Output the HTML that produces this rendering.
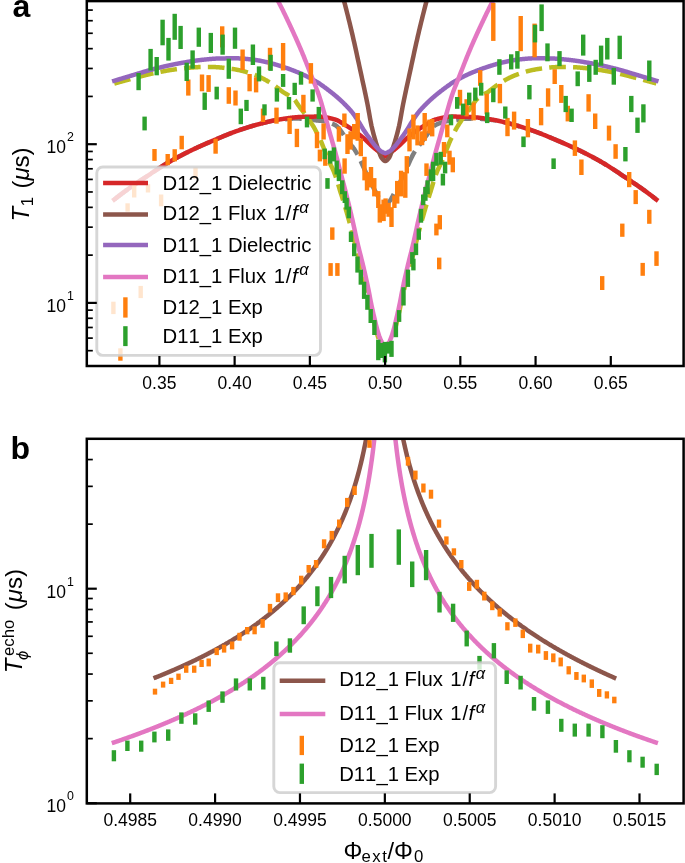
<!DOCTYPE html>
<html><head><meta charset="utf-8"><style>html,body{margin:0;padding:0;background:#fff;}svg{display:block;font-kerning:none;will-change:transform;}</style></head><body>
<svg width="685" height="863" viewBox="0 0 685 863">
<defs><clipPath id="ca"><rect x="86.8" y="1.1" width="596.8" height="364.9"/></clipPath>
<clipPath id="cb"><rect x="86.8" y="438.8" width="596.8" height="364.6"/></clipPath></defs>
<rect width="685" height="863" fill="#fff"/>
<g clip-path="url(#ca)">
<path d="M114.26,199.53 L114.65,199.22 L115.03,198.92 L115.42,198.61 L115.81,198.30 L116.20,198.00 L116.58,197.69 L116.97,197.39 L117.36,197.09 L117.75,196.79 L118.13,196.49 L118.52,196.19 L118.91,195.89 L119.30,195.59 L119.68,195.29 L120.07,195.00 L120.46,194.70 L120.85,194.41 L121.23,194.11 L121.62,193.82 L122.01,193.53 L122.40,193.24 L122.78,192.95 L123.17,192.66 L123.56,192.37 L123.95,192.09 L124.33,191.80 L124.72,191.51 L125.11,191.23 L125.50,190.95 L125.88,190.67 L126.27,190.38 L126.66,190.10 L127.05,189.83 L127.43,189.55 L127.82,189.27 L128.21,188.99 L128.60,188.72 L128.98,188.44 L129.37,188.17 L129.76,187.90 L130.15,187.62 L130.53,187.35 L130.92,187.08 L131.31,186.81 L131.70,186.54 L132.08,186.27 L132.47,186.00 L132.86,185.73 L133.25,185.46 L133.63,185.19 L134.02,184.92 L134.41,184.66 L134.80,184.39 L135.18,184.12 L135.57,183.86 L135.96,183.59 L136.35,183.33 L136.73,183.06 L137.12,182.80 L137.51,182.54 L137.90,182.28 L138.28,182.01 L138.67,181.75 L139.06,181.49 L139.45,181.23 L139.83,180.97 L140.22,180.71 L140.61,180.45 L141.00,180.19 L141.38,179.94 L141.77,179.68 L142.16,179.42 L142.55,179.16 L142.93,178.90 L143.32,178.64 L143.71,178.38 L144.10,178.12 L144.48,177.86 L144.87,177.61 L145.26,177.35 L145.65,177.09 L146.03,176.83 L146.42,176.57 L146.81,176.31 L147.20,176.05 L147.58,175.79 L147.97,175.54 L148.36,175.28 L148.75,175.02 L149.13,174.76 L149.52,174.51 L149.91,174.25 L150.30,173.99 L150.68,173.74 L151.07,173.48 L151.46,173.22 L151.85,172.97 L152.23,172.71 L152.62,172.46 L153.01,172.20 L153.40,171.95 L153.78,171.70 L154.17,171.44 L154.56,171.19 L154.94,170.93 L155.33,170.68 L155.72,170.43 L156.11,170.17 L156.49,169.92 L156.88,169.66 L157.27,169.41 L157.66,169.16 L158.04,168.90 L158.43,168.65 L158.82,168.40 L159.21,168.14 L159.59,167.89 L159.98,167.64 L160.37,167.39 L160.76,167.14 L161.14,166.89 L161.53,166.64 L161.92,166.40 L162.31,166.15 L162.69,165.91 L163.08,165.67 L163.47,165.43 L163.86,165.19 L164.24,164.95 L164.63,164.71 L165.02,164.48 L165.41,164.24 L165.79,164.01 L166.18,163.77 L166.57,163.54 L166.96,163.31 L167.34,163.08 L167.73,162.85 L168.12,162.62 L168.51,162.40 L168.89,162.17 L169.28,161.94 L169.67,161.72 L170.06,161.49 L170.44,161.27 L170.83,161.05 L171.22,160.83 L171.61,160.61 L171.99,160.39 L172.38,160.17 L172.77,159.95 L173.16,159.73 L173.54,159.51 L173.93,159.30 L174.32,159.08 L174.71,158.87 L175.09,158.66 L175.48,158.44 L175.87,158.23 L176.26,158.02 L176.64,157.81 L177.03,157.60 L177.42,157.40 L177.81,157.19 L178.19,156.98 L178.58,156.78 L178.97,156.57 L179.36,156.37 L179.74,156.16 L180.13,155.96 L180.52,155.76 L180.91,155.56 L181.29,155.35 L181.68,155.15 L182.07,154.95 L182.46,154.75 L182.84,154.56 L183.23,154.36 L183.62,154.16 L184.01,153.96 L184.39,153.76 L184.78,153.57 L185.17,153.37 L185.56,153.18 L185.94,152.98 L186.33,152.79 L186.72,152.59 L187.11,152.40 L187.49,152.21 L187.88,152.02 L188.27,151.83 L188.66,151.63 L189.04,151.44 L189.43,151.25 L189.82,151.07 L190.21,150.88 L190.59,150.69 L190.98,150.50 L191.37,150.31 L191.76,150.13 L192.14,149.94 L192.53,149.76 L192.92,149.57 L193.31,149.39 L193.69,149.20 L194.08,149.02 L194.47,148.84 L194.86,148.66 L195.24,148.48 L195.63,148.29 L196.02,148.12 L196.41,147.94 L196.79,147.76 L197.18,147.58 L197.57,147.40 L197.95,147.22 L198.34,147.05 L198.73,146.87 L199.12,146.70 L199.50,146.52 L199.89,146.35 L200.28,146.17 L200.67,146.00 L201.05,145.82 L201.44,145.65 L201.83,145.48 L202.22,145.31 L202.60,145.13 L202.99,144.96 L203.38,144.79 L203.77,144.62 L204.15,144.45 L204.54,144.28 L204.93,144.10 L205.32,143.93 L205.70,143.77 L206.09,143.60 L206.48,143.43 L206.87,143.26 L207.25,143.09 L207.64,142.92 L208.03,142.76 L208.42,142.59 L208.80,142.42 L209.19,142.26 L209.58,142.09 L209.97,141.92 L210.35,141.76 L210.74,141.59 L211.13,141.43 L211.52,141.26 L211.90,141.10 L212.29,140.93 L212.68,140.77 L213.07,140.60 L213.45,140.43 L213.84,140.27 L214.23,140.10 L214.62,139.94 L215.00,139.77 L215.39,139.61 L215.78,139.44 L216.17,139.27 L216.55,139.11 L216.94,138.94 L217.33,138.77 L217.72,138.61 L218.10,138.44 L218.49,138.28 L218.88,138.11 L219.27,137.95 L219.65,137.78 L220.04,137.62 L220.43,137.45 L220.82,137.29 L221.20,137.12 L221.59,136.96 L221.98,136.80 L222.37,136.64 L222.75,136.48 L223.14,136.31 L223.53,136.16 L223.92,136.00 L224.30,135.84 L224.69,135.68 L225.08,135.52 L225.47,135.37 L225.85,135.21 L226.24,135.05 L226.63,134.90 L227.02,134.74 L227.40,134.59 L227.79,134.43 L228.18,134.28 L228.57,134.12 L228.95,133.97 L229.34,133.82 L229.73,133.66 L230.12,133.51 L230.50,133.36 L230.89,133.21 L231.28,133.06 L231.67,132.91 L232.05,132.76 L232.44,132.62 L232.83,132.47 L233.22,132.33 L233.60,132.18 L233.99,132.04 L234.38,131.90 L234.77,131.75 L235.15,131.61 L235.54,131.47 L235.93,131.33 L236.32,131.19 L236.70,131.06 L237.09,130.92 L237.48,130.78 L237.87,130.64 L238.25,130.51 L238.64,130.37 L239.03,130.24 L239.41,130.11 L239.80,129.97 L240.19,129.84 L240.58,129.71 L240.96,129.58 L241.35,129.45 L241.74,129.32 L242.13,129.19 L242.51,129.06 L242.90,128.93 L243.29,128.80 L243.68,128.68 L244.06,128.55 L244.45,128.42 L244.84,128.30 L245.23,128.17 L245.61,128.05 L246.00,127.92 L246.39,127.80 L246.78,127.67 L247.16,127.55 L247.55,127.43 L247.94,127.31 L248.33,127.18 L248.71,127.06 L249.10,126.94 L249.49,126.82 L249.88,126.70 L250.26,126.59 L250.65,126.47 L251.04,126.35 L251.43,126.23 L251.81,126.12 L252.20,126.00 L252.59,125.89 L252.98,125.77 L253.36,125.66 L253.75,125.55 L254.14,125.44 L254.53,125.33 L254.91,125.22 L255.30,125.11 L255.69,125.00 L256.08,124.89 L256.46,124.78 L256.85,124.67 L257.24,124.56 L257.63,124.46 L258.01,124.35 L258.40,124.24 L258.79,124.14 L259.18,124.03 L259.56,123.93 L259.95,123.83 L260.34,123.72 L260.73,123.62 L261.11,123.52 L261.50,123.42 L261.89,123.32 L262.28,123.22 L262.66,123.12 L263.05,123.03 L263.44,122.93 L263.83,122.84 L264.21,122.74 L264.60,122.65 L264.99,122.55 L265.38,122.46 L265.76,122.36 L266.15,122.26 L266.54,122.17 L266.93,122.07 L267.31,121.98 L267.70,121.88 L268.09,121.79 L268.48,121.69 L268.86,121.60 L269.25,121.51 L269.64,121.42 L270.03,121.33 L270.41,121.24 L270.80,121.16 L271.19,121.07 L271.58,120.99 L271.96,120.91 L272.35,120.84 L272.74,120.77 L273.13,120.70 L273.51,120.63 L273.90,120.57 L274.29,120.51 L274.68,120.45 L275.06,120.39 L275.45,120.34 L275.84,120.29 L276.23,120.24 L276.61,120.18 L277.00,120.14 L277.39,120.09 L277.78,120.04 L278.16,120.00 L278.55,119.95 L278.94,119.91 L279.33,119.86 L279.71,119.82 L280.10,119.78 L280.49,119.74 L280.87,119.70 L281.26,119.66 L281.65,119.62 L282.04,119.59 L282.42,119.55 L282.81,119.51 L283.20,119.47 L283.59,119.44 L283.97,119.40 L284.36,119.37 L284.75,119.33 L285.14,119.29 L285.52,119.25 L285.91,119.21 L286.30,119.17 L286.69,119.13 L287.07,119.09 L287.46,119.05 L287.85,119.01 L288.24,118.97 L288.62,118.93 L289.01,118.90 L289.40,118.86 L289.79,118.82 L290.17,118.79 L290.56,118.76 L290.95,118.73 L291.34,118.70 L291.72,118.68 L292.11,118.66 L292.50,118.64 L292.89,118.62 L293.27,118.61 L293.66,118.60 L294.05,118.60 L294.44,118.60 L294.82,118.60 L295.21,118.60 L295.60,118.60 L295.99,118.60 L296.37,118.60 L296.76,118.60 L297.15,118.61 L297.54,118.61 L297.92,118.61 L298.31,118.61 L298.70,118.62 L299.09,118.62 L299.47,118.62 L299.86,118.63 L300.25,118.63 L300.64,118.63 L301.02,118.64 L301.41,118.64 L301.80,118.64 L302.19,118.65 L302.57,118.65 L302.96,118.66 L303.35,118.66 L303.74,118.67 L304.12,118.68 L304.51,118.68 L304.90,118.69 L305.29,118.69 L305.67,118.70 L306.06,118.71 L306.45,118.73 L306.84,118.76 L307.22,118.79 L307.61,118.83 L308.00,118.88 L308.39,118.93 L308.77,118.99 L309.16,119.05 L309.55,119.12 L309.94,119.19 L310.32,119.27 L310.71,119.35 L311.10,119.42 L311.49,119.51 L311.87,119.59 L312.26,119.67 L312.65,119.75 L313.04,119.83 L313.42,119.91 L313.81,119.99 L314.20,120.07 L314.59,120.14 L314.97,120.21 L315.36,120.28 L315.75,120.34 L316.14,120.39 L316.52,120.45 L316.91,120.49 L317.30,120.53 L317.69,120.56 L318.07,120.60 L318.46,120.62 L318.85,120.65 L319.24,120.68 L319.62,120.70 L320.01,120.73 L320.40,120.76 L320.79,120.79 L321.17,120.82 L321.56,120.86 L321.95,120.91 L322.34,120.95 L322.72,121.01 L323.11,121.07 L323.50,121.13 L323.88,121.20 L324.27,121.27 L324.66,121.35 L325.05,121.43 L325.43,121.51 L325.82,121.60 L326.21,121.70 L326.60,121.80 L326.98,121.90 L327.37,122.01 L327.76,122.12 L328.15,122.24 L328.53,122.36 L328.92,122.48 L329.31,122.61 L329.70,122.75 L330.08,122.89 L330.47,123.03 L330.86,123.18 L331.25,123.33 L331.63,123.48 L332.02,123.64 L332.41,123.80 L332.80,123.97 L333.18,124.14 L333.57,124.32 L333.96,124.50 L334.35,124.68 L334.73,124.87 L335.12,125.06 L335.51,125.29 L335.90,125.55 L336.28,125.85 L336.67,126.17 L337.06,126.51 L337.45,126.87 L337.83,127.24 L338.22,127.62 L338.61,128.02 L339.00,128.46 L339.38,128.92 L339.77,129.40 L340.16,129.90 L340.55,130.42 L340.93,130.96 L341.32,131.51 L341.71,132.06 L342.10,132.63 L342.48,133.19 L342.87,133.76 L343.26,134.33 L343.65,134.89 L344.03,135.44 L344.42,135.98 L344.81,136.51 L345.20,137.03 L345.58,137.56 L345.97,138.09 L346.36,138.62 L346.75,139.15 L347.13,139.68 L347.52,140.21 L347.91,140.74 L348.30,141.27 L348.68,141.79 L349.07,142.32 L349.46,142.84 L349.85,143.35 L350.23,143.87 L350.62,144.38 L351.01,144.88 L351.40,145.37 L351.78,145.85 L352.17,146.31 L352.56,146.78 L352.95,147.26 L353.33,147.77 L353.72,148.31 L354.11,148.88 L354.50,149.46 L354.88,150.06 L355.27,150.68 L355.66,151.31 L356.05,151.96 L356.43,152.62 L356.82,153.30 L357.21,153.98 L357.60,154.67 L357.98,155.39 L358.37,156.14 L358.76,156.90 L359.15,157.69 L359.53,158.49 L359.92,159.31 L360.31,160.15 L360.70,161.01 L361.08,161.87 L361.47,162.75 L361.86,163.62 L362.25,164.50 L362.63,165.37 L363.02,166.23 L363.41,167.08 L363.80,167.92 L364.18,168.76 L364.57,169.59 L364.96,170.43 L365.34,171.26 L365.73,172.09 L366.12,172.92 L366.51,173.75 L366.89,174.57 L367.28,175.39 L367.67,176.21 L368.06,177.02 L368.44,177.82 L368.83,178.62 L369.22,179.42 L369.61,180.21 L369.99,180.99 L370.38,181.77 L370.77,182.54 L371.16,183.31 L371.54,184.08 L371.93,184.84 L372.32,185.60 L372.71,186.35 L373.09,187.10 L373.48,187.84 L373.87,188.58 L374.26,189.31 L374.64,190.03 L375.03,190.75 L375.42,191.46 L375.81,192.15 L376.19,192.85 L376.58,193.56 L376.97,194.28 L377.36,195.01 L377.74,195.74 L378.13,196.47 L378.52,197.18 L378.91,197.87 L379.29,198.54 L379.68,199.19 L380.07,199.79 L380.46,200.35 L380.84,200.86 L381.23,201.32 L381.62,201.72 L382.01,202.11 L382.39,202.48 L382.78,202.83 L383.17,203.16 L383.56,203.47 L383.94,203.75 L384.33,204.01 L384.72,204.23 L385.11,204.42 L385.30,204.50 L385.45,204.44 L385.49,204.42 L385.88,204.23 L386.27,204.01 L386.66,203.75 L387.04,203.47 L387.43,203.16 L387.82,202.83 L388.21,202.48 L388.59,202.11 L388.98,201.72 L389.37,201.32 L389.76,200.86 L390.14,200.35 L390.53,199.79 L390.92,199.19 L391.31,198.54 L391.69,197.87 L392.08,197.18 L392.47,196.47 L392.86,195.74 L393.24,195.01 L393.63,194.28 L394.02,193.56 L394.41,192.85 L394.79,192.15 L395.18,191.46 L395.57,190.75 L395.96,190.03 L396.34,189.31 L396.73,188.58 L397.12,187.84 L397.51,187.10 L397.89,186.35 L398.28,185.60 L398.67,184.84 L399.06,184.08 L399.44,183.31 L399.83,182.54 L400.22,181.77 L400.61,180.99 L400.99,180.21 L401.38,179.42 L401.77,178.62 L402.16,177.82 L402.54,177.02 L402.93,176.21 L403.32,175.39 L403.71,174.57 L404.09,173.75 L404.48,172.92 L404.87,172.09 L405.26,171.26 L405.64,170.43 L406.03,169.59 L406.42,168.76 L406.80,167.92 L407.19,167.08 L407.58,166.23 L407.97,165.37 L408.35,164.50 L408.74,163.62 L409.13,162.75 L409.52,161.87 L409.90,161.01 L410.29,160.15 L410.68,159.31 L411.07,158.49 L411.45,157.69 L411.84,156.90 L412.23,156.14 L412.62,155.39 L413.00,154.67 L413.39,153.98 L413.78,153.30 L414.17,152.62 L414.55,151.96 L414.94,151.31 L415.33,150.68 L415.72,150.06 L416.10,149.46 L416.49,148.88 L416.88,148.31 L417.27,147.77 L417.65,147.26 L418.04,146.78 L418.43,146.31 L418.82,145.85 L419.20,145.37 L419.59,144.88 L419.98,144.38 L420.37,143.87 L420.75,143.35 L421.14,142.84 L421.53,142.32 L421.92,141.79 L422.30,141.27 L422.69,140.74 L423.08,140.21 L423.47,139.68 L423.85,139.15 L424.24,138.62 L424.63,138.09 L425.02,137.56 L425.40,137.03 L425.79,136.51 L426.18,135.98 L426.57,135.44 L426.95,134.89 L427.34,134.33 L427.73,133.76 L428.12,133.19 L428.50,132.63 L428.89,132.06 L429.28,131.51 L429.67,130.96 L430.05,130.42 L430.44,129.90 L430.83,129.40 L431.22,128.92 L431.60,128.46 L431.99,128.02 L432.38,127.62 L432.77,127.24 L433.15,126.87 L433.54,126.51 L433.93,126.17 L434.32,125.85 L434.70,125.55 L435.09,125.29 L435.48,125.06 L435.87,124.87 L436.25,124.68 L436.64,124.50 L437.03,124.32 L437.42,124.14 L437.80,123.97 L438.19,123.80 L438.58,123.64 L438.97,123.48 L439.35,123.33 L439.74,123.18 L440.13,123.03 L440.52,122.89 L440.90,122.75 L441.29,122.61 L441.68,122.48 L442.07,122.36 L442.45,122.24 L442.84,122.12 L443.23,122.01 L443.62,121.90 L444.00,121.80 L444.39,121.70 L444.78,121.60 L445.17,121.51 L445.55,121.43 L445.94,121.35 L446.33,121.27 L446.72,121.20 L447.10,121.13 L447.49,121.07 L447.88,121.01 L448.26,120.95 L448.65,120.91 L449.04,120.86 L449.43,120.82 L449.81,120.79 L450.20,120.76 L450.59,120.73 L450.98,120.70 L451.36,120.68 L451.75,120.65 L452.14,120.62 L452.53,120.60 L452.91,120.56 L453.30,120.53 L453.69,120.49 L454.08,120.45 L454.46,120.39 L454.85,120.34 L455.24,120.28 L455.63,120.21 L456.01,120.14 L456.40,120.07 L456.79,119.99 L457.18,119.91 L457.56,119.83 L457.95,119.75 L458.34,119.67 L458.73,119.59 L459.11,119.51 L459.50,119.42 L459.89,119.35 L460.28,119.27 L460.66,119.19 L461.05,119.12 L461.44,119.05 L461.83,118.99 L462.21,118.93 L462.60,118.88 L462.99,118.83 L463.38,118.79 L463.76,118.76 L464.15,118.73 L464.54,118.71 L464.93,118.70 L465.31,118.69 L465.70,118.69 L466.09,118.68 L466.48,118.68 L466.86,118.67 L467.25,118.66 L467.64,118.66 L468.03,118.65 L468.41,118.65 L468.80,118.64 L469.19,118.64 L469.58,118.64 L469.96,118.63 L470.35,118.63 L470.74,118.63 L471.13,118.62 L471.51,118.62 L471.90,118.62 L472.29,118.61 L472.68,118.61 L473.06,118.61 L473.45,118.61 L473.84,118.60 L474.23,118.60 L474.61,118.60 L475.00,118.60 L475.39,118.60 L475.78,118.60 L476.16,118.60 L476.55,118.60 L476.94,118.60 L477.33,118.61 L477.71,118.62 L478.10,118.64 L478.49,118.66 L478.88,118.68 L479.26,118.70 L479.65,118.73 L480.04,118.76 L480.43,118.79 L480.81,118.82 L481.20,118.86 L481.59,118.90 L481.98,118.93 L482.36,118.97 L482.75,119.01 L483.14,119.05 L483.53,119.09 L483.91,119.13 L484.30,119.17 L484.69,119.21 L485.08,119.25 L485.46,119.29 L485.85,119.33 L486.24,119.37 L486.63,119.40 L487.01,119.44 L487.40,119.47 L487.79,119.51 L488.18,119.55 L488.56,119.59 L488.95,119.62 L489.34,119.66 L489.73,119.70 L490.11,119.74 L490.50,119.78 L490.89,119.82 L491.27,119.86 L491.66,119.91 L492.05,119.95 L492.44,120.00 L492.82,120.04 L493.21,120.09 L493.60,120.14 L493.99,120.18 L494.37,120.24 L494.76,120.29 L495.15,120.34 L495.54,120.39 L495.92,120.45 L496.31,120.51 L496.70,120.57 L497.09,120.63 L497.47,120.70 L497.86,120.77 L498.25,120.84 L498.64,120.91 L499.02,120.99 L499.41,121.07 L499.80,121.16 L500.19,121.24 L500.57,121.33 L500.96,121.42 L501.35,121.51 L501.74,121.60 L502.12,121.69 L502.51,121.79 L502.90,121.88 L503.29,121.98 L503.67,122.07 L504.06,122.17 L504.45,122.26 L504.84,122.36 L505.22,122.46 L505.61,122.55 L506.00,122.65 L506.39,122.74 L506.77,122.84 L507.16,122.93 L507.55,123.03 L507.94,123.12 L508.32,123.22 L508.71,123.32 L509.10,123.42 L509.49,123.52 L509.87,123.62 L510.26,123.72 L510.65,123.83 L511.04,123.93 L511.42,124.03 L511.81,124.14 L512.20,124.24 L512.59,124.35 L512.97,124.46 L513.36,124.56 L513.75,124.67 L514.14,124.78 L514.52,124.89 L514.91,125.00 L515.30,125.11 L515.69,125.22 L516.07,125.33 L516.46,125.44 L516.85,125.55 L517.24,125.66 L517.62,125.77 L518.01,125.89 L518.40,126.00 L518.79,126.12 L519.17,126.23 L519.56,126.35 L519.95,126.47 L520.34,126.59 L520.72,126.70 L521.11,126.82 L521.50,126.94 L521.89,127.06 L522.27,127.18 L522.66,127.31 L523.05,127.43 L523.44,127.55 L523.82,127.67 L524.21,127.80 L524.60,127.92 L524.99,128.05 L525.37,128.17 L525.76,128.30 L526.15,128.42 L526.54,128.55 L526.92,128.68 L527.31,128.80 L527.70,128.93 L528.09,129.06 L528.47,129.19 L528.86,129.32 L529.25,129.45 L529.64,129.58 L530.02,129.71 L530.41,129.84 L530.80,129.97 L531.19,130.11 L531.57,130.24 L531.96,130.37 L532.35,130.51 L532.73,130.64 L533.12,130.78 L533.51,130.92 L533.90,131.06 L534.28,131.19 L534.67,131.33 L535.06,131.47 L535.45,131.61 L535.83,131.75 L536.22,131.90 L536.61,132.04 L537.00,132.18 L537.38,132.33 L537.77,132.47 L538.16,132.62 L538.55,132.76 L538.93,132.91 L539.32,133.06 L539.71,133.21 L540.10,133.36 L540.48,133.51 L540.87,133.66 L541.26,133.82 L541.65,133.97 L542.03,134.12 L542.42,134.28 L542.81,134.43 L543.20,134.59 L543.58,134.74 L543.97,134.90 L544.36,135.05 L544.75,135.21 L545.13,135.37 L545.52,135.52 L545.91,135.68 L546.30,135.84 L546.68,136.00 L547.07,136.16 L547.46,136.31 L547.85,136.48 L548.23,136.64 L548.62,136.80 L549.01,136.96 L549.40,137.12 L549.78,137.29 L550.17,137.45 L550.56,137.62 L550.95,137.78 L551.33,137.95 L551.72,138.11 L552.11,138.28 L552.50,138.44 L552.88,138.61 L553.27,138.77 L553.66,138.94 L554.05,139.11 L554.43,139.27 L554.82,139.44 L555.21,139.61 L555.60,139.77 L555.98,139.94 L556.37,140.10 L556.76,140.27 L557.15,140.43 L557.53,140.60 L557.92,140.77 L558.31,140.93 L558.70,141.10 L559.08,141.26 L559.47,141.43 L559.86,141.59 L560.25,141.76 L560.63,141.92 L561.02,142.09 L561.41,142.26 L561.80,142.42 L562.18,142.59 L562.57,142.76 L562.96,142.92 L563.35,143.09 L563.73,143.26 L564.12,143.43 L564.51,143.60 L564.90,143.77 L565.28,143.93 L565.67,144.10 L566.06,144.28 L566.45,144.45 L566.83,144.62 L567.22,144.79 L567.61,144.96 L568.00,145.13 L568.38,145.31 L568.77,145.48 L569.16,145.65 L569.55,145.82 L569.93,146.00 L570.32,146.17 L570.71,146.35 L571.10,146.52 L571.48,146.70 L571.87,146.87 L572.26,147.05 L572.65,147.22 L573.03,147.40 L573.42,147.58 L573.81,147.76 L574.19,147.94 L574.58,148.12 L574.97,148.29 L575.36,148.48 L575.74,148.66 L576.13,148.84 L576.52,149.02 L576.91,149.20 L577.29,149.39 L577.68,149.57 L578.07,149.76 L578.46,149.94 L578.84,150.13 L579.23,150.31 L579.62,150.50 L580.01,150.69 L580.39,150.88 L580.78,151.07 L581.17,151.25 L581.56,151.44 L581.94,151.63 L582.33,151.83 L582.72,152.02 L583.11,152.21 L583.49,152.40 L583.88,152.59 L584.27,152.79 L584.66,152.98 L585.04,153.18 L585.43,153.37 L585.82,153.57 L586.21,153.76 L586.59,153.96 L586.98,154.16 L587.37,154.36 L587.76,154.56 L588.14,154.75 L588.53,154.95 L588.92,155.15 L589.31,155.35 L589.69,155.56 L590.08,155.76 L590.47,155.96 L590.86,156.16 L591.24,156.37 L591.63,156.57 L592.02,156.78 L592.41,156.98 L592.79,157.19 L593.18,157.40 L593.57,157.60 L593.96,157.81 L594.34,158.02 L594.73,158.23 L595.12,158.44 L595.51,158.66 L595.89,158.87 L596.28,159.08 L596.67,159.30 L597.06,159.51 L597.44,159.73 L597.83,159.95 L598.22,160.17 L598.61,160.39 L598.99,160.61 L599.38,160.83 L599.77,161.05 L600.16,161.27 L600.54,161.49 L600.93,161.72 L601.32,161.94 L601.71,162.17 L602.09,162.40 L602.48,162.62 L602.87,162.85 L603.26,163.08 L603.64,163.31 L604.03,163.54 L604.42,163.77 L604.81,164.01 L605.19,164.24 L605.58,164.48 L605.97,164.71 L606.36,164.95 L606.74,165.19 L607.13,165.43 L607.52,165.67 L607.91,165.91 L608.29,166.15 L608.68,166.40 L609.07,166.64 L609.46,166.89 L609.84,167.14 L610.23,167.39 L610.62,167.64 L611.01,167.89 L611.39,168.14 L611.78,168.40 L612.17,168.65 L612.56,168.90 L612.94,169.16 L613.33,169.41 L613.72,169.66 L614.11,169.92 L614.49,170.17 L614.88,170.43 L615.27,170.68 L615.66,170.93 L616.04,171.19 L616.43,171.44 L616.82,171.70 L617.20,171.95 L617.59,172.20 L617.98,172.46 L618.37,172.71 L618.75,172.97 L619.14,173.22 L619.53,173.48 L619.92,173.74 L620.30,173.99 L620.69,174.25 L621.08,174.51 L621.47,174.76 L621.85,175.02 L622.24,175.28 L622.63,175.54 L623.02,175.79 L623.40,176.05 L623.79,176.31 L624.18,176.57 L624.57,176.83 L624.95,177.09 L625.34,177.35 L625.73,177.61 L626.12,177.86 L626.50,178.12 L626.89,178.38 L627.28,178.64 L627.67,178.90 L628.05,179.16 L628.44,179.42 L628.83,179.68 L629.22,179.94 L629.60,180.19 L629.99,180.45 L630.38,180.71 L630.77,180.97 L631.15,181.23 L631.54,181.49 L631.93,181.75 L632.32,182.01 L632.70,182.28 L633.09,182.54 L633.48,182.80 L633.87,183.06 L634.25,183.33 L634.64,183.59 L635.03,183.86 L635.42,184.12 L635.80,184.39 L636.19,184.66 L636.58,184.92 L636.97,185.19 L637.35,185.46 L637.74,185.73 L638.13,186.00 L638.52,186.27 L638.90,186.54 L639.29,186.81 L639.68,187.08 L640.07,187.35 L640.45,187.62 L640.84,187.90 L641.23,188.17 L641.62,188.44 L642.00,188.72 L642.39,188.99 L642.78,189.27 L643.17,189.55 L643.55,189.83 L643.94,190.10 L644.33,190.38 L644.72,190.67 L645.10,190.95 L645.49,191.23 L645.88,191.51 L646.27,191.80 L646.65,192.09 L647.04,192.37 L647.43,192.66 L647.82,192.95 L648.20,193.24 L648.59,193.53 L648.98,193.82 L649.37,194.11 L649.75,194.41 L650.14,194.70 L650.53,195.00 L650.92,195.29 L651.30,195.59 L651.69,195.89 L652.08,196.19 L652.47,196.49 L652.85,196.79 L653.24,197.09 L653.63,197.39 L654.02,197.69 L654.40,198.00 L654.79,198.30 L655.18,198.61 L655.57,198.92 L655.95,199.22 L656.34,199.53" stroke="#7f7f7f" stroke-width="4.5" fill="none" stroke-linejoin="round" stroke-dasharray="16.65 7.20"/>
<path d="M114.26,83.57 L114.65,83.46 L115.03,83.35 L115.42,83.24 L115.81,83.13 L116.20,83.02 L116.58,82.91 L116.97,82.80 L117.36,82.70 L117.75,82.59 L118.13,82.48 L118.52,82.37 L118.91,82.26 L119.30,82.15 L119.68,82.05 L120.07,81.94 L120.46,81.83 L120.85,81.72 L121.23,81.62 L121.62,81.51 L122.01,81.40 L122.40,81.30 L122.78,81.19 L123.17,81.08 L123.56,80.98 L123.95,80.87 L124.33,80.77 L124.72,80.66 L125.11,80.56 L125.50,80.45 L125.88,80.34 L126.27,80.24 L126.66,80.13 L127.05,80.03 L127.43,79.92 L127.82,79.82 L128.21,79.72 L128.60,79.61 L128.98,79.51 L129.37,79.40 L129.76,79.30 L130.15,79.20 L130.53,79.09 L130.92,78.99 L131.31,78.88 L131.70,78.78 L132.08,78.68 L132.47,78.58 L132.86,78.47 L133.25,78.37 L133.63,78.27 L134.02,78.17 L134.41,78.06 L134.80,77.96 L135.18,77.86 L135.57,77.76 L135.96,77.66 L136.35,77.56 L136.73,77.45 L137.12,77.35 L137.51,77.25 L137.90,77.15 L138.28,77.05 L138.67,76.95 L139.06,76.84 L139.45,76.74 L139.83,76.64 L140.22,76.54 L140.61,76.43 L141.00,76.33 L141.38,76.23 L141.77,76.12 L142.16,76.02 L142.55,75.92 L142.93,75.82 L143.32,75.72 L143.71,75.62 L144.10,75.52 L144.48,75.42 L144.87,75.32 L145.26,75.22 L145.65,75.12 L146.03,75.03 L146.42,74.93 L146.81,74.84 L147.20,74.74 L147.58,74.65 L147.97,74.55 L148.36,74.46 L148.75,74.37 L149.13,74.28 L149.52,74.19 L149.91,74.10 L150.30,74.00 L150.68,73.92 L151.07,73.83 L151.46,73.74 L151.85,73.65 L152.23,73.56 L152.62,73.48 L153.01,73.39 L153.40,73.30 L153.78,73.22 L154.17,73.13 L154.56,73.05 L154.94,72.97 L155.33,72.88 L155.72,72.80 L156.11,72.72 L156.49,72.64 L156.88,72.56 L157.27,72.48 L157.66,72.40 L158.04,72.32 L158.43,72.24 L158.82,72.16 L159.21,72.09 L159.59,72.01 L159.98,71.93 L160.37,71.86 L160.76,71.78 L161.14,71.71 L161.53,71.63 L161.92,71.56 L162.31,71.49 L162.69,71.42 L163.08,71.34 L163.47,71.27 L163.86,71.20 L164.24,71.13 L164.63,71.06 L165.02,70.99 L165.41,70.92 L165.79,70.86 L166.18,70.79 L166.57,70.72 L166.96,70.65 L167.34,70.59 L167.73,70.52 L168.12,70.46 L168.51,70.39 L168.89,70.33 L169.28,70.26 L169.67,70.20 L170.06,70.14 L170.44,70.08 L170.83,70.02 L171.22,69.96 L171.61,69.90 L171.99,69.84 L172.38,69.78 L172.77,69.72 L173.16,69.66 L173.54,69.60 L173.93,69.54 L174.32,69.49 L174.71,69.43 L175.09,69.37 L175.48,69.32 L175.87,69.26 L176.26,69.21 L176.64,69.16 L177.03,69.11 L177.42,69.05 L177.81,69.00 L178.19,68.95 L178.58,68.90 L178.97,68.86 L179.36,68.81 L179.74,68.76 L180.13,68.71 L180.52,68.67 L180.91,68.62 L181.29,68.58 L181.68,68.53 L182.07,68.49 L182.46,68.44 L182.84,68.40 L183.23,68.36 L183.62,68.32 L184.01,68.27 L184.39,68.23 L184.78,68.19 L185.17,68.15 L185.56,68.11 L185.94,68.07 L186.33,68.04 L186.72,68.00 L187.11,67.96 L187.49,67.92 L187.88,67.88 L188.27,67.85 L188.66,67.81 L189.04,67.77 L189.43,67.73 L189.82,67.70 L190.21,67.66 L190.59,67.63 L190.98,67.59 L191.37,67.56 L191.76,67.53 L192.14,67.50 L192.53,67.47 L192.92,67.44 L193.31,67.41 L193.69,67.38 L194.08,67.36 L194.47,67.33 L194.86,67.31 L195.24,67.29 L195.63,67.26 L196.02,67.24 L196.41,67.21 L196.79,67.19 L197.18,67.17 L197.57,67.15 L197.95,67.13 L198.34,67.11 L198.73,67.09 L199.12,67.07 L199.50,67.05 L199.89,67.03 L200.28,67.02 L200.67,67.01 L201.05,67.00 L201.44,66.99 L201.83,66.98 L202.22,66.97 L202.60,66.97 L202.99,66.96 L203.38,66.96 L203.77,66.95 L204.15,66.95 L204.54,66.95 L204.93,66.94 L205.32,66.94 L205.70,66.94 L206.09,66.93 L206.48,66.93 L206.87,66.93 L207.25,66.93 L207.64,66.92 L208.03,66.92 L208.42,66.92 L208.80,66.92 L209.19,66.92 L209.58,66.92 L209.97,66.92 L210.35,66.92 L210.74,66.92 L211.13,66.92 L211.52,66.93 L211.90,66.94 L212.29,66.95 L212.68,66.96 L213.07,66.98 L213.45,67.00 L213.84,67.01 L214.23,67.03 L214.62,67.05 L215.00,67.08 L215.39,67.10 L215.78,67.12 L216.17,67.15 L216.55,67.17 L216.94,67.20 L217.33,67.22 L217.72,67.25 L218.10,67.27 L218.49,67.30 L218.88,67.33 L219.27,67.36 L219.65,67.39 L220.04,67.42 L220.43,67.46 L220.82,67.50 L221.20,67.54 L221.59,67.58 L221.98,67.62 L222.37,67.67 L222.75,67.71 L223.14,67.76 L223.53,67.80 L223.92,67.85 L224.30,67.90 L224.69,67.95 L225.08,67.99 L225.47,68.04 L225.85,68.09 L226.24,68.14 L226.63,68.18 L227.02,68.23 L227.40,68.28 L227.79,68.33 L228.18,68.38 L228.57,68.43 L228.95,68.48 L229.34,68.53 L229.73,68.58 L230.12,68.63 L230.50,68.69 L230.89,68.74 L231.28,68.80 L231.67,68.85 L232.05,68.91 L232.44,68.97 L232.83,69.03 L233.22,69.09 L233.60,69.15 L233.99,69.21 L234.38,69.28 L234.77,69.34 L235.15,69.41 L235.54,69.48 L235.93,69.55 L236.32,69.62 L236.70,69.70 L237.09,69.77 L237.48,69.85 L237.87,69.93 L238.25,70.00 L238.64,70.09 L239.03,70.17 L239.41,70.25 L239.80,70.34 L240.19,70.42 L240.58,70.51 L240.96,70.60 L241.35,70.69 L241.74,70.78 L242.13,70.88 L242.51,70.97 L242.90,71.07 L243.29,71.17 L243.68,71.27 L244.06,71.37 L244.45,71.48 L244.84,71.59 L245.23,71.70 L245.61,71.81 L246.00,71.93 L246.39,72.04 L246.78,72.16 L247.16,72.28 L247.55,72.40 L247.94,72.52 L248.33,72.65 L248.71,72.77 L249.10,72.90 L249.49,73.02 L249.88,73.15 L250.26,73.28 L250.65,73.41 L251.04,73.54 L251.43,73.67 L251.81,73.81 L252.20,73.95 L252.59,74.08 L252.98,74.22 L253.36,74.36 L253.75,74.51 L254.14,74.65 L254.53,74.80 L254.91,74.95 L255.30,75.10 L255.69,75.25 L256.08,75.41 L256.46,75.56 L256.85,75.72 L257.24,75.88 L257.63,76.05 L258.01,76.21 L258.40,76.38 L258.79,76.55 L259.18,76.73 L259.56,76.90 L259.95,77.08 L260.34,77.27 L260.73,77.46 L261.11,77.65 L261.50,77.84 L261.89,78.03 L262.28,78.23 L262.66,78.43 L263.05,78.63 L263.44,78.84 L263.83,79.04 L264.21,79.25 L264.60,79.46 L264.99,79.67 L265.38,79.89 L265.76,80.10 L266.15,80.32 L266.54,80.54 L266.93,80.76 L267.31,80.99 L267.70,81.21 L268.09,81.44 L268.48,81.68 L268.86,81.91 L269.25,82.15 L269.64,82.39 L270.03,82.63 L270.41,82.88 L270.80,83.13 L271.19,83.38 L271.58,83.63 L271.96,83.88 L272.35,84.14 L272.74,84.40 L273.13,84.66 L273.51,84.92 L273.90,85.19 L274.29,85.45 L274.68,85.72 L275.06,86.00 L275.45,86.28 L275.84,86.56 L276.23,86.85 L276.61,87.15 L277.00,87.45 L277.39,87.74 L277.78,88.05 L278.16,88.35 L278.55,88.65 L278.94,88.95 L279.33,89.26 L279.71,89.56 L280.10,89.86 L280.49,90.16 L280.87,90.45 L281.26,90.74 L281.65,91.03 L282.04,91.32 L282.42,91.59 L282.81,91.86 L283.20,92.12 L283.59,92.38 L283.97,92.62 L284.36,92.86 L284.75,93.10 L285.14,93.33 L285.52,93.56 L285.91,93.78 L286.30,94.00 L286.69,94.22 L287.07,94.44 L287.46,94.66 L287.85,94.89 L288.24,95.11 L288.62,95.34 L289.01,95.57 L289.40,95.80 L289.79,96.04 L290.17,96.29 L290.56,96.54 L290.95,96.80 L291.34,97.07 L291.72,97.35 L292.11,97.64 L292.50,97.94 L292.89,98.25 L293.27,98.58 L293.66,98.92 L294.05,99.27 L294.44,99.64 L294.82,100.02 L295.21,100.47 L295.60,101.00 L295.99,101.58 L296.37,102.20 L296.76,102.84 L297.15,103.46 L297.54,104.06 L297.92,104.62 L298.31,105.17 L298.70,105.71 L299.09,106.25 L299.47,106.79 L299.86,107.32 L300.25,107.85 L300.64,108.38 L301.02,108.90 L301.41,109.42 L301.80,109.94 L302.19,110.46 L302.57,110.97 L302.96,111.48 L303.35,111.98 L303.74,112.47 L304.12,112.95 L304.51,113.43 L304.90,113.91 L305.29,114.39 L305.67,114.88 L306.06,115.38 L306.45,115.89 L306.84,116.41 L307.22,116.96 L307.61,117.52 L308.00,118.09 L308.39,118.68 L308.77,119.28 L309.16,119.88 L309.55,120.49 L309.94,121.10 L310.32,121.71 L310.71,122.32 L311.10,122.92 L311.49,123.51 L311.87,124.11 L312.26,124.71 L312.65,125.31 L313.04,125.93 L313.42,126.55 L313.81,127.19 L314.20,127.85 L314.59,128.53 L314.97,129.24 L315.36,129.97 L315.75,130.72 L316.14,131.49 L316.52,132.26 L316.91,133.03 L317.30,133.80 L317.69,134.56 L318.07,135.31 L318.46,136.06 L318.85,136.81 L319.24,137.57 L319.62,138.35 L320.01,139.15 L320.40,139.98 L320.79,140.84 L321.17,141.74 L321.56,142.68 L321.95,143.64 L322.34,144.60 L322.72,145.56 L323.11,146.52 L323.50,147.49 L323.88,148.48 L324.27,149.48 L324.66,150.49 L325.05,151.50 L325.43,152.51 L325.82,153.52 L326.21,154.53 L326.60,155.53 L326.98,156.52 L327.37,157.49 L327.76,158.46 L328.15,159.40 L328.53,160.32 L328.92,161.22 L329.31,162.09 L329.70,162.92 L330.08,163.72 L330.47,164.50 L330.86,165.26 L331.25,166.02 L331.63,166.78 L332.02,167.56 L332.41,168.35 L332.80,169.17 L333.18,170.03 L333.57,170.93 L333.96,171.88 L334.35,172.88 L334.73,173.91 L335.12,174.98 L335.51,176.07 L335.90,177.20 L336.28,178.34 L336.67,179.50 L337.06,180.68 L337.45,181.90 L337.83,183.17 L338.22,184.48 L338.61,185.80 L339.00,187.13 L339.38,188.45 L339.77,189.75 L340.16,191.01 L340.55,192.24 L340.93,193.46 L341.32,194.66 L341.71,195.85 L342.10,197.05 L342.48,198.25 L342.87,199.47 L343.26,200.71 L343.65,201.98 L344.03,203.27 L344.42,204.56 L344.81,205.86 L345.20,207.17 L345.58,208.49 L345.97,209.82 L346.36,211.15 L346.75,212.50 L347.13,213.85 L347.52,215.21 L347.91,216.58 L348.30,217.96 L348.68,219.34 L349.07,220.74 L349.46,222.14 L349.85,223.54 L350.23,224.96 L350.62,226.38 L351.01,227.81 L351.40,229.25 L351.78,230.72 L352.17,232.19 L352.56,233.69 L352.95,235.20 L353.33,236.71 L353.72,238.24 L354.11,239.78 L354.50,241.35 L354.88,242.94 L355.27,244.55 L355.66,246.16 L356.05,247.77 L356.43,249.36 L356.82,250.92 L357.21,252.44 L357.60,253.94 L357.98,255.42 L358.37,256.88 L358.76,258.33 L359.15,259.77 L359.53,261.22 L359.92,262.66 L360.31,264.11 L360.70,265.54 L361.08,266.96 L361.47,268.38 L361.86,269.80 L362.25,271.24 L362.63,272.70 L363.02,274.18 L363.41,275.68 L363.80,277.19 L364.18,278.72 L364.57,280.27 L364.96,281.83 L365.34,283.41 L365.73,285.01 L366.12,286.62 L366.51,288.26 L366.89,289.91 L367.28,291.58 L367.67,293.27 L368.06,294.98 L368.44,296.71 L368.83,298.46 L369.22,300.23 L369.61,302.07 L369.99,303.94 L370.38,305.84 L370.77,307.74 L371.16,309.62 L371.54,311.45 L371.93,313.22 L372.32,314.91 L372.71,316.58 L373.09,318.20 L373.48,319.80 L373.87,321.37 L374.26,322.92 L374.64,324.45 L375.03,325.96 L375.42,327.48 L375.81,329.00 L376.19,330.51 L376.58,331.99 L376.97,333.43 L377.36,334.81 L377.74,336.12 L378.13,337.33 L378.52,338.51 L378.91,339.65 L379.29,340.76 L379.68,341.81 L380.07,342.80 L380.46,343.72 L380.84,344.57 L381.23,345.34 L381.62,346.07 L382.01,346.77 L382.39,347.42 L382.78,348.03 L383.17,348.60 L383.56,349.12 L383.94,349.60 L384.33,350.03 L384.72,350.42 L385.11,350.77 L385.30,350.93 L385.45,351.04 L385.49,351.01 L385.88,350.70 L386.27,350.34 L386.66,349.94 L387.04,349.49 L387.43,349.01 L387.82,348.47 L388.21,347.89 L388.59,347.27 L388.98,346.61 L389.37,345.91 L389.76,345.17 L390.14,344.39 L390.53,343.52 L390.92,342.58 L391.31,341.57 L391.69,340.51 L392.08,339.40 L392.47,338.25 L392.86,337.06 L393.24,335.83 L393.63,334.51 L394.02,333.11 L394.41,331.66 L394.79,330.17 L395.18,328.66 L395.57,327.14 L395.96,325.62 L396.34,324.11 L396.73,322.57 L397.12,321.02 L397.51,319.44 L397.89,317.84 L398.28,316.20 L398.67,314.53 L399.06,312.82 L399.44,311.04 L399.83,309.20 L400.22,307.31 L400.61,305.41 L400.99,303.52 L401.38,301.65 L401.77,299.83 L402.16,298.06 L402.54,296.32 L402.93,294.59 L403.32,292.89 L403.71,291.20 L404.09,289.54 L404.48,287.89 L404.87,286.26 L405.26,284.65 L405.64,283.05 L406.03,281.48 L406.42,279.92 L406.80,278.38 L407.19,276.85 L407.58,275.34 L407.97,273.84 L408.35,272.37 L408.74,270.92 L409.13,269.48 L409.52,268.06 L409.90,266.64 L410.29,265.22 L410.68,263.78 L411.07,262.34 L411.45,260.89 L411.84,259.45 L412.23,258.00 L412.62,256.55 L413.00,255.08 L413.39,253.60 L413.78,252.10 L414.17,250.57 L414.55,249.00 L414.94,247.41 L415.33,245.80 L415.72,244.19 L416.10,242.58 L416.49,240.99 L416.88,239.43 L417.27,237.90 L417.65,236.37 L418.04,234.85 L418.43,233.35 L418.82,231.86 L419.20,230.38 L419.59,228.93 L419.98,227.49 L420.37,226.06 L420.75,224.64 L421.14,223.23 L421.53,221.82 L421.92,220.42 L422.30,219.03 L422.69,217.65 L423.08,216.27 L423.47,214.90 L423.85,213.54 L424.24,212.19 L424.63,210.85 L425.02,209.52 L425.40,208.19 L425.79,206.87 L426.18,205.57 L426.57,204.27 L426.95,202.98 L427.34,201.69 L427.73,200.43 L428.12,199.19 L428.50,197.98 L428.89,196.77 L429.28,195.58 L429.67,194.39 L430.05,193.18 L430.44,191.97 L430.83,190.73 L431.22,189.46 L431.60,188.16 L431.99,186.83 L432.38,185.50 L432.77,184.18 L433.15,182.88 L433.54,181.62 L433.93,180.41 L434.32,179.24 L434.70,178.08 L435.09,176.94 L435.48,175.82 L435.87,174.73 L436.25,173.67 L436.64,172.65 L437.03,171.67 L437.42,170.72 L437.80,169.83 L438.19,168.98 L438.58,168.17 L438.97,167.38 L439.35,166.61 L439.74,165.85 L440.13,165.09 L440.52,164.32 L440.90,163.54 L441.29,162.74 L441.68,161.90 L442.07,161.02 L442.45,160.12 L442.84,159.19 L443.23,158.24 L443.62,157.28 L444.00,156.29 L444.39,155.30 L444.78,154.30 L445.17,153.29 L445.55,152.28 L445.94,151.27 L446.33,150.26 L446.72,149.26 L447.10,148.26 L447.49,147.27 L447.88,146.30 L448.26,145.34 L448.65,144.38 L449.04,143.42 L449.43,142.47 L449.81,141.54 L450.20,140.64 L450.59,139.79 L450.98,138.97 L451.36,138.17 L451.75,137.40 L452.14,136.64 L452.53,135.89 L452.91,135.14 L453.30,134.39 L453.69,133.63 L454.08,132.86 L454.46,132.08 L454.85,131.31 L455.24,130.55 L455.63,129.80 L456.01,129.08 L456.40,128.37 L456.79,127.70 L457.18,127.05 L457.56,126.41 L457.95,125.79 L458.34,125.18 L458.73,124.57 L459.11,123.98 L459.50,123.38 L459.89,122.78 L460.28,122.18 L460.66,121.57 L461.05,120.96 L461.44,120.35 L461.83,119.75 L462.21,119.14 L462.60,118.55 L462.99,117.96 L463.38,117.39 L463.76,116.83 L464.15,116.29 L464.54,115.77 L464.93,115.26 L465.31,114.77 L465.70,114.28 L466.09,113.80 L466.48,113.33 L466.86,112.85 L467.25,112.36 L467.64,111.87 L468.03,111.37 L468.41,110.85 L468.80,110.34 L469.19,109.82 L469.58,109.31 L469.96,108.78 L470.35,108.26 L470.74,107.73 L471.13,107.20 L471.51,106.67 L471.90,106.13 L472.29,105.59 L472.68,105.04 L473.06,104.49 L473.45,103.93 L473.84,103.32 L474.23,102.69 L474.61,102.06 L475.00,101.44 L475.39,100.87 L475.78,100.36 L476.16,99.94 L476.55,99.56 L476.94,99.19 L477.33,98.84 L477.71,98.51 L478.10,98.18 L478.49,97.87 L478.88,97.58 L479.26,97.29 L479.65,97.01 L480.04,96.74 L480.43,96.48 L480.81,96.23 L481.20,95.99 L481.59,95.75 L481.98,95.51 L482.36,95.28 L482.75,95.06 L483.14,94.84 L483.53,94.61 L483.91,94.39 L484.30,94.17 L484.69,93.95 L485.08,93.73 L485.46,93.51 L485.85,93.28 L486.24,93.05 L486.63,92.81 L487.01,92.57 L487.40,92.32 L487.79,92.07 L488.18,91.80 L488.56,91.53 L488.95,91.25 L489.34,90.97 L489.73,90.68 L490.11,90.39 L490.50,90.09 L490.89,89.79 L491.27,89.49 L491.66,89.19 L492.05,88.89 L492.44,88.58 L492.82,88.28 L493.21,87.98 L493.60,87.68 L493.99,87.38 L494.37,87.08 L494.76,86.79 L495.15,86.50 L495.54,86.21 L495.92,85.93 L496.31,85.66 L496.70,85.39 L497.09,85.13 L497.47,84.86 L497.86,84.60 L498.25,84.34 L498.64,84.08 L499.02,83.83 L499.41,83.57 L499.80,83.32 L500.19,83.07 L500.57,82.82 L500.96,82.58 L501.35,82.34 L501.74,82.10 L502.12,81.86 L502.51,81.62 L502.90,81.39 L503.29,81.16 L503.67,80.93 L504.06,80.71 L504.45,80.49 L504.84,80.27 L505.22,80.05 L505.61,79.84 L506.00,79.63 L506.39,79.41 L506.77,79.20 L507.16,79.00 L507.55,78.79 L507.94,78.59 L508.32,78.38 L508.71,78.19 L509.10,77.99 L509.49,77.79 L509.87,77.60 L510.26,77.41 L510.65,77.23 L511.04,77.04 L511.42,76.86 L511.81,76.69 L512.20,76.51 L512.59,76.34 L512.97,76.17 L513.36,76.01 L513.75,75.85 L514.14,75.68 L514.52,75.53 L514.91,75.37 L515.30,75.22 L515.69,75.06 L516.07,74.91 L516.46,74.76 L516.85,74.62 L517.24,74.47 L517.62,74.33 L518.01,74.19 L518.40,74.05 L518.79,73.91 L519.17,73.78 L519.56,73.64 L519.95,73.51 L520.34,73.38 L520.72,73.25 L521.11,73.12 L521.50,73.00 L521.89,72.87 L522.27,72.74 L522.66,72.62 L523.05,72.50 L523.44,72.37 L523.82,72.25 L524.21,72.13 L524.60,72.02 L524.99,71.90 L525.37,71.79 L525.76,71.67 L526.15,71.56 L526.54,71.46 L526.92,71.35 L527.31,71.25 L527.70,71.15 L528.09,71.05 L528.47,70.95 L528.86,70.85 L529.25,70.76 L529.64,70.67 L530.02,70.58 L530.41,70.49 L530.80,70.40 L531.19,70.32 L531.57,70.23 L531.96,70.15 L532.35,70.07 L532.73,69.99 L533.12,69.91 L533.51,69.83 L533.90,69.75 L534.28,69.68 L534.67,69.61 L535.06,69.53 L535.45,69.46 L535.83,69.40 L536.22,69.33 L536.61,69.26 L537.00,69.20 L537.38,69.14 L537.77,69.07 L538.16,69.01 L538.55,68.95 L538.93,68.90 L539.32,68.84 L539.71,68.78 L540.10,68.73 L540.48,68.67 L540.87,68.62 L541.26,68.57 L541.65,68.52 L542.03,68.47 L542.42,68.42 L542.81,68.37 L543.20,68.32 L543.58,68.27 L543.97,68.22 L544.36,68.17 L544.75,68.13 L545.13,68.08 L545.52,68.03 L545.91,67.98 L546.30,67.93 L546.68,67.89 L547.07,67.84 L547.46,67.79 L547.85,67.75 L548.23,67.70 L548.62,67.66 L549.01,67.61 L549.40,67.57 L549.78,67.53 L550.17,67.49 L550.56,67.45 L550.95,67.41 L551.33,67.38 L551.72,67.35 L552.11,67.32 L552.50,67.29 L552.88,67.27 L553.27,67.24 L553.66,67.22 L554.05,67.19 L554.43,67.17 L554.82,67.14 L555.21,67.12 L555.60,67.09 L555.98,67.07 L556.37,67.05 L556.76,67.03 L557.15,67.01 L557.53,66.99 L557.92,66.98 L558.31,66.96 L558.70,66.95 L559.08,66.94 L559.47,66.93 L559.86,66.92 L560.25,66.92 L560.63,66.92 L561.02,66.92 L561.41,66.92 L561.80,66.92 L562.18,66.92 L562.57,66.92 L562.96,66.92 L563.35,66.92 L563.73,66.93 L564.12,66.93 L564.51,66.93 L564.90,66.93 L565.28,66.94 L565.67,66.94 L566.06,66.94 L566.45,66.95 L566.83,66.95 L567.22,66.96 L567.61,66.96 L568.00,66.96 L568.38,66.97 L568.77,66.97 L569.16,66.98 L569.55,66.99 L569.93,67.00 L570.32,67.01 L570.71,67.02 L571.10,67.04 L571.48,67.05 L571.87,67.07 L572.26,67.09 L572.65,67.11 L573.03,67.13 L573.42,67.15 L573.81,67.17 L574.19,67.20 L574.58,67.22 L574.97,67.24 L575.36,67.27 L575.74,67.29 L576.13,67.32 L576.52,67.34 L576.91,67.36 L577.29,67.39 L577.68,67.41 L578.07,67.44 L578.46,67.47 L578.84,67.50 L579.23,67.53 L579.62,67.57 L580.01,67.60 L580.39,67.64 L580.78,67.67 L581.17,67.71 L581.56,67.74 L581.94,67.78 L582.33,67.82 L582.72,67.85 L583.11,67.89 L583.49,67.93 L583.88,67.97 L584.27,68.01 L584.66,68.04 L585.04,68.08 L585.43,68.12 L585.82,68.16 L586.21,68.20 L586.59,68.24 L586.98,68.28 L587.37,68.33 L587.76,68.37 L588.14,68.41 L588.53,68.45 L588.92,68.50 L589.31,68.54 L589.69,68.59 L590.08,68.63 L590.47,68.68 L590.86,68.72 L591.24,68.77 L591.63,68.82 L592.02,68.87 L592.41,68.92 L592.79,68.96 L593.18,69.01 L593.57,69.07 L593.96,69.12 L594.34,69.17 L594.73,69.22 L595.12,69.28 L595.51,69.33 L595.89,69.39 L596.28,69.44 L596.67,69.50 L597.06,69.56 L597.44,69.61 L597.83,69.67 L598.22,69.73 L598.61,69.79 L598.99,69.85 L599.38,69.91 L599.77,69.97 L600.16,70.03 L600.54,70.09 L600.93,70.15 L601.32,70.22 L601.71,70.28 L602.09,70.34 L602.48,70.41 L602.87,70.47 L603.26,70.54 L603.64,70.60 L604.03,70.67 L604.42,70.74 L604.81,70.80 L605.19,70.87 L605.58,70.94 L605.97,71.01 L606.36,71.08 L606.74,71.15 L607.13,71.22 L607.52,71.29 L607.91,71.36 L608.29,71.43 L608.68,71.50 L609.07,71.58 L609.46,71.65 L609.84,71.72 L610.23,71.80 L610.62,71.87 L611.01,71.95 L611.39,72.03 L611.78,72.10 L612.17,72.18 L612.56,72.26 L612.94,72.34 L613.33,72.42 L613.72,72.50 L614.11,72.58 L614.49,72.66 L614.88,72.74 L615.27,72.82 L615.66,72.90 L616.04,72.99 L616.43,73.07 L616.82,73.15 L617.20,73.24 L617.59,73.32 L617.98,73.41 L618.37,73.49 L618.75,73.58 L619.14,73.67 L619.53,73.76 L619.92,73.85 L620.30,73.94 L620.69,74.03 L621.08,74.12 L621.47,74.21 L621.85,74.30 L622.24,74.39 L622.63,74.48 L623.02,74.58 L623.40,74.67 L623.79,74.76 L624.18,74.86 L624.57,74.95 L624.95,75.05 L625.34,75.14 L625.73,75.24 L626.12,75.34 L626.50,75.44 L626.89,75.54 L627.28,75.64 L627.67,75.74 L628.05,75.84 L628.44,75.94 L628.83,76.04 L629.22,76.15 L629.60,76.25 L629.99,76.35 L630.38,76.46 L630.77,76.56 L631.15,76.66 L631.54,76.76 L631.93,76.87 L632.32,76.97 L632.70,77.07 L633.09,77.17 L633.48,77.27 L633.87,77.37 L634.25,77.48 L634.64,77.58 L635.03,77.68 L635.42,77.78 L635.80,77.88 L636.19,77.99 L636.58,78.09 L636.97,78.19 L637.35,78.29 L637.74,78.39 L638.13,78.50 L638.52,78.60 L638.90,78.70 L639.29,78.81 L639.68,78.91 L640.07,79.01 L640.45,79.11 L640.84,79.22 L641.23,79.32 L641.62,79.43 L642.00,79.53 L642.39,79.63 L642.78,79.74 L643.17,79.84 L643.55,79.95 L643.94,80.05 L644.33,80.16 L644.72,80.26 L645.10,80.37 L645.49,80.47 L645.88,80.58 L646.27,80.68 L646.65,80.79 L647.04,80.90 L647.43,81.00 L647.82,81.11 L648.20,81.21 L648.59,81.32 L648.98,81.43 L649.37,81.54 L649.75,81.64 L650.14,81.75 L650.53,81.86 L650.92,81.96 L651.30,82.07 L651.69,82.18 L652.08,82.29 L652.47,82.39 L652.85,82.50 L653.24,82.61 L653.63,82.72 L654.02,82.83 L654.40,82.94 L654.79,83.05 L655.18,83.16 L655.57,83.26 L655.95,83.37 L656.34,83.48" stroke="#bcbd22" stroke-width="4.5" fill="none" stroke-linejoin="round" stroke-dasharray="16.65 7.20"/>
<path d="M114.26,199.53 L114.65,199.23 L115.03,198.92 L115.42,198.62 L115.81,198.31 L116.20,198.01 L116.58,197.70 L116.97,197.40 L117.36,197.10 L117.75,196.80 L118.13,196.50 L118.52,196.20 L118.91,195.90 L119.30,195.60 L119.68,195.30 L120.07,195.00 L120.46,194.71 L120.85,194.41 L121.23,194.12 L121.62,193.82 L122.01,193.53 L122.40,193.24 L122.78,192.95 L123.17,192.66 L123.56,192.37 L123.95,192.09 L124.33,191.80 L124.72,191.51 L125.11,191.23 L125.50,190.95 L125.88,190.67 L126.27,190.39 L126.66,190.11 L127.05,189.83 L127.43,189.55 L127.82,189.27 L128.21,188.99 L128.60,188.72 L128.98,188.44 L129.37,188.17 L129.76,187.89 L130.15,187.62 L130.53,187.35 L130.92,187.08 L131.31,186.81 L131.70,186.53 L132.08,186.26 L132.47,186.00 L132.86,185.73 L133.25,185.46 L133.63,185.19 L134.02,184.92 L134.41,184.66 L134.80,184.39 L135.18,184.12 L135.57,183.86 L135.96,183.59 L136.35,183.33 L136.73,183.07 L137.12,182.80 L137.51,182.54 L137.90,182.28 L138.28,182.01 L138.67,181.75 L139.06,181.49 L139.45,181.23 L139.83,180.97 L140.22,180.71 L140.61,180.45 L141.00,180.19 L141.38,179.93 L141.77,179.67 L142.16,179.41 L142.55,179.15 L142.93,178.90 L143.32,178.64 L143.71,178.38 L144.10,178.12 L144.48,177.87 L144.87,177.61 L145.26,177.35 L145.65,177.09 L146.03,176.84 L146.42,176.58 L146.81,176.32 L147.20,176.07 L147.58,175.81 L147.97,175.55 L148.36,175.30 L148.75,175.04 L149.13,174.78 L149.52,174.53 L149.91,174.27 L150.30,174.01 L150.68,173.76 L151.07,173.50 L151.46,173.24 L151.85,172.98 L152.23,172.73 L152.62,172.47 L153.01,172.21 L153.40,171.96 L153.78,171.70 L154.17,171.44 L154.56,171.19 L154.94,170.93 L155.33,170.67 L155.72,170.42 L156.11,170.16 L156.49,169.91 L156.88,169.66 L157.27,169.40 L157.66,169.15 L158.04,168.90 L158.43,168.64 L158.82,168.39 L159.21,168.14 L159.59,167.89 L159.98,167.64 L160.37,167.39 L160.76,167.15 L161.14,166.90 L161.53,166.65 L161.92,166.41 L162.31,166.16 L162.69,165.92 L163.08,165.67 L163.47,165.43 L163.86,165.19 L164.24,164.95 L164.63,164.71 L165.02,164.47 L165.41,164.23 L165.79,164.00 L166.18,163.76 L166.57,163.53 L166.96,163.30 L167.34,163.06 L167.73,162.83 L168.12,162.60 L168.51,162.38 L168.89,162.15 L169.28,161.93 L169.67,161.70 L170.06,161.48 L170.44,161.26 L170.83,161.04 L171.22,160.82 L171.61,160.60 L171.99,160.38 L172.38,160.16 L172.77,159.94 L173.16,159.73 L173.54,159.51 L173.93,159.30 L174.32,159.08 L174.71,158.87 L175.09,158.66 L175.48,158.45 L175.87,158.24 L176.26,158.03 L176.64,157.82 L177.03,157.61 L177.42,157.40 L177.81,157.19 L178.19,156.98 L178.58,156.78 L178.97,156.57 L179.36,156.37 L179.74,156.16 L180.13,155.96 L180.52,155.76 L180.91,155.56 L181.29,155.35 L181.68,155.15 L182.07,154.95 L182.46,154.75 L182.84,154.56 L183.23,154.36 L183.62,154.16 L184.01,153.96 L184.39,153.77 L184.78,153.57 L185.17,153.37 L185.56,153.18 L185.94,152.98 L186.33,152.79 L186.72,152.60 L187.11,152.40 L187.49,152.21 L187.88,152.02 L188.27,151.83 L188.66,151.64 L189.04,151.45 L189.43,151.26 L189.82,151.07 L190.21,150.88 L190.59,150.69 L190.98,150.50 L191.37,150.32 L191.76,150.13 L192.14,149.94 L192.53,149.76 L192.92,149.57 L193.31,149.39 L193.69,149.20 L194.08,149.02 L194.47,148.84 L194.86,148.66 L195.24,148.48 L195.63,148.29 L196.02,148.11 L196.41,147.93 L196.79,147.76 L197.18,147.58 L197.57,147.40 L197.95,147.22 L198.34,147.05 L198.73,146.87 L199.12,146.69 L199.50,146.52 L199.89,146.34 L200.28,146.17 L200.67,145.99 L201.05,145.82 L201.44,145.65 L201.83,145.47 L202.22,145.30 L202.60,145.13 L202.99,144.96 L203.38,144.79 L203.77,144.62 L204.15,144.45 L204.54,144.28 L204.93,144.11 L205.32,143.94 L205.70,143.77 L206.09,143.60 L206.48,143.43 L206.87,143.26 L207.25,143.09 L207.64,142.93 L208.03,142.76 L208.42,142.59 L208.80,142.42 L209.19,142.26 L209.58,142.09 L209.97,141.92 L210.35,141.76 L210.74,141.59 L211.13,141.43 L211.52,141.26 L211.90,141.10 L212.29,140.93 L212.68,140.76 L213.07,140.60 L213.45,140.43 L213.84,140.27 L214.23,140.10 L214.62,139.94 L215.00,139.77 L215.39,139.61 L215.78,139.44 L216.17,139.28 L216.55,139.11 L216.94,138.95 L217.33,138.78 L217.72,138.61 L218.10,138.45 L218.49,138.28 L218.88,138.12 L219.27,137.95 L219.65,137.79 L220.04,137.63 L220.43,137.46 L220.82,137.30 L221.20,137.13 L221.59,136.97 L221.98,136.81 L222.37,136.65 L222.75,136.48 L223.14,136.32 L223.53,136.16 L223.92,136.00 L224.30,135.84 L224.69,135.68 L225.08,135.52 L225.47,135.36 L225.85,135.20 L226.24,135.04 L226.63,134.89 L227.02,134.73 L227.40,134.57 L227.79,134.42 L228.18,134.26 L228.57,134.11 L228.95,133.95 L229.34,133.80 L229.73,133.65 L230.12,133.50 L230.50,133.35 L230.89,133.20 L231.28,133.05 L231.67,132.90 L232.05,132.76 L232.44,132.61 L232.83,132.47 L233.22,132.32 L233.60,132.18 L233.99,132.04 L234.38,131.90 L234.77,131.76 L235.15,131.62 L235.54,131.48 L235.93,131.34 L236.32,131.20 L236.70,131.07 L237.09,130.93 L237.48,130.79 L237.87,130.66 L238.25,130.52 L238.64,130.39 L239.03,130.25 L239.41,130.12 L239.80,129.99 L240.19,129.85 L240.58,129.72 L240.96,129.59 L241.35,129.46 L241.74,129.33 L242.13,129.19 L242.51,129.06 L242.90,128.93 L243.29,128.81 L243.68,128.68 L244.06,128.55 L244.45,128.42 L244.84,128.29 L245.23,128.17 L245.61,128.04 L246.00,127.92 L246.39,127.79 L246.78,127.67 L247.16,127.54 L247.55,127.42 L247.94,127.30 L248.33,127.18 L248.71,127.06 L249.10,126.94 L249.49,126.82 L249.88,126.70 L250.26,126.58 L250.65,126.46 L251.04,126.35 L251.43,126.23 L251.81,126.11 L252.20,126.00 L252.59,125.89 L252.98,125.77 L253.36,125.66 L253.75,125.55 L254.14,125.44 L254.53,125.33 L254.91,125.22 L255.30,125.11 L255.69,125.00 L256.08,124.89 L256.46,124.79 L256.85,124.68 L257.24,124.58 L257.63,124.47 L258.01,124.37 L258.40,124.27 L258.79,124.16 L259.18,124.06 L259.56,123.96 L259.95,123.86 L260.34,123.75 L260.73,123.65 L261.11,123.55 L261.50,123.45 L261.89,123.35 L262.28,123.24 L262.66,123.14 L263.05,123.04 L263.44,122.94 L263.83,122.84 L264.21,122.74 L264.60,122.64 L264.99,122.54 L265.38,122.45 L265.76,122.35 L266.15,122.25 L266.54,122.15 L266.93,122.06 L267.31,121.96 L267.70,121.87 L268.09,121.77 L268.48,121.68 L268.86,121.59 L269.25,121.50 L269.64,121.40 L270.03,121.31 L270.41,121.22 L270.80,121.14 L271.19,121.05 L271.58,120.96 L271.96,120.88 L272.35,120.79 L272.74,120.71 L273.13,120.63 L273.51,120.54 L273.90,120.46 L274.29,120.39 L274.68,120.31 L275.06,120.23 L275.45,120.15 L275.84,120.08 L276.23,120.01 L276.61,119.94 L277.00,119.87 L277.39,119.80 L277.78,119.73 L278.16,119.66 L278.55,119.60 L278.94,119.54 L279.33,119.47 L279.71,119.41 L280.10,119.35 L280.49,119.30 L280.87,119.24 L281.26,119.18 L281.65,119.12 L282.04,119.06 L282.42,119.00 L282.81,118.94 L283.20,118.88 L283.59,118.82 L283.97,118.77 L284.36,118.71 L284.75,118.65 L285.14,118.59 L285.52,118.53 L285.91,118.48 L286.30,118.42 L286.69,118.37 L287.07,118.31 L287.46,118.26 L287.85,118.20 L288.24,118.15 L288.62,118.09 L289.01,118.04 L289.40,117.99 L289.79,117.94 L290.17,117.89 L290.56,117.84 L290.95,117.79 L291.34,117.74 L291.72,117.70 L292.11,117.65 L292.50,117.60 L292.89,117.56 L293.27,117.52 L293.66,117.48 L294.05,117.43 L294.44,117.39 L294.82,117.36 L295.21,117.32 L295.60,117.28 L295.99,117.25 L296.37,117.21 L296.76,117.18 L297.15,117.15 L297.54,117.12 L297.92,117.09 L298.31,117.07 L298.70,117.04 L299.09,117.02 L299.47,117.00 L299.86,116.97 L300.25,116.96 L300.64,116.94 L301.02,116.92 L301.41,116.91 L301.80,116.90 L302.19,116.89 L302.57,116.87 L302.96,116.86 L303.35,116.85 L303.74,116.84 L304.12,116.83 L304.51,116.82 L304.90,116.81 L305.29,116.80 L305.67,116.79 L306.06,116.78 L306.45,116.77 L306.84,116.76 L307.22,116.75 L307.61,116.74 L308.00,116.73 L308.39,116.72 L308.77,116.71 L309.16,116.71 L309.55,116.70 L309.94,116.69 L310.32,116.68 L310.71,116.68 L311.10,116.67 L311.49,116.66 L311.87,116.66 L312.26,116.65 L312.65,116.64 L313.04,116.64 L313.42,116.63 L313.81,116.63 L314.20,116.62 L314.59,116.62 L314.97,116.62 L315.36,116.61 L315.75,116.61 L316.14,116.61 L316.52,116.61 L316.91,116.60 L317.30,116.60 L317.69,116.60 L318.07,116.60 L318.46,116.60 L318.85,116.60 L319.24,116.61 L319.62,116.62 L320.01,116.63 L320.40,116.65 L320.79,116.67 L321.17,116.70 L321.56,116.73 L321.95,116.77 L322.34,116.80 L322.72,116.85 L323.11,116.89 L323.50,116.94 L323.88,116.99 L324.27,117.05 L324.66,117.10 L325.05,117.16 L325.43,117.23 L325.82,117.30 L326.21,117.37 L326.60,117.44 L326.98,117.51 L327.37,117.59 L327.76,117.67 L328.15,117.75 L328.53,117.84 L328.92,117.92 L329.31,118.01 L329.70,118.10 L330.08,118.19 L330.47,118.29 L330.86,118.38 L331.25,118.48 L331.63,118.58 L332.02,118.68 L332.41,118.78 L332.80,118.88 L333.18,118.99 L333.57,119.09 L333.96,119.20 L334.35,119.31 L334.73,119.41 L335.12,119.52 L335.51,119.63 L335.90,119.75 L336.28,119.89 L336.67,120.03 L337.06,120.19 L337.45,120.37 L337.83,120.55 L338.22,120.74 L338.61,120.94 L339.00,121.16 L339.38,121.37 L339.77,121.60 L340.16,121.83 L340.55,122.06 L340.93,122.30 L341.32,122.55 L341.71,122.79 L342.10,123.04 L342.48,123.29 L342.87,123.54 L343.26,123.79 L343.65,124.04 L344.03,124.28 L344.42,124.53 L344.81,124.76 L345.20,125.00 L345.58,125.23 L345.97,125.46 L346.36,125.70 L346.75,125.93 L347.13,126.17 L347.52,126.41 L347.91,126.65 L348.30,126.89 L348.68,127.13 L349.07,127.38 L349.46,127.63 L349.85,127.88 L350.23,128.13 L350.62,128.38 L351.01,128.63 L351.40,128.89 L351.78,129.15 L352.17,129.41 L352.56,129.67 L352.95,129.93 L353.33,130.20 L353.72,130.47 L354.11,130.74 L354.50,131.01 L354.88,131.29 L355.27,131.57 L355.66,131.85 L356.05,132.13 L356.43,132.41 L356.82,132.70 L357.21,132.99 L357.60,133.28 L357.98,133.58 L358.37,133.87 L358.76,134.17 L359.15,134.47 L359.53,134.78 L359.92,135.09 L360.31,135.40 L360.70,135.71 L361.08,136.02 L361.47,136.34 L361.86,136.66 L362.25,136.98 L362.63,137.31 L363.02,137.63 L363.41,137.97 L363.80,138.30 L364.18,138.63 L364.57,138.97 L364.96,139.32 L365.34,139.67 L365.73,140.04 L366.12,140.41 L366.51,140.79 L366.89,141.17 L367.28,141.56 L367.67,141.95 L368.06,142.34 L368.44,142.73 L368.83,143.12 L369.22,143.51 L369.61,143.89 L369.99,144.26 L370.38,144.63 L370.77,144.99 L371.16,145.34 L371.54,145.69 L371.93,146.03 L372.32,146.37 L372.71,146.70 L373.09,147.04 L373.48,147.37 L373.87,147.70 L374.26,148.02 L374.64,148.35 L375.03,148.67 L375.42,148.99 L375.81,149.31 L376.19,149.62 L376.58,149.93 L376.97,150.24 L377.36,150.55 L377.74,150.86 L378.13,151.17 L378.52,151.47 L378.91,151.77 L379.29,152.08 L379.68,152.37 L380.07,152.67 L380.46,152.97 L380.84,153.26 L381.23,153.55 L381.62,153.84 L382.01,154.13 L382.39,154.42 L382.78,154.70 L383.17,154.98 L383.56,155.26 L383.94,155.54 L384.33,155.82 L384.72,156.09 L385.11,156.36 L385.30,156.50 L385.45,156.40 L385.49,156.36 L385.88,156.09 L386.27,155.82 L386.66,155.54 L387.04,155.26 L387.43,154.98 L387.82,154.70 L388.21,154.42 L388.59,154.13 L388.98,153.84 L389.37,153.55 L389.76,153.26 L390.14,152.97 L390.53,152.67 L390.92,152.37 L391.31,152.08 L391.69,151.77 L392.08,151.47 L392.47,151.17 L392.86,150.86 L393.24,150.55 L393.63,150.24 L394.02,149.93 L394.41,149.62 L394.79,149.31 L395.18,148.99 L395.57,148.67 L395.96,148.35 L396.34,148.02 L396.73,147.70 L397.12,147.37 L397.51,147.04 L397.89,146.70 L398.28,146.37 L398.67,146.03 L399.06,145.69 L399.44,145.34 L399.83,144.99 L400.22,144.63 L400.61,144.26 L400.99,143.89 L401.38,143.51 L401.77,143.12 L402.16,142.73 L402.54,142.34 L402.93,141.95 L403.32,141.56 L403.71,141.17 L404.09,140.79 L404.48,140.41 L404.87,140.04 L405.26,139.67 L405.64,139.32 L406.03,138.97 L406.42,138.63 L406.80,138.30 L407.19,137.97 L407.58,137.63 L407.97,137.31 L408.35,136.98 L408.74,136.66 L409.13,136.34 L409.52,136.02 L409.90,135.71 L410.29,135.40 L410.68,135.09 L411.07,134.78 L411.45,134.47 L411.84,134.17 L412.23,133.87 L412.62,133.58 L413.00,133.28 L413.39,132.99 L413.78,132.70 L414.17,132.41 L414.55,132.13 L414.94,131.85 L415.33,131.57 L415.72,131.29 L416.10,131.01 L416.49,130.74 L416.88,130.47 L417.27,130.20 L417.65,129.93 L418.04,129.67 L418.43,129.41 L418.82,129.15 L419.20,128.89 L419.59,128.63 L419.98,128.38 L420.37,128.13 L420.75,127.88 L421.14,127.63 L421.53,127.38 L421.92,127.13 L422.30,126.89 L422.69,126.65 L423.08,126.41 L423.47,126.17 L423.85,125.93 L424.24,125.70 L424.63,125.46 L425.02,125.23 L425.40,125.00 L425.79,124.76 L426.18,124.53 L426.57,124.28 L426.95,124.04 L427.34,123.79 L427.73,123.54 L428.12,123.29 L428.50,123.04 L428.89,122.79 L429.28,122.55 L429.67,122.30 L430.05,122.06 L430.44,121.83 L430.83,121.60 L431.22,121.37 L431.60,121.16 L431.99,120.94 L432.38,120.74 L432.77,120.55 L433.15,120.37 L433.54,120.19 L433.93,120.03 L434.32,119.89 L434.70,119.75 L435.09,119.63 L435.48,119.52 L435.87,119.41 L436.25,119.31 L436.64,119.20 L437.03,119.09 L437.42,118.99 L437.80,118.88 L438.19,118.78 L438.58,118.68 L438.97,118.58 L439.35,118.48 L439.74,118.38 L440.13,118.29 L440.52,118.19 L440.90,118.10 L441.29,118.01 L441.68,117.92 L442.07,117.84 L442.45,117.75 L442.84,117.67 L443.23,117.59 L443.62,117.51 L444.00,117.44 L444.39,117.37 L444.78,117.30 L445.17,117.23 L445.55,117.16 L445.94,117.10 L446.33,117.05 L446.72,116.99 L447.10,116.94 L447.49,116.89 L447.88,116.85 L448.26,116.80 L448.65,116.77 L449.04,116.73 L449.43,116.70 L449.81,116.67 L450.20,116.65 L450.59,116.63 L450.98,116.62 L451.36,116.61 L451.75,116.60 L452.14,116.60 L452.53,116.60 L452.91,116.60 L453.30,116.60 L453.69,116.60 L454.08,116.61 L454.46,116.61 L454.85,116.61 L455.24,116.61 L455.63,116.62 L456.01,116.62 L456.40,116.62 L456.79,116.63 L457.18,116.63 L457.56,116.64 L457.95,116.64 L458.34,116.65 L458.73,116.66 L459.11,116.66 L459.50,116.67 L459.89,116.68 L460.28,116.68 L460.66,116.69 L461.05,116.70 L461.44,116.71 L461.83,116.71 L462.21,116.72 L462.60,116.73 L462.99,116.74 L463.38,116.75 L463.76,116.76 L464.15,116.77 L464.54,116.78 L464.93,116.79 L465.31,116.80 L465.70,116.81 L466.09,116.82 L466.48,116.83 L466.86,116.84 L467.25,116.85 L467.64,116.86 L468.03,116.87 L468.41,116.89 L468.80,116.90 L469.19,116.91 L469.58,116.92 L469.96,116.94 L470.35,116.96 L470.74,116.97 L471.13,117.00 L471.51,117.02 L471.90,117.04 L472.29,117.07 L472.68,117.09 L473.06,117.12 L473.45,117.15 L473.84,117.18 L474.23,117.21 L474.61,117.25 L475.00,117.28 L475.39,117.32 L475.78,117.36 L476.16,117.39 L476.55,117.43 L476.94,117.48 L477.33,117.52 L477.71,117.56 L478.10,117.60 L478.49,117.65 L478.88,117.70 L479.26,117.74 L479.65,117.79 L480.04,117.84 L480.43,117.89 L480.81,117.94 L481.20,117.99 L481.59,118.04 L481.98,118.09 L482.36,118.15 L482.75,118.20 L483.14,118.26 L483.53,118.31 L483.91,118.37 L484.30,118.42 L484.69,118.48 L485.08,118.53 L485.46,118.59 L485.85,118.65 L486.24,118.71 L486.63,118.77 L487.01,118.82 L487.40,118.88 L487.79,118.94 L488.18,119.00 L488.56,119.06 L488.95,119.12 L489.34,119.18 L489.73,119.24 L490.11,119.30 L490.50,119.35 L490.89,119.41 L491.27,119.47 L491.66,119.54 L492.05,119.60 L492.44,119.66 L492.82,119.73 L493.21,119.80 L493.60,119.87 L493.99,119.94 L494.37,120.01 L494.76,120.08 L495.15,120.15 L495.54,120.23 L495.92,120.31 L496.31,120.39 L496.70,120.46 L497.09,120.54 L497.47,120.63 L497.86,120.71 L498.25,120.79 L498.64,120.88 L499.02,120.96 L499.41,121.05 L499.80,121.14 L500.19,121.22 L500.57,121.31 L500.96,121.40 L501.35,121.50 L501.74,121.59 L502.12,121.68 L502.51,121.77 L502.90,121.87 L503.29,121.96 L503.67,122.06 L504.06,122.15 L504.45,122.25 L504.84,122.35 L505.22,122.45 L505.61,122.54 L506.00,122.64 L506.39,122.74 L506.77,122.84 L507.16,122.94 L507.55,123.04 L507.94,123.14 L508.32,123.24 L508.71,123.35 L509.10,123.45 L509.49,123.55 L509.87,123.65 L510.26,123.75 L510.65,123.86 L511.04,123.96 L511.42,124.06 L511.81,124.16 L512.20,124.27 L512.59,124.37 L512.97,124.47 L513.36,124.58 L513.75,124.68 L514.14,124.79 L514.52,124.89 L514.91,125.00 L515.30,125.11 L515.69,125.22 L516.07,125.33 L516.46,125.44 L516.85,125.55 L517.24,125.66 L517.62,125.77 L518.01,125.89 L518.40,126.00 L518.79,126.11 L519.17,126.23 L519.56,126.35 L519.95,126.46 L520.34,126.58 L520.72,126.70 L521.11,126.82 L521.50,126.94 L521.89,127.06 L522.27,127.18 L522.66,127.30 L523.05,127.42 L523.44,127.54 L523.82,127.67 L524.21,127.79 L524.60,127.92 L524.99,128.04 L525.37,128.17 L525.76,128.29 L526.15,128.42 L526.54,128.55 L526.92,128.68 L527.31,128.81 L527.70,128.93 L528.09,129.06 L528.47,129.19 L528.86,129.33 L529.25,129.46 L529.64,129.59 L530.02,129.72 L530.41,129.85 L530.80,129.99 L531.19,130.12 L531.57,130.25 L531.96,130.39 L532.35,130.52 L532.73,130.66 L533.12,130.79 L533.51,130.93 L533.90,131.07 L534.28,131.20 L534.67,131.34 L535.06,131.48 L535.45,131.62 L535.83,131.76 L536.22,131.90 L536.61,132.04 L537.00,132.18 L537.38,132.32 L537.77,132.47 L538.16,132.61 L538.55,132.76 L538.93,132.90 L539.32,133.05 L539.71,133.20 L540.10,133.35 L540.48,133.50 L540.87,133.65 L541.26,133.80 L541.65,133.95 L542.03,134.11 L542.42,134.26 L542.81,134.42 L543.20,134.57 L543.58,134.73 L543.97,134.89 L544.36,135.04 L544.75,135.20 L545.13,135.36 L545.52,135.52 L545.91,135.68 L546.30,135.84 L546.68,136.00 L547.07,136.16 L547.46,136.32 L547.85,136.48 L548.23,136.65 L548.62,136.81 L549.01,136.97 L549.40,137.13 L549.78,137.30 L550.17,137.46 L550.56,137.63 L550.95,137.79 L551.33,137.95 L551.72,138.12 L552.11,138.28 L552.50,138.45 L552.88,138.61 L553.27,138.78 L553.66,138.95 L554.05,139.11 L554.43,139.28 L554.82,139.44 L555.21,139.61 L555.60,139.77 L555.98,139.94 L556.37,140.10 L556.76,140.27 L557.15,140.43 L557.53,140.60 L557.92,140.76 L558.31,140.93 L558.70,141.10 L559.08,141.26 L559.47,141.43 L559.86,141.59 L560.25,141.76 L560.63,141.92 L561.02,142.09 L561.41,142.26 L561.80,142.42 L562.18,142.59 L562.57,142.76 L562.96,142.93 L563.35,143.09 L563.73,143.26 L564.12,143.43 L564.51,143.60 L564.90,143.77 L565.28,143.94 L565.67,144.11 L566.06,144.28 L566.45,144.45 L566.83,144.62 L567.22,144.79 L567.61,144.96 L568.00,145.13 L568.38,145.30 L568.77,145.47 L569.16,145.65 L569.55,145.82 L569.93,145.99 L570.32,146.17 L570.71,146.34 L571.10,146.52 L571.48,146.69 L571.87,146.87 L572.26,147.05 L572.65,147.22 L573.03,147.40 L573.42,147.58 L573.81,147.76 L574.19,147.93 L574.58,148.11 L574.97,148.29 L575.36,148.48 L575.74,148.66 L576.13,148.84 L576.52,149.02 L576.91,149.20 L577.29,149.39 L577.68,149.57 L578.07,149.76 L578.46,149.94 L578.84,150.13 L579.23,150.32 L579.62,150.50 L580.01,150.69 L580.39,150.88 L580.78,151.07 L581.17,151.26 L581.56,151.45 L581.94,151.64 L582.33,151.83 L582.72,152.02 L583.11,152.21 L583.49,152.40 L583.88,152.60 L584.27,152.79 L584.66,152.98 L585.04,153.18 L585.43,153.37 L585.82,153.57 L586.21,153.77 L586.59,153.96 L586.98,154.16 L587.37,154.36 L587.76,154.56 L588.14,154.75 L588.53,154.95 L588.92,155.15 L589.31,155.35 L589.69,155.56 L590.08,155.76 L590.47,155.96 L590.86,156.16 L591.24,156.37 L591.63,156.57 L592.02,156.78 L592.41,156.98 L592.79,157.19 L593.18,157.40 L593.57,157.61 L593.96,157.82 L594.34,158.03 L594.73,158.24 L595.12,158.45 L595.51,158.66 L595.89,158.87 L596.28,159.08 L596.67,159.30 L597.06,159.51 L597.44,159.73 L597.83,159.94 L598.22,160.16 L598.61,160.38 L598.99,160.60 L599.38,160.82 L599.77,161.04 L600.16,161.26 L600.54,161.48 L600.93,161.70 L601.32,161.93 L601.71,162.15 L602.09,162.38 L602.48,162.60 L602.87,162.83 L603.26,163.06 L603.64,163.30 L604.03,163.53 L604.42,163.76 L604.81,164.00 L605.19,164.23 L605.58,164.47 L605.97,164.71 L606.36,164.95 L606.74,165.19 L607.13,165.43 L607.52,165.67 L607.91,165.92 L608.29,166.16 L608.68,166.41 L609.07,166.65 L609.46,166.90 L609.84,167.15 L610.23,167.39 L610.62,167.64 L611.01,167.89 L611.39,168.14 L611.78,168.39 L612.17,168.64 L612.56,168.90 L612.94,169.15 L613.33,169.40 L613.72,169.66 L614.11,169.91 L614.49,170.16 L614.88,170.42 L615.27,170.67 L615.66,170.93 L616.04,171.19 L616.43,171.44 L616.82,171.70 L617.20,171.96 L617.59,172.21 L617.98,172.47 L618.37,172.73 L618.75,172.98 L619.14,173.24 L619.53,173.50 L619.92,173.76 L620.30,174.01 L620.69,174.27 L621.08,174.53 L621.47,174.78 L621.85,175.04 L622.24,175.30 L622.63,175.55 L623.02,175.81 L623.40,176.07 L623.79,176.32 L624.18,176.58 L624.57,176.84 L624.95,177.09 L625.34,177.35 L625.73,177.61 L626.12,177.87 L626.50,178.12 L626.89,178.38 L627.28,178.64 L627.67,178.90 L628.05,179.15 L628.44,179.41 L628.83,179.67 L629.22,179.93 L629.60,180.19 L629.99,180.45 L630.38,180.71 L630.77,180.97 L631.15,181.23 L631.54,181.49 L631.93,181.75 L632.32,182.01 L632.70,182.28 L633.09,182.54 L633.48,182.80 L633.87,183.07 L634.25,183.33 L634.64,183.59 L635.03,183.86 L635.42,184.12 L635.80,184.39 L636.19,184.66 L636.58,184.92 L636.97,185.19 L637.35,185.46 L637.74,185.73 L638.13,186.00 L638.52,186.26 L638.90,186.53 L639.29,186.81 L639.68,187.08 L640.07,187.35 L640.45,187.62 L640.84,187.89 L641.23,188.17 L641.62,188.44 L642.00,188.72 L642.39,188.99 L642.78,189.27 L643.17,189.55 L643.55,189.83 L643.94,190.11 L644.33,190.39 L644.72,190.67 L645.10,190.95 L645.49,191.23 L645.88,191.51 L646.27,191.80 L646.65,192.09 L647.04,192.37 L647.43,192.66 L647.82,192.95 L648.20,193.24 L648.59,193.53 L648.98,193.82 L649.37,194.12 L649.75,194.41 L650.14,194.71 L650.53,195.00 L650.92,195.30 L651.30,195.60 L651.69,195.90 L652.08,196.20 L652.47,196.50 L652.85,196.80 L653.24,197.10 L653.63,197.40 L654.02,197.70 L654.40,198.01 L654.79,198.31 L655.18,198.62 L655.57,198.92 L655.95,199.23 L656.34,199.53" stroke="#d62728" stroke-width="4.5" fill="none" stroke-linejoin="round" stroke-linecap="square"/>
<path d="M333.18,-39.58 L333.57,-38.23 L333.96,-36.86 L334.35,-35.49 L334.73,-34.11 L335.12,-32.72 L335.51,-31.33 L335.90,-29.92 L336.28,-28.51 L336.67,-27.09 L337.06,-25.67 L337.45,-24.23 L337.83,-22.80 L338.22,-21.35 L338.61,-19.90 L339.00,-18.45 L339.38,-16.98 L339.77,-15.52 L340.16,-14.05 L340.55,-12.57 L340.93,-11.10 L341.32,-9.61 L341.71,-8.13 L342.10,-6.64 L342.48,-5.15 L342.87,-3.65 L343.26,-2.15 L343.65,-0.65 L344.03,0.85 L344.42,2.35 L344.81,3.86 L345.20,5.37 L345.58,6.88 L345.97,8.40 L346.36,9.92 L346.75,11.44 L347.13,12.98 L347.52,14.52 L347.91,16.06 L348.30,17.62 L348.68,19.18 L349.07,20.75 L349.46,22.32 L349.85,23.91 L350.23,25.50 L350.62,27.11 L351.01,28.73 L351.40,30.35 L351.78,31.99 L352.17,33.64 L352.56,35.30 L352.95,36.98 L353.33,38.67 L353.72,40.38 L354.11,42.09 L354.50,43.82 L354.88,45.56 L355.27,47.31 L355.66,49.06 L356.05,50.82 L356.43,52.59 L356.82,54.37 L357.21,56.15 L357.60,57.94 L357.98,59.73 L358.37,61.52 L358.76,63.31 L359.15,65.11 L359.53,66.90 L359.92,68.70 L360.31,70.49 L360.70,72.28 L361.08,74.07 L361.47,75.85 L361.86,77.63 L362.25,79.41 L362.63,81.19 L363.02,82.96 L363.41,84.75 L363.80,86.54 L364.18,88.33 L364.57,90.14 L364.96,91.95 L365.34,93.78 L365.73,95.62 L366.12,97.48 L366.51,99.36 L366.89,101.25 L367.28,103.17 L367.67,105.13 L368.06,107.19 L368.44,109.31 L368.83,111.48 L369.22,113.67 L369.61,115.86 L369.99,118.02 L370.38,120.13 L370.77,122.17 L371.16,124.11 L371.54,125.93 L371.93,127.61 L372.32,129.22 L372.71,130.79 L373.09,132.32 L373.48,133.81 L373.87,135.27 L374.26,136.69 L374.64,138.08 L375.03,139.43 L375.42,140.74 L375.81,142.03 L376.19,143.28 L376.58,144.51 L376.97,145.70 L377.36,146.86 L377.74,148.00 L378.13,149.11 L378.52,150.21 L378.91,151.32 L379.29,152.43 L379.68,153.52 L380.07,154.57 L380.46,155.55 L380.84,156.44 L381.23,157.22 L381.62,157.87 L382.01,158.37 L382.39,158.84 L382.78,159.29 L383.17,159.72 L383.56,160.10 L383.94,160.43 L384.33,160.70 L384.72,160.89 L385.11,161.00 L385.30,161.02 L385.45,161.01 L385.49,161.00 L385.88,160.89 L386.27,160.70 L386.66,160.43 L387.04,160.10 L387.43,159.72 L387.82,159.29 L388.21,158.84 L388.59,158.37 L388.98,157.87 L389.37,157.22 L389.76,156.44 L390.14,155.55 L390.53,154.57 L390.92,153.52 L391.31,152.43 L391.69,151.32 L392.08,150.21 L392.47,149.11 L392.86,148.00 L393.24,146.86 L393.63,145.70 L394.02,144.51 L394.41,143.28 L394.79,142.03 L395.18,140.74 L395.57,139.43 L395.96,138.08 L396.34,136.69 L396.73,135.27 L397.12,133.81 L397.51,132.32 L397.89,130.79 L398.28,129.22 L398.67,127.61 L399.06,125.93 L399.44,124.11 L399.83,122.17 L400.22,120.13 L400.61,118.02 L400.99,115.86 L401.38,113.67 L401.77,111.48 L402.16,109.31 L402.54,107.19 L402.93,105.13 L403.32,103.17 L403.71,101.25 L404.09,99.36 L404.48,97.48 L404.87,95.62 L405.26,93.78 L405.64,91.95 L406.03,90.14 L406.42,88.33 L406.80,86.54 L407.19,84.75 L407.58,82.96 L407.97,81.19 L408.35,79.41 L408.74,77.63 L409.13,75.85 L409.52,74.07 L409.90,72.28 L410.29,70.49 L410.68,68.70 L411.07,66.90 L411.45,65.11 L411.84,63.31 L412.23,61.52 L412.62,59.73 L413.00,57.94 L413.39,56.15 L413.78,54.37 L414.17,52.59 L414.55,50.82 L414.94,49.06 L415.33,47.31 L415.72,45.56 L416.10,43.82 L416.49,42.09 L416.88,40.38 L417.27,38.67 L417.65,36.98 L418.04,35.30 L418.43,33.64 L418.82,31.99 L419.20,30.35 L419.59,28.73 L419.98,27.11 L420.37,25.50 L420.75,23.91 L421.14,22.32 L421.53,20.75 L421.92,19.18 L422.30,17.62 L422.69,16.06 L423.08,14.52 L423.47,12.98 L423.85,11.44 L424.24,9.92 L424.63,8.40 L425.02,6.88 L425.40,5.37 L425.79,3.86 L426.18,2.35 L426.57,0.85 L426.95,-0.65 L427.34,-2.15 L427.73,-3.65 L428.12,-5.15 L428.50,-6.64 L428.89,-8.13 L429.28,-9.61 L429.67,-11.10 L430.05,-12.57 L430.44,-14.05 L430.83,-15.52 L431.22,-16.98 L431.60,-18.45 L431.99,-19.90 L432.38,-21.35 L432.77,-22.80 L433.15,-24.23 L433.54,-25.67 L433.93,-27.09 L434.32,-28.51 L434.70,-29.92 L435.09,-31.33 L435.48,-32.72 L435.87,-34.11 L436.25,-35.49 L436.64,-36.86 L437.03,-38.23 L437.42,-39.58" stroke="#8c564b" stroke-width="4.5" fill="none" stroke-linejoin="round" stroke-linecap="square"/>
<path d="M114.26,80.81 L114.65,80.69 L115.03,80.57 L115.42,80.45 L115.81,80.33 L116.20,80.21 L116.58,80.09 L116.97,79.97 L117.36,79.86 L117.75,79.74 L118.13,79.62 L118.52,79.50 L118.91,79.38 L119.30,79.26 L119.68,79.14 L120.07,79.02 L120.46,78.90 L120.85,78.78 L121.23,78.67 L121.62,78.55 L122.01,78.43 L122.40,78.31 L122.78,78.19 L123.17,78.08 L123.56,77.96 L123.95,77.84 L124.33,77.72 L124.72,77.60 L125.11,77.49 L125.50,77.37 L125.88,77.25 L126.27,77.13 L126.66,77.02 L127.05,76.90 L127.43,76.78 L127.82,76.66 L128.21,76.55 L128.60,76.43 L128.98,76.31 L129.37,76.20 L129.76,76.08 L130.15,75.96 L130.53,75.85 L130.92,75.73 L131.31,75.61 L131.70,75.50 L132.08,75.38 L132.47,75.26 L132.86,75.15 L133.25,75.03 L133.63,74.92 L134.02,74.80 L134.41,74.68 L134.80,74.57 L135.18,74.45 L135.57,74.34 L135.96,74.22 L136.35,74.11 L136.73,73.99 L137.12,73.87 L137.51,73.76 L137.90,73.64 L138.28,73.53 L138.67,73.41 L139.06,73.29 L139.45,73.17 L139.83,73.06 L140.22,72.94 L140.61,72.82 L141.00,72.71 L141.38,72.59 L141.77,72.47 L142.16,72.35 L142.55,72.24 L142.93,72.12 L143.32,72.00 L143.71,71.89 L144.10,71.77 L144.48,71.65 L144.87,71.54 L145.26,71.42 L145.65,71.31 L146.03,71.20 L146.42,71.08 L146.81,70.97 L147.20,70.86 L147.58,70.74 L147.97,70.63 L148.36,70.52 L148.75,70.41 L149.13,70.30 L149.52,70.19 L149.91,70.09 L150.30,69.98 L150.68,69.87 L151.07,69.77 L151.46,69.66 L151.85,69.56 L152.23,69.46 L152.62,69.36 L153.01,69.25 L153.40,69.15 L153.78,69.05 L154.17,68.95 L154.56,68.85 L154.94,68.75 L155.33,68.65 L155.72,68.55 L156.11,68.45 L156.49,68.35 L156.88,68.26 L157.27,68.16 L157.66,68.06 L158.04,67.96 L158.43,67.87 L158.82,67.77 L159.21,67.68 L159.59,67.58 L159.98,67.49 L160.37,67.39 L160.76,67.30 L161.14,67.20 L161.53,67.11 L161.92,67.02 L162.31,66.93 L162.69,66.83 L163.08,66.74 L163.47,66.65 L163.86,66.56 L164.24,66.47 L164.63,66.38 L165.02,66.29 L165.41,66.20 L165.79,66.12 L166.18,66.03 L166.57,65.94 L166.96,65.86 L167.34,65.77 L167.73,65.68 L168.12,65.60 L168.51,65.51 L168.89,65.43 L169.28,65.35 L169.67,65.26 L170.06,65.18 L170.44,65.10 L170.83,65.02 L171.22,64.94 L171.61,64.85 L171.99,64.77 L172.38,64.69 L172.77,64.61 L173.16,64.53 L173.54,64.45 L173.93,64.37 L174.32,64.29 L174.71,64.22 L175.09,64.14 L175.48,64.06 L175.87,63.98 L176.26,63.91 L176.64,63.83 L177.03,63.75 L177.42,63.68 L177.81,63.60 L178.19,63.53 L178.58,63.46 L178.97,63.38 L179.36,63.31 L179.74,63.24 L180.13,63.17 L180.52,63.10 L180.91,63.03 L181.29,62.96 L181.68,62.89 L182.07,62.82 L182.46,62.75 L182.84,62.68 L183.23,62.61 L183.62,62.55 L184.01,62.48 L184.39,62.42 L184.78,62.35 L185.17,62.29 L185.56,62.22 L185.94,62.16 L186.33,62.10 L186.72,62.03 L187.11,61.97 L187.49,61.90 L187.88,61.84 L188.27,61.78 L188.66,61.71 L189.04,61.65 L189.43,61.59 L189.82,61.52 L190.21,61.46 L190.59,61.40 L190.98,61.34 L191.37,61.28 L191.76,61.21 L192.14,61.15 L192.53,61.09 L192.92,61.03 L193.31,60.98 L193.69,60.92 L194.08,60.86 L194.47,60.80 L194.86,60.75 L195.24,60.69 L195.63,60.63 L196.02,60.58 L196.41,60.53 L196.79,60.47 L197.18,60.42 L197.57,60.37 L197.95,60.32 L198.34,60.27 L198.73,60.22 L199.12,60.17 L199.50,60.12 L199.89,60.08 L200.28,60.03 L200.67,59.99 L201.05,59.94 L201.44,59.90 L201.83,59.86 L202.22,59.82 L202.60,59.78 L202.99,59.74 L203.38,59.70 L203.77,59.66 L204.15,59.62 L204.54,59.58 L204.93,59.54 L205.32,59.50 L205.70,59.46 L206.09,59.42 L206.48,59.38 L206.87,59.35 L207.25,59.31 L207.64,59.27 L208.03,59.23 L208.42,59.19 L208.80,59.16 L209.19,59.12 L209.58,59.08 L209.97,59.05 L210.35,59.01 L210.74,58.98 L211.13,58.95 L211.52,58.91 L211.90,58.88 L212.29,58.85 L212.68,58.82 L213.07,58.79 L213.45,58.77 L213.84,58.74 L214.23,58.71 L214.62,58.69 L215.00,58.66 L215.39,58.64 L215.78,58.62 L216.17,58.60 L216.55,58.58 L216.94,58.57 L217.33,58.55 L217.72,58.54 L218.10,58.52 L218.49,58.51 L218.88,58.50 L219.27,58.49 L219.65,58.49 L220.04,58.48 L220.43,58.47 L220.82,58.46 L221.20,58.45 L221.59,58.45 L221.98,58.44 L222.37,58.43 L222.75,58.43 L223.14,58.42 L223.53,58.41 L223.92,58.41 L224.30,58.40 L224.69,58.39 L225.08,58.39 L225.47,58.38 L225.85,58.37 L226.24,58.37 L226.63,58.36 L227.02,58.36 L227.40,58.35 L227.79,58.35 L228.18,58.34 L228.57,58.34 L228.95,58.33 L229.34,58.33 L229.73,58.33 L230.12,58.32 L230.50,58.32 L230.89,58.32 L231.28,58.31 L231.67,58.31 L232.05,58.31 L232.44,58.31 L232.83,58.31 L233.22,58.30 L233.60,58.30 L233.99,58.30 L234.38,58.30 L234.77,58.30 L235.15,58.30 L235.54,58.30 L235.93,58.30 L236.32,58.31 L236.70,58.31 L237.09,58.32 L237.48,58.33 L237.87,58.34 L238.25,58.36 L238.64,58.37 L239.03,58.39 L239.41,58.41 L239.80,58.42 L240.19,58.45 L240.58,58.47 L240.96,58.49 L241.35,58.52 L241.74,58.54 L242.13,58.57 L242.51,58.60 L242.90,58.63 L243.29,58.66 L243.68,58.69 L244.06,58.72 L244.45,58.75 L244.84,58.79 L245.23,58.82 L245.61,58.86 L246.00,58.89 L246.39,58.93 L246.78,58.97 L247.16,59.01 L247.55,59.05 L247.94,59.08 L248.33,59.12 L248.71,59.16 L249.10,59.20 L249.49,59.25 L249.88,59.29 L250.26,59.33 L250.65,59.37 L251.04,59.41 L251.43,59.45 L251.81,59.49 L252.20,59.54 L252.59,59.58 L252.98,59.62 L253.36,59.66 L253.75,59.71 L254.14,59.76 L254.53,59.81 L254.91,59.86 L255.30,59.92 L255.69,59.98 L256.08,60.04 L256.46,60.10 L256.85,60.16 L257.24,60.22 L257.63,60.29 L258.01,60.36 L258.40,60.43 L258.79,60.50 L259.18,60.57 L259.56,60.65 L259.95,60.72 L260.34,60.80 L260.73,60.88 L261.11,60.96 L261.50,61.03 L261.89,61.11 L262.28,61.20 L262.66,61.28 L263.05,61.36 L263.44,61.44 L263.83,61.53 L264.21,61.61 L264.60,61.69 L264.99,61.78 L265.38,61.86 L265.76,61.95 L266.15,62.03 L266.54,62.12 L266.93,62.21 L267.31,62.30 L267.70,62.39 L268.09,62.48 L268.48,62.57 L268.86,62.67 L269.25,62.77 L269.64,62.87 L270.03,62.97 L270.41,63.07 L270.80,63.17 L271.19,63.27 L271.58,63.38 L271.96,63.48 L272.35,63.59 L272.74,63.70 L273.13,63.81 L273.51,63.92 L273.90,64.03 L274.29,64.14 L274.68,64.25 L275.06,64.36 L275.45,64.48 L275.84,64.59 L276.23,64.71 L276.61,64.83 L277.00,64.94 L277.39,65.06 L277.78,65.18 L278.16,65.30 L278.55,65.41 L278.94,65.53 L279.33,65.65 L279.71,65.77 L280.10,65.89 L280.49,66.01 L280.87,66.14 L281.26,66.26 L281.65,66.38 L282.04,66.51 L282.42,66.63 L282.81,66.76 L283.20,66.89 L283.59,67.01 L283.97,67.14 L284.36,67.27 L284.75,67.40 L285.14,67.53 L285.52,67.67 L285.91,67.80 L286.30,67.93 L286.69,68.07 L287.07,68.20 L287.46,68.34 L287.85,68.48 L288.24,68.62 L288.62,68.75 L289.01,68.89 L289.40,69.04 L289.79,69.18 L290.17,69.32 L290.56,69.46 L290.95,69.61 L291.34,69.75 L291.72,69.90 L292.11,70.04 L292.50,70.19 L292.89,70.34 L293.27,70.49 L293.66,70.64 L294.05,70.79 L294.44,70.94 L294.82,71.09 L295.21,71.24 L295.60,71.40 L295.99,71.55 L296.37,71.71 L296.76,71.87 L297.15,72.02 L297.54,72.18 L297.92,72.34 L298.31,72.50 L298.70,72.67 L299.09,72.83 L299.47,73.00 L299.86,73.17 L300.25,73.33 L300.64,73.50 L301.02,73.68 L301.41,73.85 L301.80,74.02 L302.19,74.20 L302.57,74.38 L302.96,74.55 L303.35,74.73 L303.74,74.92 L304.12,75.10 L304.51,75.28 L304.90,75.47 L305.29,75.65 L305.67,75.84 L306.06,76.03 L306.45,76.22 L306.84,76.41 L307.22,76.61 L307.61,76.80 L308.00,77.00 L308.39,77.20 L308.77,77.40 L309.16,77.60 L309.55,77.80 L309.94,78.01 L310.32,78.21 L310.71,78.42 L311.10,78.63 L311.49,78.84 L311.87,79.06 L312.26,79.27 L312.65,79.49 L313.04,79.71 L313.42,79.93 L313.81,80.15 L314.20,80.38 L314.59,80.60 L314.97,80.83 L315.36,81.06 L315.75,81.30 L316.14,81.53 L316.52,81.77 L316.91,82.00 L317.30,82.24 L317.69,82.49 L318.07,82.73 L318.46,82.97 L318.85,83.22 L319.24,83.47 L319.62,83.73 L320.01,83.99 L320.40,84.25 L320.79,84.51 L321.17,84.78 L321.56,85.05 L321.95,85.32 L322.34,85.60 L322.72,85.87 L323.11,86.15 L323.50,86.43 L323.88,86.72 L324.27,87.00 L324.66,87.29 L325.05,87.57 L325.43,87.86 L325.82,88.15 L326.21,88.44 L326.60,88.74 L326.98,89.03 L327.37,89.32 L327.76,89.62 L328.15,89.91 L328.53,90.21 L328.92,90.50 L329.31,90.80 L329.70,91.10 L330.08,91.40 L330.47,91.70 L330.86,92.01 L331.25,92.31 L331.63,92.62 L332.02,92.93 L332.41,93.24 L332.80,93.55 L333.18,93.86 L333.57,94.17 L333.96,94.49 L334.35,94.81 L334.73,95.13 L335.12,95.45 L335.51,95.78 L335.90,96.10 L336.28,96.43 L336.67,96.76 L337.06,97.09 L337.45,97.43 L337.83,97.77 L338.22,98.11 L338.61,98.45 L339.00,98.79 L339.38,99.14 L339.77,99.49 L340.16,99.84 L340.55,100.20 L340.93,100.55 L341.32,100.91 L341.71,101.28 L342.10,101.64 L342.48,102.01 L342.87,102.38 L343.26,102.76 L343.65,103.13 L344.03,103.52 L344.42,103.90 L344.81,104.29 L345.20,104.68 L345.58,105.07 L345.97,105.47 L346.36,105.87 L346.75,106.27 L347.13,106.68 L347.52,107.09 L347.91,107.50 L348.30,107.91 L348.68,108.33 L349.07,108.76 L349.46,109.19 L349.85,109.63 L350.23,110.07 L350.62,110.52 L351.01,110.97 L351.40,111.44 L351.78,111.91 L352.17,112.39 L352.56,112.87 L352.95,113.37 L353.33,113.89 L353.72,114.41 L354.11,114.95 L354.50,115.49 L354.88,116.05 L355.27,116.61 L355.66,117.18 L356.05,117.76 L356.43,118.34 L356.82,118.93 L357.21,119.52 L357.60,120.11 L357.98,120.70 L358.37,121.30 L358.76,121.90 L359.15,122.51 L359.53,123.14 L359.92,123.78 L360.31,124.43 L360.70,125.08 L361.08,125.73 L361.47,126.38 L361.86,127.04 L362.25,127.69 L362.63,128.33 L363.02,128.96 L363.41,129.58 L363.80,130.19 L364.18,130.78 L364.57,131.36 L364.96,131.94 L365.34,132.51 L365.73,133.07 L366.12,133.63 L366.51,134.19 L366.89,134.74 L367.28,135.29 L367.67,135.83 L368.06,136.36 L368.44,136.90 L368.83,137.43 L369.22,137.95 L369.61,138.47 L369.99,138.99 L370.38,139.51 L370.77,140.04 L371.16,140.56 L371.54,141.08 L371.93,141.61 L372.32,142.13 L372.71,142.65 L373.09,143.16 L373.48,143.66 L373.87,144.16 L374.26,144.65 L374.64,145.12 L375.03,145.58 L375.42,146.03 L375.81,146.47 L376.19,146.88 L376.58,147.28 L376.97,147.67 L377.36,148.06 L377.74,148.44 L378.13,148.81 L378.52,149.17 L378.91,149.52 L379.29,149.86 L379.68,150.19 L380.07,150.50 L380.46,150.80 L380.84,151.07 L381.23,151.33 L381.62,151.57 L382.01,151.80 L382.39,152.02 L382.78,152.23 L383.17,152.43 L383.56,152.62 L383.94,152.79 L384.33,152.95 L384.72,153.10 L385.11,153.24 L385.30,153.30 L385.45,153.25 L385.49,153.24 L385.88,153.10 L386.27,152.95 L386.66,152.79 L387.04,152.62 L387.43,152.43 L387.82,152.23 L388.21,152.02 L388.59,151.80 L388.98,151.57 L389.37,151.33 L389.76,151.07 L390.14,150.80 L390.53,150.50 L390.92,150.19 L391.31,149.86 L391.69,149.52 L392.08,149.17 L392.47,148.81 L392.86,148.44 L393.24,148.06 L393.63,147.67 L394.02,147.28 L394.41,146.88 L394.79,146.47 L395.18,146.03 L395.57,145.58 L395.96,145.12 L396.34,144.65 L396.73,144.16 L397.12,143.66 L397.51,143.16 L397.89,142.65 L398.28,142.13 L398.67,141.61 L399.06,141.08 L399.44,140.56 L399.83,140.04 L400.22,139.51 L400.61,138.99 L400.99,138.47 L401.38,137.95 L401.77,137.43 L402.16,136.90 L402.54,136.36 L402.93,135.83 L403.32,135.29 L403.71,134.74 L404.09,134.19 L404.48,133.63 L404.87,133.07 L405.26,132.51 L405.64,131.94 L406.03,131.36 L406.42,130.78 L406.80,130.19 L407.19,129.58 L407.58,128.96 L407.97,128.33 L408.35,127.69 L408.74,127.04 L409.13,126.38 L409.52,125.73 L409.90,125.08 L410.29,124.43 L410.68,123.78 L411.07,123.14 L411.45,122.51 L411.84,121.90 L412.23,121.30 L412.62,120.70 L413.00,120.11 L413.39,119.52 L413.78,118.93 L414.17,118.34 L414.55,117.76 L414.94,117.18 L415.33,116.61 L415.72,116.05 L416.10,115.49 L416.49,114.95 L416.88,114.41 L417.27,113.89 L417.65,113.37 L418.04,112.87 L418.43,112.39 L418.82,111.91 L419.20,111.44 L419.59,110.97 L419.98,110.52 L420.37,110.07 L420.75,109.63 L421.14,109.19 L421.53,108.76 L421.92,108.33 L422.30,107.91 L422.69,107.50 L423.08,107.09 L423.47,106.68 L423.85,106.27 L424.24,105.87 L424.63,105.47 L425.02,105.07 L425.40,104.68 L425.79,104.29 L426.18,103.90 L426.57,103.52 L426.95,103.13 L427.34,102.76 L427.73,102.38 L428.12,102.01 L428.50,101.64 L428.89,101.28 L429.28,100.91 L429.67,100.55 L430.05,100.20 L430.44,99.84 L430.83,99.49 L431.22,99.14 L431.60,98.79 L431.99,98.45 L432.38,98.11 L432.77,97.77 L433.15,97.43 L433.54,97.09 L433.93,96.76 L434.32,96.43 L434.70,96.10 L435.09,95.78 L435.48,95.45 L435.87,95.13 L436.25,94.81 L436.64,94.49 L437.03,94.17 L437.42,93.86 L437.80,93.55 L438.19,93.24 L438.58,92.93 L438.97,92.62 L439.35,92.31 L439.74,92.01 L440.13,91.70 L440.52,91.40 L440.90,91.10 L441.29,90.80 L441.68,90.50 L442.07,90.21 L442.45,89.91 L442.84,89.62 L443.23,89.32 L443.62,89.03 L444.00,88.74 L444.39,88.44 L444.78,88.15 L445.17,87.86 L445.55,87.57 L445.94,87.29 L446.33,87.00 L446.72,86.72 L447.10,86.43 L447.49,86.15 L447.88,85.87 L448.26,85.60 L448.65,85.32 L449.04,85.05 L449.43,84.78 L449.81,84.51 L450.20,84.25 L450.59,83.99 L450.98,83.73 L451.36,83.47 L451.75,83.22 L452.14,82.97 L452.53,82.73 L452.91,82.49 L453.30,82.24 L453.69,82.00 L454.08,81.77 L454.46,81.53 L454.85,81.30 L455.24,81.06 L455.63,80.83 L456.01,80.60 L456.40,80.38 L456.79,80.15 L457.18,79.93 L457.56,79.71 L457.95,79.49 L458.34,79.27 L458.73,79.06 L459.11,78.84 L459.50,78.63 L459.89,78.42 L460.28,78.21 L460.66,78.01 L461.05,77.80 L461.44,77.60 L461.83,77.40 L462.21,77.20 L462.60,77.00 L462.99,76.80 L463.38,76.61 L463.76,76.41 L464.15,76.22 L464.54,76.03 L464.93,75.84 L465.31,75.65 L465.70,75.47 L466.09,75.28 L466.48,75.10 L466.86,74.92 L467.25,74.73 L467.64,74.55 L468.03,74.38 L468.41,74.20 L468.80,74.02 L469.19,73.85 L469.58,73.68 L469.96,73.50 L470.35,73.33 L470.74,73.17 L471.13,73.00 L471.51,72.83 L471.90,72.67 L472.29,72.50 L472.68,72.34 L473.06,72.18 L473.45,72.02 L473.84,71.87 L474.23,71.71 L474.61,71.55 L475.00,71.40 L475.39,71.24 L475.78,71.09 L476.16,70.94 L476.55,70.79 L476.94,70.64 L477.33,70.49 L477.71,70.34 L478.10,70.19 L478.49,70.04 L478.88,69.90 L479.26,69.75 L479.65,69.61 L480.04,69.46 L480.43,69.32 L480.81,69.18 L481.20,69.04 L481.59,68.89 L481.98,68.75 L482.36,68.62 L482.75,68.48 L483.14,68.34 L483.53,68.20 L483.91,68.07 L484.30,67.93 L484.69,67.80 L485.08,67.67 L485.46,67.53 L485.85,67.40 L486.24,67.27 L486.63,67.14 L487.01,67.01 L487.40,66.89 L487.79,66.76 L488.18,66.63 L488.56,66.51 L488.95,66.38 L489.34,66.26 L489.73,66.14 L490.11,66.01 L490.50,65.89 L490.89,65.77 L491.27,65.65 L491.66,65.53 L492.05,65.41 L492.44,65.30 L492.82,65.18 L493.21,65.06 L493.60,64.94 L493.99,64.83 L494.37,64.71 L494.76,64.59 L495.15,64.48 L495.54,64.36 L495.92,64.25 L496.31,64.14 L496.70,64.03 L497.09,63.92 L497.47,63.81 L497.86,63.70 L498.25,63.59 L498.64,63.48 L499.02,63.38 L499.41,63.27 L499.80,63.17 L500.19,63.07 L500.57,62.97 L500.96,62.87 L501.35,62.77 L501.74,62.67 L502.12,62.57 L502.51,62.48 L502.90,62.39 L503.29,62.30 L503.67,62.21 L504.06,62.12 L504.45,62.03 L504.84,61.95 L505.22,61.86 L505.61,61.78 L506.00,61.69 L506.39,61.61 L506.77,61.53 L507.16,61.44 L507.55,61.36 L507.94,61.28 L508.32,61.20 L508.71,61.11 L509.10,61.03 L509.49,60.96 L509.87,60.88 L510.26,60.80 L510.65,60.72 L511.04,60.65 L511.42,60.57 L511.81,60.50 L512.20,60.43 L512.59,60.36 L512.97,60.29 L513.36,60.22 L513.75,60.16 L514.14,60.10 L514.52,60.04 L514.91,59.98 L515.30,59.92 L515.69,59.86 L516.07,59.81 L516.46,59.76 L516.85,59.71 L517.24,59.66 L517.62,59.62 L518.01,59.58 L518.40,59.54 L518.79,59.49 L519.17,59.45 L519.56,59.41 L519.95,59.37 L520.34,59.33 L520.72,59.29 L521.11,59.25 L521.50,59.20 L521.89,59.16 L522.27,59.12 L522.66,59.08 L523.05,59.05 L523.44,59.01 L523.82,58.97 L524.21,58.93 L524.60,58.89 L524.99,58.86 L525.37,58.82 L525.76,58.79 L526.15,58.75 L526.54,58.72 L526.92,58.69 L527.31,58.66 L527.70,58.63 L528.09,58.60 L528.47,58.57 L528.86,58.54 L529.25,58.52 L529.64,58.49 L530.02,58.47 L530.41,58.45 L530.80,58.42 L531.19,58.41 L531.57,58.39 L531.96,58.37 L532.35,58.36 L532.73,58.34 L533.12,58.33 L533.51,58.32 L533.90,58.31 L534.28,58.31 L534.67,58.30 L535.06,58.30 L535.45,58.30 L535.83,58.30 L536.22,58.30 L536.61,58.30 L537.00,58.30 L537.38,58.30 L537.77,58.31 L538.16,58.31 L538.55,58.31 L538.93,58.31 L539.32,58.31 L539.71,58.32 L540.10,58.32 L540.48,58.32 L540.87,58.33 L541.26,58.33 L541.65,58.33 L542.03,58.34 L542.42,58.34 L542.81,58.35 L543.20,58.35 L543.58,58.36 L543.97,58.36 L544.36,58.37 L544.75,58.37 L545.13,58.38 L545.52,58.39 L545.91,58.39 L546.30,58.40 L546.68,58.41 L547.07,58.41 L547.46,58.42 L547.85,58.43 L548.23,58.43 L548.62,58.44 L549.01,58.45 L549.40,58.45 L549.78,58.46 L550.17,58.47 L550.56,58.48 L550.95,58.49 L551.33,58.49 L551.72,58.50 L552.11,58.51 L552.50,58.52 L552.88,58.54 L553.27,58.55 L553.66,58.57 L554.05,58.58 L554.43,58.60 L554.82,58.62 L555.21,58.64 L555.60,58.66 L555.98,58.69 L556.37,58.71 L556.76,58.74 L557.15,58.77 L557.53,58.79 L557.92,58.82 L558.31,58.85 L558.70,58.88 L559.08,58.91 L559.47,58.95 L559.86,58.98 L560.25,59.01 L560.63,59.05 L561.02,59.08 L561.41,59.12 L561.80,59.16 L562.18,59.19 L562.57,59.23 L562.96,59.27 L563.35,59.31 L563.73,59.35 L564.12,59.38 L564.51,59.42 L564.90,59.46 L565.28,59.50 L565.67,59.54 L566.06,59.58 L566.45,59.62 L566.83,59.66 L567.22,59.70 L567.61,59.74 L568.00,59.78 L568.38,59.82 L568.77,59.86 L569.16,59.90 L569.55,59.94 L569.93,59.99 L570.32,60.03 L570.71,60.08 L571.10,60.12 L571.48,60.17 L571.87,60.22 L572.26,60.27 L572.65,60.32 L573.03,60.37 L573.42,60.42 L573.81,60.47 L574.19,60.53 L574.58,60.58 L574.97,60.63 L575.36,60.69 L575.74,60.75 L576.13,60.80 L576.52,60.86 L576.91,60.92 L577.29,60.98 L577.68,61.03 L578.07,61.09 L578.46,61.15 L578.84,61.21 L579.23,61.28 L579.62,61.34 L580.01,61.40 L580.39,61.46 L580.78,61.52 L581.17,61.59 L581.56,61.65 L581.94,61.71 L582.33,61.78 L582.72,61.84 L583.11,61.90 L583.49,61.97 L583.88,62.03 L584.27,62.10 L584.66,62.16 L585.04,62.22 L585.43,62.29 L585.82,62.35 L586.21,62.42 L586.59,62.48 L586.98,62.55 L587.37,62.61 L587.76,62.68 L588.14,62.75 L588.53,62.82 L588.92,62.89 L589.31,62.96 L589.69,63.03 L590.08,63.10 L590.47,63.17 L590.86,63.24 L591.24,63.31 L591.63,63.38 L592.02,63.46 L592.41,63.53 L592.79,63.60 L593.18,63.68 L593.57,63.75 L593.96,63.83 L594.34,63.91 L594.73,63.98 L595.12,64.06 L595.51,64.14 L595.89,64.22 L596.28,64.29 L596.67,64.37 L597.06,64.45 L597.44,64.53 L597.83,64.61 L598.22,64.69 L598.61,64.77 L598.99,64.85 L599.38,64.94 L599.77,65.02 L600.16,65.10 L600.54,65.18 L600.93,65.26 L601.32,65.35 L601.71,65.43 L602.09,65.51 L602.48,65.60 L602.87,65.68 L603.26,65.77 L603.64,65.86 L604.03,65.94 L604.42,66.03 L604.81,66.12 L605.19,66.20 L605.58,66.29 L605.97,66.38 L606.36,66.47 L606.74,66.56 L607.13,66.65 L607.52,66.74 L607.91,66.83 L608.29,66.93 L608.68,67.02 L609.07,67.11 L609.46,67.20 L609.84,67.30 L610.23,67.39 L610.62,67.49 L611.01,67.58 L611.39,67.68 L611.78,67.77 L612.17,67.87 L612.56,67.96 L612.94,68.06 L613.33,68.16 L613.72,68.26 L614.11,68.35 L614.49,68.45 L614.88,68.55 L615.27,68.65 L615.66,68.75 L616.04,68.85 L616.43,68.95 L616.82,69.05 L617.20,69.15 L617.59,69.25 L617.98,69.36 L618.37,69.46 L618.75,69.56 L619.14,69.66 L619.53,69.77 L619.92,69.87 L620.30,69.98 L620.69,70.09 L621.08,70.19 L621.47,70.30 L621.85,70.41 L622.24,70.52 L622.63,70.63 L623.02,70.74 L623.40,70.86 L623.79,70.97 L624.18,71.08 L624.57,71.20 L624.95,71.31 L625.34,71.42 L625.73,71.54 L626.12,71.65 L626.50,71.77 L626.89,71.89 L627.28,72.00 L627.67,72.12 L628.05,72.24 L628.44,72.35 L628.83,72.47 L629.22,72.59 L629.60,72.71 L629.99,72.82 L630.38,72.94 L630.77,73.06 L631.15,73.17 L631.54,73.29 L631.93,73.41 L632.32,73.53 L632.70,73.64 L633.09,73.76 L633.48,73.87 L633.87,73.99 L634.25,74.11 L634.64,74.22 L635.03,74.34 L635.42,74.45 L635.80,74.57 L636.19,74.68 L636.58,74.80 L636.97,74.92 L637.35,75.03 L637.74,75.15 L638.13,75.26 L638.52,75.38 L638.90,75.50 L639.29,75.61 L639.68,75.73 L640.07,75.85 L640.45,75.96 L640.84,76.08 L641.23,76.20 L641.62,76.31 L642.00,76.43 L642.39,76.55 L642.78,76.66 L643.17,76.78 L643.55,76.90 L643.94,77.02 L644.33,77.13 L644.72,77.25 L645.10,77.37 L645.49,77.49 L645.88,77.60 L646.27,77.72 L646.65,77.84 L647.04,77.96 L647.43,78.08 L647.82,78.19 L648.20,78.31 L648.59,78.43 L648.98,78.55 L649.37,78.67 L649.75,78.78 L650.14,78.90 L650.53,79.02 L650.92,79.14 L651.30,79.26 L651.69,79.38 L652.08,79.50 L652.47,79.62 L652.85,79.74 L653.24,79.86 L653.63,79.97 L654.02,80.09 L654.40,80.21 L654.79,80.33 L655.18,80.45 L655.57,80.57 L655.95,80.69 L656.34,80.81" stroke="#9467bd" stroke-width="4.5" fill="none" stroke-linejoin="round" stroke-linecap="square"/>
<path d="M253.36,-39.47 L253.75,-38.94 L254.14,-38.40 L254.53,-37.86 L254.91,-37.31 L255.30,-36.77 L255.69,-36.22 L256.08,-35.67 L256.46,-35.11 L256.85,-34.56 L257.24,-34.00 L257.63,-33.44 L258.01,-32.87 L258.40,-32.30 L258.79,-31.73 L259.18,-31.15 L259.56,-30.57 L259.95,-29.98 L260.34,-29.39 L260.73,-28.79 L261.11,-28.19 L261.50,-27.59 L261.89,-26.98 L262.28,-26.37 L262.66,-25.76 L263.05,-25.14 L263.44,-24.52 L263.83,-23.89 L264.21,-23.26 L264.60,-22.63 L264.99,-21.99 L265.38,-21.35 L265.76,-20.71 L266.15,-20.06 L266.54,-19.41 L266.93,-18.76 L267.31,-18.11 L267.70,-17.45 L268.09,-16.78 L268.48,-16.12 L268.86,-15.45 L269.25,-14.78 L269.64,-14.11 L270.03,-13.43 L270.41,-12.75 L270.80,-12.07 L271.19,-11.39 L271.58,-10.70 L271.96,-10.01 L272.35,-9.32 L272.74,-8.62 L273.13,-7.93 L273.51,-7.23 L273.90,-6.53 L274.29,-5.82 L274.68,-5.12 L275.06,-4.41 L275.45,-3.70 L275.84,-2.99 L276.23,-2.28 L276.61,-1.56 L277.00,-0.85 L277.39,-0.13 L277.78,0.59 L278.16,1.31 L278.55,2.04 L278.94,2.76 L279.33,3.49 L279.71,4.23 L280.10,4.98 L280.49,5.73 L280.87,6.48 L281.26,7.24 L281.65,8.01 L282.04,8.78 L282.42,9.55 L282.81,10.33 L283.20,11.12 L283.59,11.90 L283.97,12.70 L284.36,13.49 L284.75,14.29 L285.14,15.09 L285.52,15.90 L285.91,16.71 L286.30,17.52 L286.69,18.33 L287.07,19.15 L287.46,19.96 L287.85,20.78 L288.24,21.60 L288.62,22.43 L289.01,23.25 L289.40,24.08 L289.79,24.91 L290.17,25.73 L290.56,26.56 L290.95,27.39 L291.34,28.22 L291.72,29.05 L292.11,29.89 L292.50,30.73 L292.89,31.57 L293.27,32.41 L293.66,33.25 L294.05,34.10 L294.44,34.95 L294.82,35.80 L295.21,36.66 L295.60,37.52 L295.99,38.38 L296.37,39.25 L296.76,40.11 L297.15,40.99 L297.54,41.86 L297.92,42.74 L298.31,43.62 L298.70,44.51 L299.09,45.40 L299.47,46.29 L299.86,47.19 L300.25,48.09 L300.64,48.99 L301.02,49.90 L301.41,50.82 L301.80,51.74 L302.19,52.66 L302.57,53.60 L302.96,54.54 L303.35,55.48 L303.74,56.43 L304.12,57.39 L304.51,58.36 L304.90,59.32 L305.29,60.29 L305.67,61.27 L306.06,62.25 L306.45,63.23 L306.84,64.22 L307.22,65.21 L307.61,66.20 L308.00,67.19 L308.39,68.18 L308.77,69.18 L309.16,70.17 L309.55,71.17 L309.94,72.16 L310.32,73.15 L310.71,74.15 L311.10,75.14 L311.49,76.13 L311.87,77.11 L312.26,78.08 L312.65,79.04 L313.04,80.00 L313.42,80.96 L313.81,81.91 L314.20,82.87 L314.59,83.83 L314.97,84.79 L315.36,85.76 L315.75,86.73 L316.14,87.72 L316.52,88.72 L316.91,89.73 L317.30,90.76 L317.69,91.81 L318.07,92.87 L318.46,93.96 L318.85,95.08 L319.24,96.22 L319.62,97.39 L320.01,98.61 L320.40,99.86 L320.79,101.13 L321.17,102.44 L321.56,103.76 L321.95,105.09 L322.34,106.44 L322.72,107.80 L323.11,109.15 L323.50,110.51 L323.88,111.86 L324.27,113.20 L324.66,114.55 L325.05,115.91 L325.43,117.28 L325.82,118.66 L326.21,120.04 L326.60,121.43 L326.98,122.83 L327.37,124.22 L327.76,125.62 L328.15,127.01 L328.53,128.40 L328.92,129.79 L329.31,131.17 L329.70,132.55 L330.08,133.91 L330.47,135.27 L330.86,136.63 L331.25,137.98 L331.63,139.32 L332.02,140.67 L332.41,142.02 L332.80,143.37 L333.18,144.73 L333.57,146.09 L333.96,147.46 L334.35,148.84 L334.73,150.23 L335.12,151.64 L335.51,153.06 L335.90,154.50 L336.28,155.95 L336.67,157.41 L337.06,158.88 L337.45,160.37 L337.83,161.86 L338.22,163.35 L338.61,164.85 L339.00,166.36 L339.38,167.86 L339.77,169.37 L340.16,170.87 L340.55,172.37 L340.93,173.86 L341.32,175.35 L341.71,176.83 L342.10,178.30 L342.48,179.78 L342.87,181.25 L343.26,182.72 L343.65,184.19 L344.03,185.67 L344.42,187.15 L344.81,188.64 L345.20,190.14 L345.58,191.65 L345.97,193.17 L346.36,194.70 L346.75,196.24 L347.13,197.80 L347.52,199.36 L347.91,200.94 L348.30,202.52 L348.68,204.11 L349.07,205.71 L349.46,207.31 L349.85,208.93 L350.23,210.55 L350.62,212.19 L351.01,213.83 L351.40,215.48 L351.78,217.15 L352.17,218.82 L352.56,220.50 L352.95,222.22 L353.33,223.96 L353.72,225.72 L354.11,227.49 L354.50,229.28 L354.88,231.07 L355.27,232.86 L355.66,234.65 L356.05,236.42 L356.43,238.18 L356.82,239.92 L357.21,241.63 L357.60,243.31 L357.98,244.95 L358.37,246.57 L358.76,248.15 L359.15,249.72 L359.53,251.27 L359.92,252.81 L360.31,254.34 L360.70,255.87 L361.08,257.40 L361.47,258.94 L361.86,260.49 L362.25,262.05 L362.63,263.63 L363.02,265.24 L363.41,266.88 L363.80,268.53 L364.18,270.20 L364.57,271.87 L364.96,273.56 L365.34,275.25 L365.73,276.97 L366.12,278.69 L366.51,280.44 L366.89,282.20 L367.28,283.99 L367.67,285.80 L368.06,287.64 L368.44,289.51 L368.83,291.42 L369.22,293.42 L369.61,295.50 L369.99,297.60 L370.38,299.67 L370.77,301.64 L371.16,303.54 L371.54,305.41 L371.93,307.25 L372.32,309.05 L372.71,310.80 L373.09,312.50 L373.48,314.15 L373.87,315.80 L374.26,317.46 L374.64,319.11 L375.03,320.74 L375.42,322.36 L375.81,323.96 L376.19,325.53 L376.58,327.06 L376.97,328.56 L377.36,330.00 L377.74,331.40 L378.13,332.73 L378.52,334.00 L378.91,335.20 L379.29,336.32 L379.68,337.38 L380.07,338.38 L380.46,339.35 L380.84,340.26 L381.23,341.12 L381.62,341.91 L382.01,342.64 L382.39,343.29 L382.78,343.89 L383.17,344.47 L383.56,345.01 L383.94,345.51 L384.33,345.98 L384.72,346.39 L385.11,346.75 L385.30,346.91 L385.45,347.02 L385.49,346.99 L385.88,346.67 L386.27,346.30 L386.66,345.88 L387.04,345.40 L387.43,344.89 L387.82,344.34 L388.21,343.76 L388.59,343.15 L388.98,342.48 L389.37,341.74 L389.76,340.93 L390.14,340.06 L390.53,339.13 L390.92,338.16 L391.31,337.14 L391.69,336.08 L392.08,334.94 L392.47,333.72 L392.86,332.44 L393.24,331.09 L393.63,329.68 L394.02,328.22 L394.41,326.72 L394.79,325.18 L395.18,323.60 L395.57,322.00 L395.96,320.37 L396.34,318.73 L396.73,317.08 L397.12,315.43 L397.51,313.78 L397.89,312.12 L398.28,310.41 L398.67,308.65 L399.06,306.84 L399.44,304.99 L399.83,303.11 L400.22,301.20 L400.61,299.21 L400.99,297.13 L401.38,295.03 L401.77,292.96 L402.16,290.98 L402.54,289.09 L402.93,287.23 L403.32,285.39 L403.71,283.59 L404.09,281.80 L404.48,280.04 L404.87,278.30 L405.26,276.58 L405.64,274.87 L406.03,273.18 L406.42,271.50 L406.80,269.82 L407.19,268.16 L407.58,266.50 L407.97,264.87 L408.35,263.27 L408.74,261.70 L409.13,260.14 L409.52,258.59 L409.90,257.06 L410.29,255.53 L410.68,254.00 L411.07,252.46 L411.45,250.92 L411.84,249.37 L412.23,247.80 L412.62,246.20 L413.00,244.58 L413.39,242.93 L413.78,241.25 L414.17,239.53 L414.55,237.79 L414.94,236.03 L415.33,234.25 L415.72,232.46 L416.10,230.67 L416.49,228.88 L416.88,227.09 L417.27,225.32 L417.65,223.56 L418.04,221.83 L418.43,220.12 L418.82,218.44 L419.20,216.77 L419.59,215.11 L419.98,213.46 L420.37,211.82 L420.75,210.19 L421.14,208.56 L421.53,206.95 L421.92,205.34 L422.30,203.75 L422.69,202.16 L423.08,200.58 L423.47,199.01 L423.85,197.45 L424.24,195.89 L424.63,194.35 L425.02,192.82 L425.40,191.31 L425.79,189.80 L426.18,188.31 L426.57,186.82 L426.95,185.34 L427.34,183.86 L427.73,182.39 L428.12,180.92 L428.50,179.44 L428.89,177.97 L429.28,176.49 L429.67,175.01 L430.05,173.52 L430.44,172.03 L430.83,170.53 L431.22,169.03 L431.60,167.52 L431.99,166.02 L432.38,164.51 L432.77,163.01 L433.15,161.52 L433.54,160.03 L433.93,158.55 L434.32,157.08 L434.70,155.62 L435.09,154.17 L435.48,152.74 L435.87,151.32 L436.25,149.92 L436.64,148.53 L437.03,147.15 L437.42,145.78 L437.80,144.42 L438.19,143.06 L438.58,141.71 L438.97,140.37 L439.35,139.02 L439.74,137.67 L440.13,136.32 L440.52,134.97 L440.90,133.61 L441.29,132.24 L441.68,130.86 L442.07,129.48 L442.45,128.09 L442.84,126.69 L443.23,125.30 L443.62,123.91 L444.00,122.51 L444.39,121.12 L444.78,119.73 L445.17,118.35 L445.55,116.97 L445.94,115.60 L446.33,114.24 L446.72,112.89 L447.10,111.55 L447.49,110.20 L447.88,108.85 L448.26,107.49 L448.65,106.14 L449.04,104.79 L449.43,103.46 L449.81,102.14 L450.20,100.84 L450.59,99.57 L450.98,98.33 L451.36,97.12 L451.75,95.96 L452.14,94.82 L452.53,93.72 L452.91,92.63 L453.30,91.57 L453.69,90.53 L454.08,89.50 L454.46,88.49 L454.85,87.50 L455.24,86.51 L455.63,85.54 L456.01,84.57 L456.40,83.61 L456.79,82.65 L457.18,81.70 L457.56,80.74 L457.95,79.79 L458.34,78.83 L458.73,77.86 L459.11,76.89 L459.50,75.90 L459.89,74.91 L460.28,73.92 L460.66,72.93 L461.05,71.94 L461.44,70.94 L461.83,69.95 L462.21,68.95 L462.60,67.96 L462.99,66.97 L463.38,65.97 L463.76,64.98 L464.15,64.00 L464.54,63.01 L464.93,62.03 L465.31,61.05 L465.70,60.08 L466.09,59.10 L466.48,58.14 L466.86,57.18 L467.25,56.22 L467.64,55.27 L468.03,54.32 L468.41,53.39 L468.80,52.45 L469.19,51.53 L469.58,50.61 L469.96,49.70 L470.35,48.79 L470.74,47.89 L471.13,46.98 L471.51,46.09 L471.90,45.20 L472.29,44.31 L472.68,43.42 L473.06,42.54 L473.45,41.66 L473.84,40.79 L474.23,39.92 L474.61,39.05 L475.00,38.19 L475.39,37.33 L475.78,36.47 L476.16,35.61 L476.55,34.76 L476.94,33.91 L477.33,33.06 L477.71,32.22 L478.10,31.38 L478.49,30.54 L478.88,29.70 L479.26,28.87 L479.65,28.03 L480.04,27.20 L480.43,26.37 L480.81,25.55 L481.20,24.72 L481.59,23.89 L481.98,23.07 L482.36,22.24 L482.75,21.42 L483.14,20.60 L483.53,19.78 L483.91,18.96 L484.30,18.15 L484.69,17.33 L485.08,16.52 L485.46,15.71 L485.85,14.91 L486.24,14.11 L486.63,13.31 L487.01,12.52 L487.40,11.73 L487.79,10.94 L488.18,10.16 L488.56,9.38 L488.95,8.60 L489.34,7.83 L489.73,7.07 L490.11,6.31 L490.50,5.56 L490.89,4.81 L491.27,4.07 L491.66,3.33 L492.05,2.60 L492.44,1.87 L492.82,1.15 L493.21,0.43 L493.60,-0.29 L493.99,-1.01 L494.37,-1.73 L494.76,-2.44 L495.15,-3.15 L495.54,-3.86 L495.92,-4.57 L496.31,-5.28 L496.70,-5.98 L497.09,-6.69 L497.47,-7.39 L497.86,-8.08 L498.25,-8.78 L498.64,-9.47 L499.02,-10.17 L499.41,-10.85 L499.80,-11.54 L500.19,-12.22 L500.57,-12.91 L500.96,-13.58 L501.35,-14.26 L501.74,-14.93 L502.12,-15.60 L502.51,-16.27 L502.90,-16.93 L503.29,-17.60 L503.67,-18.25 L504.06,-18.91 L504.45,-19.56 L504.84,-20.21 L505.22,-20.86 L505.61,-21.50 L506.00,-22.14 L506.39,-22.77 L506.77,-23.40 L507.16,-24.03 L507.55,-24.66 L507.94,-25.28 L508.32,-25.90 L508.71,-26.51 L509.10,-27.12 L509.49,-27.73 L509.87,-28.33 L510.26,-28.93 L510.65,-29.52 L511.04,-30.11 L511.42,-30.70 L511.81,-31.28 L512.20,-31.86 L512.59,-32.43 L512.97,-33.00 L513.36,-33.56 L513.75,-34.13 L514.14,-34.68 L514.52,-35.24 L514.91,-35.79 L515.30,-36.34 L515.69,-36.89 L516.07,-37.44 L516.46,-37.98 L516.85,-38.52 L517.24,-39.06 L517.62,-39.59" stroke="#e377c2" stroke-width="4.5" fill="none" stroke-linejoin="round" stroke-linecap="square"/>
<g fill="#ff7f0e"><rect x="111.20" y="301.70" width="4.4" height="12.40"/><rect x="118.20" y="348.30" width="4.4" height="12.40"/><rect x="125.40" y="203.30" width="4.4" height="8.40"/><rect x="132.00" y="185.10" width="4.4" height="12.40"/><rect x="138.50" y="285.90" width="4.4" height="12.20"/><rect x="145.80" y="184.20" width="4.4" height="8.30"/><rect x="152.30" y="149.00" width="4.4" height="11.90"/><rect x="158.90" y="194.50" width="4.4" height="11.80"/><rect x="165.50" y="154.00" width="4.4" height="11.30"/><rect x="172.50" y="149.20" width="4.4" height="12.20"/><rect x="179.50" y="135.80" width="4.4" height="13.50"/><rect x="186.10" y="79.50" width="4.4" height="16.10"/><rect x="193.30" y="167.20" width="4.4" height="11.70"/><rect x="199.80" y="74.50" width="4.4" height="16.80"/><rect x="206.40" y="75.10" width="4.4" height="16.80"/><rect x="213.40" y="138.70" width="4.4" height="15.00"/><rect x="220.00" y="26.30" width="4.4" height="21.10"/><rect x="226.60" y="87.20" width="4.4" height="16.60"/><rect x="233.30" y="90.50" width="4.4" height="15.00"/><rect x="240.40" y="49.50" width="4.4" height="20.50"/><rect x="247.40" y="74.00" width="4.4" height="17.30"/><rect x="253.90" y="77.30" width="4.4" height="15.10"/><rect x="260.80" y="108.60" width="4.4" height="13.40"/><rect x="267.80" y="47.80" width="4.4" height="22.20"/><rect x="274.30" y="107.60" width="4.4" height="16.10"/><rect x="280.90" y="43.00" width="4.4" height="27.50"/><rect x="287.40" y="117.90" width="4.4" height="16.10"/><rect x="294.70" y="128.80" width="4.4" height="18.30"/><rect x="301.20" y="94.80" width="4.4" height="17.30"/><rect x="308.70" y="63.10" width="4.4" height="20.50"/><rect x="314.80" y="132.10" width="4.4" height="16.10"/><rect x="317.70" y="149.60" width="4.4" height="11.80"/><rect x="321.40" y="123.40" width="4.4" height="16.10"/><rect x="323.10" y="155.10" width="4.4" height="10.70"/><rect x="330.10" y="227.40" width="4.4" height="12.40"/><rect x="328.40" y="263.10" width="4.4" height="12.80"/><rect x="335.20" y="263.10" width="4.4" height="12.80"/><rect x="336.70" y="126.60" width="4.4" height="15.10"/><rect x="342.20" y="113.50" width="4.4" height="13.50"/><rect x="342.40" y="158.40" width="4.4" height="15.30"/><rect x="345.30" y="134.20" width="4.4" height="19.80"/><rect x="348.40" y="131.30" width="4.4" height="18.30"/><rect x="352.00" y="124.00" width="4.4" height="15.40"/><rect x="355.50" y="113.00" width="4.4" height="27.80"/><rect x="358.60" y="138.60" width="4.4" height="17.60"/><rect x="362.30" y="156.80" width="4.4" height="23.60"/><rect x="364.80" y="172.20" width="4.4" height="18.30"/><rect x="368.80" y="167.00" width="4.4" height="20.40"/><rect x="372.10" y="178.10" width="4.4" height="18.30"/><rect x="376.10" y="191.10" width="4.4" height="16.90"/><rect x="377.60" y="204.30" width="4.4" height="18.30"/><rect x="381.40" y="199.60" width="4.4" height="21.50"/><rect x="383.40" y="198.40" width="4.4" height="15.40"/><rect x="386.40" y="202.80" width="4.4" height="14.00"/><rect x="389.30" y="207.20" width="4.4" height="19.80"/><rect x="392.20" y="195.50" width="4.4" height="12.50"/><rect x="395.00" y="180.90" width="4.4" height="22.70"/><rect x="398.90" y="170.70" width="4.4" height="25.70"/><rect x="403.10" y="172.20" width="4.4" height="25.60"/><rect x="404.60" y="156.10" width="4.4" height="17.30"/><rect x="407.30" y="128.40" width="4.4" height="23.00"/><rect x="411.20" y="114.60" width="4.4" height="24.80"/><rect x="415.30" y="125.40" width="4.4" height="20.00"/><rect x="419.90" y="131.30" width="4.4" height="13.90"/><rect x="422.50" y="113.00" width="4.4" height="27.80"/><rect x="424.30" y="163.40" width="4.4" height="12.50"/><rect x="427.20" y="119.60" width="4.4" height="13.90"/><rect x="430.00" y="119.00" width="4.4" height="17.40"/><rect x="434.20" y="223.60" width="4.4" height="11.80"/><rect x="437.60" y="215.10" width="4.4" height="14.30"/><rect x="437.00" y="257.60" width="4.4" height="11.70"/><rect x="441.80" y="142.00" width="4.4" height="15.00"/><rect x="445.10" y="124.50" width="4.4" height="12.80"/><rect x="447.30" y="150.70" width="4.4" height="14.00"/><rect x="450.60" y="157.30" width="4.4" height="15.00"/><rect x="457.80" y="89.80" width="4.4" height="15.70"/><rect x="464.40" y="99.20" width="4.4" height="17.20"/><rect x="471.40" y="102.60" width="4.4" height="17.80"/><rect x="478.00" y="70.10" width="4.4" height="15.70"/><rect x="484.50" y="93.80" width="4.4" height="20.50"/><rect x="491.10" y="2.90" width="4.4" height="38.00"/><rect x="497.70" y="83.90" width="4.4" height="19.40"/><rect x="505.30" y="117.90" width="4.4" height="18.30"/><rect x="511.90" y="111.60" width="4.4" height="18.00"/><rect x="518.50" y="16.00" width="4.4" height="35.20"/><rect x="525.70" y="119.00" width="4.4" height="18.30"/><rect x="532.40" y="23.60" width="4.4" height="33.70"/><rect x="538.90" y="108.00" width="4.4" height="17.30"/><rect x="545.90" y="88.30" width="4.4" height="18.30"/><rect x="552.50" y="69.20" width="4.4" height="14.80"/><rect x="559.10" y="85.00" width="4.4" height="17.90"/><rect x="565.60" y="105.80" width="4.4" height="15.60"/><rect x="572.70" y="140.40" width="4.4" height="15.50"/><rect x="579.20" y="159.50" width="4.4" height="15.50"/><rect x="586.40" y="94.20" width="4.4" height="17.40"/><rect x="593.00" y="113.50" width="4.4" height="15.50"/><rect x="600.00" y="276.10" width="4.4" height="13.90"/><rect x="606.80" y="125.60" width="4.4" height="15.00"/><rect x="613.40" y="144.20" width="4.4" height="14.60"/><rect x="620.10" y="223.60" width="4.4" height="13.20"/><rect x="627.00" y="172.00" width="4.4" height="15.20"/><rect x="633.50" y="190.10" width="4.4" height="14.00"/><rect x="640.50" y="262.90" width="4.4" height="12.90"/><rect x="647.10" y="209.80" width="4.4" height="14.00"/><rect x="654.30" y="251.30" width="4.4" height="14.60"/></g>
<g fill="#2ca02c"><rect x="136.40" y="73.00" width="4.4" height="17.20"/><rect x="142.40" y="116.60" width="4.4" height="13.80"/><rect x="148.40" y="48.90" width="4.4" height="21.60"/><rect x="154.50" y="57.00" width="4.4" height="18.30"/><rect x="160.40" y="19.70" width="4.4" height="25.60"/><rect x="166.30" y="37.90" width="4.4" height="22.70"/><rect x="172.50" y="13.80" width="4.4" height="26.00"/><rect x="178.40" y="25.90" width="4.4" height="23.10"/><rect x="184.50" y="62.70" width="4.4" height="18.30"/><rect x="190.40" y="50.40" width="4.4" height="18.30"/><rect x="196.60" y="27.60" width="4.4" height="19.20"/><rect x="202.50" y="92.60" width="4.4" height="17.30"/><rect x="208.60" y="32.90" width="4.4" height="20.10"/><rect x="214.50" y="86.70" width="4.4" height="12.70"/><rect x="220.40" y="34.60" width="4.4" height="20.10"/><rect x="226.60" y="58.70" width="4.4" height="20.10"/><rect x="232.80" y="27.60" width="4.4" height="21.20"/><rect x="238.60" y="108.60" width="4.4" height="15.60"/><rect x="244.30" y="99.90" width="4.4" height="11.10"/><rect x="250.70" y="44.50" width="4.4" height="20.50"/><rect x="256.80" y="66.40" width="4.4" height="15.00"/><rect x="262.30" y="104.30" width="4.4" height="11.10"/><rect x="268.40" y="54.80" width="4.4" height="16.10"/><rect x="274.70" y="88.30" width="4.4" height="13.30"/><rect x="280.90" y="74.00" width="4.4" height="12.90"/><rect x="286.80" y="97.00" width="4.4" height="12.40"/><rect x="292.50" y="82.80" width="4.4" height="12.20"/><rect x="298.80" y="71.90" width="4.4" height="12.80"/><rect x="304.80" y="116.60" width="4.4" height="10.80"/><rect x="310.40" y="89.40" width="4.4" height="12.20"/><rect x="316.60" y="106.90" width="4.4" height="12.00"/><rect x="322.50" y="148.60" width="4.4" height="10.60"/><rect x="325.30" y="178.10" width="4.4" height="10.70"/><rect x="328.00" y="150.70" width="4.4" height="12.90"/><rect x="331.70" y="147.40" width="4.4" height="14.00"/><rect x="334.50" y="160.60" width="4.4" height="13.90"/><rect x="336.70" y="169.30" width="4.4" height="11.80"/><rect x="340.00" y="180.30" width="4.4" height="13.90"/><rect x="342.60" y="191.20" width="4.4" height="11.80"/><rect x="344.40" y="197.80" width="4.4" height="11.80"/><rect x="346.60" y="206.60" width="4.4" height="11.70"/><rect x="348.80" y="231.60" width="4.4" height="10.40"/><rect x="352.00" y="243.40" width="4.4" height="12.80"/><rect x="355.30" y="256.50" width="4.4" height="16.10"/><rect x="358.60" y="269.60" width="4.4" height="15.10"/><rect x="361.90" y="281.70" width="4.4" height="17.20"/><rect x="365.20" y="294.80" width="4.4" height="15.00"/><rect x="368.50" y="309.00" width="4.4" height="14.00"/><rect x="372.20" y="320.00" width="4.4" height="15.00"/><rect x="376.10" y="339.70" width="4.4" height="20.50"/><rect x="379.40" y="343.00" width="4.4" height="15.00"/><rect x="382.70" y="341.90" width="4.4" height="20.50"/><rect x="386.00" y="341.90" width="4.4" height="11.70"/><rect x="389.30" y="340.80" width="4.4" height="16.10"/><rect x="393.70" y="322.20" width="4.4" height="15.00"/><rect x="396.90" y="310.10" width="4.4" height="11.80"/><rect x="401.30" y="287.20" width="4.4" height="18.30"/><rect x="405.70" y="269.60" width="4.4" height="17.30"/><rect x="410.10" y="252.10" width="4.4" height="11.80"/><rect x="411.20" y="258.70" width="4.4" height="11.70"/><rect x="413.80" y="243.40" width="4.4" height="11.70"/><rect x="416.60" y="228.50" width="4.4" height="11.30"/><rect x="418.80" y="208.80" width="4.4" height="13.90"/><rect x="421.00" y="194.50" width="4.4" height="10.70"/><rect x="423.20" y="186.90" width="4.4" height="13.90"/><rect x="425.40" y="180.30" width="4.4" height="13.90"/><rect x="428.70" y="169.30" width="4.4" height="11.80"/><rect x="430.90" y="161.70" width="4.4" height="19.40"/><rect x="434.20" y="152.90" width="4.4" height="12.90"/><rect x="438.50" y="151.80" width="4.4" height="12.90"/><rect x="440.70" y="173.70" width="4.4" height="11.80"/><rect x="442.90" y="161.70" width="4.4" height="11.70"/><rect x="448.80" y="114.60" width="4.4" height="10.70"/><rect x="455.00" y="97.00" width="4.4" height="11.80"/><rect x="460.90" y="103.60" width="4.4" height="11.80"/><rect x="467.00" y="92.60" width="4.4" height="12.50"/><rect x="473.10" y="87.60" width="4.4" height="13.10"/><rect x="479.00" y="82.80" width="4.4" height="12.80"/><rect x="485.00" y="112.40" width="4.4" height="10.70"/><rect x="491.10" y="88.30" width="4.4" height="13.90"/><rect x="497.20" y="59.20" width="4.4" height="15.60"/><rect x="503.10" y="106.50" width="4.4" height="12.10"/><rect x="509.00" y="54.30" width="4.4" height="15.10"/><rect x="515.20" y="51.10" width="4.4" height="17.60"/><rect x="521.30" y="136.50" width="4.4" height="10.60"/><rect x="527.20" y="85.00" width="4.4" height="14.40"/><rect x="532.80" y="24.80" width="4.4" height="17.60"/><rect x="539.40" y="4.40" width="4.4" height="26.70"/><rect x="545.30" y="43.40" width="4.4" height="17.90"/><rect x="551.40" y="158.40" width="4.4" height="10.60"/><rect x="557.30" y="51.10" width="4.4" height="15.00"/><rect x="563.50" y="95.90" width="4.4" height="16.20"/><rect x="569.40" y="108.60" width="4.4" height="13.40"/><rect x="575.50" y="71.40" width="4.4" height="14.80"/><rect x="581.00" y="34.60" width="4.4" height="21.00"/><rect x="587.10" y="64.90" width="4.4" height="17.00"/><rect x="593.50" y="59.80" width="4.4" height="15.00"/><rect x="598.90" y="45.60" width="4.4" height="20.10"/><rect x="605.10" y="37.90" width="4.4" height="21.60"/><rect x="611.60" y="67.90" width="4.4" height="16.80"/><rect x="617.50" y="35.70" width="4.4" height="23.40"/><rect x="623.20" y="147.00" width="4.4" height="14.40"/><rect x="629.10" y="95.90" width="4.4" height="16.20"/><rect x="635.30" y="117.60" width="4.4" height="15.30"/><rect x="641.20" y="104.30" width="4.4" height="18.10"/><rect x="647.10" y="60.50" width="4.4" height="20.50"/></g>
</g>
<g clip-path="url(#cb)">
<path d="M155.60,677.45 L155.98,677.30 L156.36,677.15 L156.74,677.00 L157.13,676.85 L157.51,676.69 L157.89,676.54 L158.27,676.39 L158.65,676.23 L159.03,676.08 L159.41,675.93 L159.79,675.77 L160.18,675.62 L160.56,675.46 L160.94,675.31 L161.32,675.15 L161.70,675.00 L162.08,674.84 L162.46,674.69 L162.84,674.53 L163.23,674.37 L163.61,674.22 L163.99,674.06 L164.37,673.90 L164.75,673.74 L165.13,673.59 L165.51,673.43 L165.90,673.27 L166.28,673.11 L166.66,672.95 L167.04,672.79 L167.42,672.63 L167.80,672.47 L168.18,672.31 L168.56,672.15 L168.95,671.99 L169.33,671.83 L169.71,671.67 L170.09,671.50 L170.47,671.34 L170.85,671.18 L171.23,671.02 L171.61,670.85 L172.00,670.69 L172.38,670.53 L172.76,670.36 L173.14,670.20 L173.52,670.03 L173.90,669.87 L174.28,669.70 L174.67,669.54 L175.05,669.37 L175.43,669.21 L175.81,669.04 L176.19,668.87 L176.57,668.71 L176.95,668.54 L177.33,668.37 L177.72,668.20 L178.10,668.03 L178.48,667.87 L178.86,667.70 L179.24,667.53 L179.62,667.36 L180.00,667.19 L180.38,667.02 L180.77,666.85 L181.15,666.68 L181.53,666.50 L181.91,666.33 L182.29,666.16 L182.67,665.99 L183.05,665.82 L183.44,665.64 L183.82,665.47 L184.20,665.30 L184.58,665.12 L184.96,664.95 L185.34,664.77 L185.72,664.60 L186.10,664.42 L186.49,664.25 L186.87,664.07 L187.25,663.89 L187.63,663.72 L188.01,663.54 L188.39,663.36 L188.77,663.19 L189.15,663.01 L189.54,662.83 L189.92,662.65 L190.30,662.47 L190.68,662.29 L191.06,662.11 L191.44,661.93 L191.82,661.75 L192.21,661.57 L192.59,661.39 L192.97,661.20 L193.35,661.02 L193.73,660.84 L194.11,660.66 L194.49,660.47 L194.87,660.29 L195.26,660.11 L195.64,659.92 L196.02,659.74 L196.40,659.55 L196.78,659.36 L197.16,659.18 L197.54,658.99 L197.92,658.81 L198.31,658.62 L198.69,658.43 L199.07,658.24 L199.45,658.05 L199.83,657.87 L200.21,657.68 L200.59,657.49 L200.97,657.30 L201.36,657.11 L201.74,656.91 L202.12,656.72 L202.50,656.53 L202.88,656.34 L203.26,656.15 L203.64,655.95 L204.03,655.76 L204.41,655.57 L204.79,655.37 L205.17,655.18 L205.55,654.98 L205.93,654.79 L206.31,654.59 L206.69,654.39 L207.08,654.20 L207.46,654.00 L207.84,653.80 L208.22,653.60 L208.60,653.41 L208.98,653.21 L209.36,653.01 L209.74,652.81 L210.13,652.61 L210.51,652.41 L210.89,652.20 L211.27,652.00 L211.65,651.80 L212.03,651.60 L212.41,651.39 L212.80,651.19 L213.18,650.99 L213.56,650.78 L213.94,650.58 L214.32,650.37 L214.70,650.17 L215.08,649.96 L215.46,649.75 L215.85,649.55 L216.23,649.34 L216.61,649.13 L216.99,648.92 L217.37,648.71 L217.75,648.50 L218.13,648.29 L218.51,648.08 L218.90,647.87 L219.28,647.66 L219.66,647.44 L220.04,647.23 L220.42,647.02 L220.80,646.80 L221.18,646.59 L221.57,646.37 L221.95,646.16 L222.33,645.94 L222.71,645.73 L223.09,645.51 L223.47,645.29 L223.85,645.07 L224.23,644.85 L224.62,644.64 L225.00,644.42 L225.38,644.20 L225.76,643.97 L226.14,643.75 L226.52,643.53 L226.90,643.31 L227.28,643.09 L227.67,642.86 L228.05,642.64 L228.43,642.41 L228.81,642.19 L229.19,641.96 L229.57,641.74 L229.95,641.51 L230.34,641.28 L230.72,641.05 L231.10,640.82 L231.48,640.59 L231.86,640.37 L232.24,640.13 L232.62,639.90 L233.00,639.67 L233.39,639.44 L233.77,639.21 L234.15,638.97 L234.53,638.74 L234.91,638.50 L235.29,638.27 L235.67,638.03 L236.05,637.80 L236.44,637.56 L236.82,637.32 L237.20,637.08 L237.58,636.84 L237.96,636.60 L238.34,636.36 L238.72,636.12 L239.11,635.88 L239.49,635.64 L239.87,635.39 L240.25,635.15 L240.63,634.91 L241.01,634.66 L241.39,634.41 L241.77,634.17 L242.16,633.92 L242.54,633.67 L242.92,633.42 L243.30,633.18 L243.68,632.93 L244.06,632.68 L244.44,632.42 L244.82,632.17 L245.21,631.92 L245.59,631.67 L245.97,631.41 L246.35,631.16 L246.73,630.90 L247.11,630.64 L247.49,630.39 L247.88,630.13 L248.26,629.87 L248.64,629.61 L249.02,629.35 L249.40,629.09 L249.78,628.83 L250.16,628.57 L250.54,628.30 L250.93,628.04 L251.31,627.78 L251.69,627.51 L252.07,627.24 L252.45,626.98 L252.83,626.71 L253.21,626.44 L253.59,626.17 L253.98,625.90 L254.36,625.63 L254.74,625.36 L255.12,625.08 L255.50,624.81 L255.88,624.54 L256.26,624.26 L256.65,623.99 L257.03,623.71 L257.41,623.43 L257.79,623.15 L258.17,622.87 L258.55,622.59 L258.93,622.31 L259.31,622.03 L259.70,621.75 L260.08,621.46 L260.46,621.18 L260.84,620.89 L261.22,620.60 L261.60,620.32 L261.98,620.03 L262.36,619.74 L262.75,619.45 L263.13,619.16 L263.51,618.87 L263.89,618.57 L264.27,618.28 L264.65,617.98 L265.03,617.69 L265.42,617.39 L265.80,617.09 L266.18,616.79 L266.56,616.49 L266.94,616.19 L267.32,615.89 L267.70,615.59 L268.08,615.28 L268.47,614.98 L268.85,614.67 L269.23,614.36 L269.61,614.06 L269.99,613.75 L270.37,613.44 L270.75,613.12 L271.13,612.81 L271.52,612.50 L271.90,612.18 L272.28,611.87 L272.66,611.55 L273.04,611.23 L273.42,610.91 L273.80,610.59 L274.18,610.27 L274.57,609.95 L274.95,609.63 L275.33,609.30 L275.71,608.97 L276.09,608.65 L276.47,608.32 L276.85,607.99 L277.24,607.66 L277.62,607.33 L278.00,606.99 L278.38,606.66 L278.76,606.32 L279.14,605.99 L279.52,605.65 L279.90,605.31 L280.29,604.97 L280.67,604.62 L281.05,604.28 L281.43,603.94 L281.81,603.59 L282.19,603.24 L282.57,602.89 L282.95,602.54 L283.34,602.19 L283.72,601.84 L284.10,601.49 L284.48,601.13 L284.86,600.77 L285.24,600.41 L285.62,600.05 L286.01,599.69 L286.39,599.33 L286.77,598.97 L287.15,598.60 L287.53,598.23 L287.91,597.86 L288.29,597.49 L288.67,597.12 L289.06,596.75 L289.44,596.38 L289.82,596.00 L290.20,595.62 L290.58,595.24 L290.96,594.86 L291.34,594.48 L291.72,594.09 L292.11,593.71 L292.49,593.32 L292.87,592.93 L293.25,592.54 L293.63,592.15 L294.01,591.75 L294.39,591.36 L294.78,590.96 L295.16,590.56 L295.54,590.16 L295.92,589.76 L296.30,589.35 L296.68,588.95 L297.06,588.54 L297.44,588.13 L297.83,587.71 L298.21,587.30 L298.59,586.88 L298.97,586.47 L299.35,586.05 L299.73,585.63 L300.11,585.20 L300.49,584.78 L300.88,584.35 L301.26,583.92 L301.64,583.49 L302.02,583.05 L302.40,582.62 L302.78,582.18 L303.16,581.74 L303.55,581.30 L303.93,580.85 L304.31,580.41 L304.69,579.96 L305.07,579.51 L305.45,579.06 L305.83,578.60 L306.21,578.14 L306.60,577.68 L306.98,577.22 L307.36,576.76 L307.74,576.29 L308.12,575.82 L308.50,575.35 L308.88,574.87 L309.26,574.40 L309.65,573.92 L310.03,573.44 L310.41,572.95 L310.79,572.47 L311.17,571.98 L311.55,571.48 L311.93,570.99 L312.32,570.49 L312.70,569.99 L313.08,569.49 L313.46,568.98 L313.84,568.48 L314.22,567.96 L314.60,567.45 L314.98,566.93 L315.37,566.41 L315.75,565.89 L316.13,565.36 L316.51,564.84 L316.89,564.30 L317.27,563.77 L317.65,563.23 L318.03,562.69 L318.42,562.14 L318.80,561.60 L319.18,561.05 L319.56,560.49 L319.94,559.93 L320.32,559.37 L320.70,558.81 L321.09,558.24 L321.47,557.67 L321.85,557.09 L322.23,556.51 L322.61,555.93 L322.99,555.34 L323.37,554.75 L323.75,554.16 L324.14,553.56 L324.52,552.96 L324.90,552.36 L325.28,551.75 L325.66,551.13 L326.04,550.52 L326.42,549.89 L326.80,549.27 L327.19,548.64 L327.57,548.00 L327.95,547.36 L328.33,546.72 L328.71,546.07 L329.09,545.42 L329.47,544.76 L329.86,544.10 L330.24,543.44 L330.62,542.76 L331.00,542.09 L331.38,541.41 L331.76,540.72 L332.14,540.03 L332.52,539.33 L332.91,538.63 L333.29,537.92 L333.67,537.21 L334.05,536.49 L334.43,535.77 L334.81,535.04 L335.19,534.30 L335.57,533.56 L335.96,532.82 L336.34,532.06 L336.72,531.30 L337.10,530.54 L337.48,529.77 L337.86,528.99 L338.24,528.20 L338.63,527.41 L339.01,526.61 L339.39,525.81 L339.77,524.99 L340.15,524.17 L340.53,523.35 L340.91,522.51 L341.29,521.67 L341.68,520.82 L342.06,519.97 L342.44,519.10 L342.82,518.23 L343.20,517.35 L343.58,516.46 L343.96,515.56 L344.34,514.65 L344.73,513.74 L345.11,512.81 L345.49,511.88 L345.87,510.93 L346.25,509.98 L346.63,509.02 L347.01,508.04 L347.39,507.06 L347.78,506.07 L348.16,505.06 L348.54,504.05 L348.92,503.02 L349.30,501.99 L349.68,500.94 L350.06,499.88 L350.45,498.80 L350.83,497.72 L351.21,496.62 L351.59,495.51 L351.97,494.38 L352.35,493.25 L352.73,492.10 L353.11,490.93 L353.50,489.75 L353.88,488.55 L354.26,487.34 L354.64,486.12 L355.02,484.87 L355.40,483.62 L355.78,482.34 L356.16,481.05 L356.55,479.74 L356.93,478.41 L357.31,477.06 L357.69,475.69 L358.07,474.30 L358.45,472.89 L358.83,471.46 L359.22,470.01 L359.60,468.54 L359.98,467.04 L360.36,465.52 L360.74,463.97 L361.12,462.40 L361.50,460.80 L361.88,459.18 L362.27,457.53 L362.65,455.84 L363.03,454.13 L363.41,452.39 L363.79,450.61 L364.17,448.80 L364.55,446.96 L364.93,445.08 L365.32,443.16 L365.70,441.20 L366.08,439.20 L366.46,437.16 L366.84,435.08 L367.22,432.95 L367.60,430.77 L367.99,428.54 L368.37,426.26 L368.75,423.92 L369.13,421.53" stroke="#8c564b" stroke-width="4.5" fill="none" stroke-linecap="square"/>
<path d="M399.81,421.29 L400.19,423.47 L400.57,425.60 L400.95,427.68 L401.33,429.72 L401.71,431.72 L402.10,433.67 L402.48,435.58 L402.86,437.46 L403.24,439.29 L403.62,441.10 L404.00,442.86 L404.38,444.60 L404.77,446.30 L405.15,447.97 L405.53,449.62 L405.91,451.23 L406.29,452.82 L406.67,454.38 L407.05,455.92 L407.43,457.43 L407.82,458.92 L408.20,460.39 L408.58,461.83 L408.96,463.25 L409.34,464.65 L409.72,466.03 L410.10,467.39 L410.48,468.73 L410.87,470.05 L411.25,471.36 L411.63,472.64 L412.01,473.91 L412.39,475.17 L412.77,476.40 L413.15,477.62 L413.54,478.83 L413.92,480.02 L414.30,481.19 L414.68,482.36 L415.06,483.50 L415.44,484.64 L415.82,485.76 L416.20,486.87 L416.59,487.96 L416.97,489.05 L417.35,490.12 L417.73,491.18 L418.11,492.22 L418.49,493.26 L418.87,494.29 L419.25,495.30 L419.64,496.31 L420.02,497.30 L420.40,498.28 L420.78,499.26 L421.16,500.22 L421.54,501.18 L421.92,502.12 L422.31,503.06 L422.69,503.99 L423.07,504.90 L423.45,505.81 L423.83,506.72 L424.21,507.61 L424.59,508.49 L424.97,509.37 L425.36,510.24 L425.74,511.10 L426.12,511.96 L426.50,512.80 L426.88,513.64 L427.26,514.48 L427.64,515.30 L428.02,516.12 L428.41,516.93 L428.79,517.74 L429.17,518.54 L429.55,519.33 L429.93,520.11 L430.31,520.89 L430.69,521.67 L431.07,522.43 L431.46,523.20 L431.84,523.95 L432.22,524.70 L432.60,525.45 L432.98,526.18 L433.36,526.92 L433.74,527.64 L434.13,528.37 L434.51,529.08 L434.89,529.80 L435.27,530.50 L435.65,531.20 L436.03,531.90 L436.41,532.59 L436.79,533.28 L437.18,533.96 L437.56,534.64 L437.94,535.31 L438.32,535.98 L438.70,536.65 L439.08,537.31 L439.46,537.96 L439.84,538.61 L440.23,539.26 L440.61,539.90 L440.99,540.54 L441.37,541.18 L441.75,541.81 L442.13,542.43 L442.51,543.05 L442.90,543.67 L443.28,544.29 L443.66,544.90 L444.04,545.51 L444.42,546.11 L444.80,546.71 L445.18,547.31 L445.56,547.90 L445.95,548.49 L446.33,549.07 L446.71,549.66 L447.09,550.24 L447.47,550.81 L447.85,551.38 L448.23,551.95 L448.61,552.52 L449.00,553.08 L449.38,553.64 L449.76,554.20 L450.14,554.75 L450.52,555.30 L450.90,555.85 L451.28,556.39 L451.67,556.94 L452.05,557.47 L452.43,558.01 L452.81,558.54 L453.19,559.07 L453.57,559.60 L453.95,560.12 L454.33,560.65 L454.72,561.17 L455.10,561.68 L455.48,562.20 L455.86,562.71 L456.24,563.22 L456.62,563.72 L457.00,564.23 L457.38,564.73 L457.77,565.22 L458.15,565.72 L458.53,566.21 L458.91,566.71 L459.29,567.19 L459.67,567.68 L460.05,568.17 L460.44,568.65 L460.82,569.13 L461.20,569.60 L461.58,570.08 L461.96,570.55 L462.34,571.02 L462.72,571.49 L463.10,571.96 L463.49,572.42 L463.87,572.88 L464.25,573.34 L464.63,573.80 L465.01,574.26 L465.39,574.71 L465.77,575.16 L466.15,575.61 L466.54,576.06 L466.92,576.51 L467.30,576.95 L467.68,577.39 L468.06,577.83 L468.44,578.27 L468.82,578.71 L469.21,579.14 L469.59,579.57 L469.97,580.00 L470.35,580.43 L470.73,580.86 L471.11,581.28 L471.49,581.71 L471.87,582.13 L472.26,582.55 L472.64,582.97 L473.02,583.38 L473.40,583.80 L473.78,584.21 L474.16,584.62 L474.54,585.03 L474.92,585.44 L475.31,585.85 L475.69,586.25 L476.07,586.66 L476.45,587.06 L476.83,587.46 L477.21,587.86 L477.59,588.25 L477.98,588.65 L478.36,589.04 L478.74,589.44 L479.12,589.83 L479.50,590.22 L479.88,590.60 L480.26,590.99 L480.64,591.38 L481.03,591.76 L481.41,592.14 L481.79,592.52 L482.17,592.90 L482.55,593.28 L482.93,593.66 L483.31,594.03 L483.69,594.41 L484.08,594.78 L484.46,595.15 L484.84,595.52 L485.22,595.89 L485.60,596.25 L485.98,596.62 L486.36,596.98 L486.75,597.35 L487.13,597.71 L487.51,598.07 L487.89,598.43 L488.27,598.79 L488.65,599.14 L489.03,599.50 L489.41,599.85 L489.80,600.21 L490.18,600.56 L490.56,600.91 L490.94,601.26 L491.32,601.61 L491.70,601.96 L492.08,602.30 L492.46,602.65 L492.85,602.99 L493.23,603.33 L493.61,603.67 L493.99,604.01 L494.37,604.35 L494.75,604.69 L495.13,605.03 L495.52,605.36 L495.90,605.70 L496.28,606.03 L496.66,606.37 L497.04,606.70 L497.42,607.03 L497.80,607.36 L498.18,607.69 L498.57,608.01 L498.95,608.34 L499.33,608.67 L499.71,608.99 L500.09,609.31 L500.47,609.63 L500.85,609.96 L501.23,610.28 L501.62,610.60 L502.00,610.91 L502.38,611.23 L502.76,611.55 L503.14,611.86 L503.52,612.18 L503.90,612.49 L504.28,612.80 L504.67,613.11 L505.05,613.43 L505.43,613.74 L505.81,614.04 L506.19,614.35 L506.57,614.66 L506.95,614.96 L507.34,615.27 L507.72,615.57 L508.10,615.88 L508.48,616.18 L508.86,616.48 L509.24,616.78 L509.62,617.08 L510.00,617.38 L510.39,617.68 L510.77,617.98 L511.15,618.27 L511.53,618.57 L511.91,618.86 L512.29,619.16 L512.67,619.45 L513.05,619.74 L513.44,620.03 L513.82,620.32 L514.20,620.61 L514.58,620.90 L514.96,621.19 L515.34,621.48 L515.72,621.76 L516.11,622.05 L516.49,622.34 L516.87,622.62 L517.25,622.90 L517.63,623.19 L518.01,623.47 L518.39,623.75 L518.77,624.03 L519.16,624.31 L519.54,624.59 L519.92,624.87 L520.30,625.14 L520.68,625.42 L521.06,625.70 L521.44,625.97 L521.82,626.25 L522.21,626.52 L522.59,626.79 L522.97,627.06 L523.35,627.34 L523.73,627.61 L524.11,627.88 L524.49,628.15 L524.88,628.42 L525.26,628.68 L525.64,628.95 L526.02,629.22 L526.40,629.48 L526.78,629.75 L527.16,630.01 L527.54,630.28 L527.93,630.54 L528.31,630.80 L528.69,631.07 L529.07,631.33 L529.45,631.59 L529.83,631.85 L530.21,632.11 L530.59,632.37 L530.98,632.62 L531.36,632.88 L531.74,633.14 L532.12,633.40 L532.50,633.65 L532.88,633.91 L533.26,634.16 L533.65,634.41 L534.03,634.67 L534.41,634.92 L534.79,635.17 L535.17,635.42 L535.55,635.67 L535.93,635.92 L536.31,636.17 L536.70,636.42 L537.08,636.67 L537.46,636.92 L537.84,637.17 L538.22,637.41 L538.60,637.66 L538.98,637.90 L539.36,638.15 L539.75,638.39 L540.13,638.64 L540.51,638.88 L540.89,639.12 L541.27,639.36 L541.65,639.61 L542.03,639.85 L542.42,640.09 L542.80,640.33 L543.18,640.57 L543.56,640.81 L543.94,641.04 L544.32,641.28 L544.70,641.52 L545.08,641.75 L545.47,641.99 L545.85,642.23 L546.23,642.46 L546.61,642.70 L546.99,642.93 L547.37,643.16 L547.75,643.40 L548.13,643.63 L548.52,643.86 L548.90,644.09 L549.28,644.32 L549.66,644.55 L550.04,644.78 L550.42,645.01 L550.80,645.24 L551.19,645.47 L551.57,645.70 L551.95,645.92 L552.33,646.15 L552.71,646.38 L553.09,646.60 L553.47,646.83 L553.85,647.05 L554.24,647.28 L554.62,647.50 L555.00,647.73 L555.38,647.95 L555.76,648.17 L556.14,648.39 L556.52,648.62 L556.90,648.84 L557.29,649.06 L557.67,649.28 L558.05,649.50 L558.43,649.72 L558.81,649.94 L559.19,650.15 L559.57,650.37 L559.96,650.59 L560.34,650.81 L560.72,651.02 L561.10,651.24 L561.48,651.45 L561.86,651.67 L562.24,651.88 L562.62,652.10 L563.01,652.31 L563.39,652.53 L563.77,652.74 L564.15,652.95 L564.53,653.16 L564.91,653.38 L565.29,653.59 L565.67,653.80 L566.06,654.01 L566.44,654.22 L566.82,654.43 L567.20,654.64 L567.58,654.85 L567.96,655.06 L568.34,655.26 L568.73,655.47 L569.11,655.68 L569.49,655.89 L569.87,656.09 L570.25,656.30 L570.63,656.50 L571.01,656.71 L571.39,656.91 L571.78,657.12 L572.16,657.32 L572.54,657.53 L572.92,657.73 L573.30,657.93 L573.68,658.13 L574.06,658.34 L574.44,658.54 L574.83,658.74 L575.21,658.94 L575.59,659.14 L575.97,659.34 L576.35,659.54 L576.73,659.74 L577.11,659.94 L577.49,660.14 L577.88,660.34 L578.26,660.53 L578.64,660.73 L579.02,660.93 L579.40,661.13 L579.78,661.32 L580.16,661.52 L580.55,661.71 L580.93,661.91 L581.31,662.11 L581.69,662.30 L582.07,662.49 L582.45,662.69 L582.83,662.88 L583.21,663.07 L583.60,663.27 L583.98,663.46 L584.36,663.65 L584.74,663.84 L585.12,664.04 L585.50,664.23 L585.88,664.42 L586.26,664.61 L586.65,664.80 L587.03,664.99 L587.41,665.18 L587.79,665.37 L588.17,665.56 L588.55,665.74 L588.93,665.93 L589.32,666.12 L589.70,666.31 L590.08,666.49 L590.46,666.68 L590.84,666.87 L591.22,667.05 L591.60,667.24 L591.98,667.43 L592.37,667.61 L592.75,667.80 L593.13,667.98 L593.51,668.16 L593.89,668.35 L594.27,668.53 L594.65,668.71 L595.03,668.90 L595.42,669.08 L595.80,669.26 L596.18,669.44 L596.56,669.63 L596.94,669.81 L597.32,669.99 L597.70,670.17 L598.09,670.35 L598.47,670.53 L598.85,670.71 L599.23,670.89 L599.61,671.07 L599.99,671.25 L600.37,671.43 L600.75,671.60 L601.14,671.78 L601.52,671.96 L601.90,672.14 L602.28,672.32 L602.66,672.49 L603.04,672.67 L603.42,672.84 L603.80,673.02 L604.19,673.20 L604.57,673.37 L604.95,673.55 L605.33,673.72 L605.71,673.90 L606.09,674.07 L606.47,674.24 L606.86,674.42 L607.24,674.59 L607.62,674.76 L608.00,674.94 L608.38,675.11 L608.76,675.28 L609.14,675.45 L609.52,675.63 L609.91,675.80 L610.29,675.97 L610.67,676.14 L611.05,676.31 L611.43,676.48 L611.81,676.65 L612.19,676.82 L612.57,676.99 L612.96,677.16 L613.34,677.33 L613.72,677.50 L614.10,677.67" stroke="#8c564b" stroke-width="4.5" fill="none" stroke-linecap="square"/>
<path d="M113.90,742.47 L114.35,742.32 L114.80,742.17 L115.25,742.01 L115.70,741.86 L116.15,741.71 L116.61,741.55 L117.06,741.40 L117.51,741.25 L117.96,741.09 L118.41,740.94 L118.86,740.78 L119.31,740.63 L119.76,740.47 L120.21,740.32 L120.66,740.16 L121.11,740.01 L121.57,739.85 L122.02,739.69 L122.47,739.54 L122.92,739.38 L123.37,739.22 L123.82,739.06 L124.27,738.90 L124.72,738.75 L125.17,738.59 L125.62,738.43 L126.07,738.27 L126.53,738.11 L126.98,737.95 L127.43,737.79 L127.88,737.63 L128.33,737.47 L128.78,737.31 L129.23,737.15 L129.68,736.99 L130.13,736.82 L130.58,736.66 L131.03,736.50 L131.49,736.34 L131.94,736.17 L132.39,736.01 L132.84,735.85 L133.29,735.68 L133.74,735.52 L134.19,735.36 L134.64,735.19 L135.09,735.03 L135.54,734.86 L135.99,734.69 L136.45,734.53 L136.90,734.36 L137.35,734.20 L137.80,734.03 L138.25,733.86 L138.70,733.69 L139.15,733.53 L139.60,733.36 L140.05,733.19 L140.50,733.02 L140.96,732.85 L141.41,732.68 L141.86,732.51 L142.31,732.34 L142.76,732.17 L143.21,732.00 L143.66,731.83 L144.11,731.66 L144.56,731.49 L145.01,731.32 L145.46,731.14 L145.92,730.97 L146.37,730.80 L146.82,730.63 L147.27,730.45 L147.72,730.28 L148.17,730.10 L148.62,729.93 L149.07,729.75 L149.52,729.58 L149.97,729.40 L150.42,729.23 L150.88,729.05 L151.33,728.87 L151.78,728.70 L152.23,728.52 L152.68,728.34 L153.13,728.16 L153.58,727.99 L154.03,727.81 L154.48,727.63 L154.93,727.45 L155.38,727.27 L155.84,727.09 L156.29,726.91 L156.74,726.73 L157.19,726.55 L157.64,726.36 L158.09,726.18 L158.54,726.00 L158.99,725.82 L159.44,725.63 L159.89,725.45 L160.34,725.27 L160.80,725.08 L161.25,724.90 L161.70,724.71 L162.15,724.53 L162.60,724.34 L163.05,724.16 L163.50,723.97 L163.95,723.78 L164.40,723.60 L164.85,723.41 L165.30,723.22 L165.76,723.03 L166.21,722.84 L166.66,722.65 L167.11,722.46 L167.56,722.27 L168.01,722.08 L168.46,721.89 L168.91,721.70 L169.36,721.51 L169.81,721.32 L170.26,721.13 L170.72,720.93 L171.17,720.74 L171.62,720.55 L172.07,720.35 L172.52,720.16 L172.97,719.96 L173.42,719.77 L173.87,719.57 L174.32,719.37 L174.77,719.18 L175.22,718.98 L175.68,718.78 L176.13,718.59 L176.58,718.39 L177.03,718.19 L177.48,717.99 L177.93,717.79 L178.38,717.59 L178.83,717.39 L179.28,717.19 L179.73,716.99 L180.18,716.78 L180.64,716.58 L181.09,716.38 L181.54,716.18 L181.99,715.97 L182.44,715.77 L182.89,715.56 L183.34,715.36 L183.79,715.15 L184.24,714.95 L184.69,714.74 L185.15,714.53 L185.60,714.33 L186.05,714.12 L186.50,713.91 L186.95,713.70 L187.40,713.49 L187.85,713.28 L188.30,713.07 L188.75,712.86 L189.20,712.65 L189.65,712.44 L190.11,712.23 L190.56,712.01 L191.01,711.80 L191.46,711.59 L191.91,711.37 L192.36,711.16 L192.81,710.94 L193.26,710.73 L193.71,710.51 L194.16,710.29 L194.61,710.07 L195.07,709.86 L195.52,709.64 L195.97,709.42 L196.42,709.20 L196.87,708.98 L197.32,708.76 L197.77,708.54 L198.22,708.32 L198.67,708.09 L199.12,707.87 L199.57,707.65 L200.03,707.42 L200.48,707.20 L200.93,706.98 L201.38,706.75 L201.83,706.52 L202.28,706.30 L202.73,706.07 L203.18,705.84 L203.63,705.61 L204.08,705.38 L204.53,705.16 L204.99,704.93 L205.44,704.69 L205.89,704.46 L206.34,704.23 L206.79,704.00 L207.24,703.77 L207.69,703.53 L208.14,703.30 L208.59,703.06 L209.04,702.83 L209.49,702.59 L209.95,702.35 L210.40,702.12 L210.85,701.88 L211.30,701.64 L211.75,701.40 L212.20,701.16 L212.65,700.92 L213.10,700.68 L213.55,700.44 L214.00,700.20 L214.45,699.95 L214.91,699.71 L215.36,699.47 L215.81,699.22 L216.26,698.97 L216.71,698.73 L217.16,698.48 L217.61,698.23 L218.06,697.99 L218.51,697.74 L218.96,697.49 L219.41,697.24 L219.87,696.98 L220.32,696.73 L220.77,696.48 L221.22,696.23 L221.67,695.97 L222.12,695.72 L222.57,695.46 L223.02,695.21 L223.47,694.95 L223.92,694.69 L224.37,694.43 L224.83,694.18 L225.28,693.92 L225.73,693.66 L226.18,693.39 L226.63,693.13 L227.08,692.87 L227.53,692.61 L227.98,692.34 L228.43,692.08 L228.88,691.81 L229.34,691.54 L229.79,691.28 L230.24,691.01 L230.69,690.74 L231.14,690.47 L231.59,690.20 L232.04,689.93 L232.49,689.66 L232.94,689.38 L233.39,689.11 L233.84,688.83 L234.30,688.56 L234.75,688.28 L235.20,688.01 L235.65,687.73 L236.10,687.45 L236.55,687.17 L237.00,686.89 L237.45,686.61 L237.90,686.32 L238.35,686.04 L238.80,685.76 L239.26,685.47 L239.71,685.19 L240.16,684.90 L240.61,684.61 L241.06,684.32 L241.51,684.03 L241.96,683.74 L242.41,683.45 L242.86,683.16 L243.31,682.87 L243.76,682.57 L244.22,682.28 L244.67,681.98 L245.12,681.68 L245.57,681.39 L246.02,681.09 L246.47,680.79 L246.92,680.49 L247.37,680.18 L247.82,679.88 L248.27,679.58 L248.72,679.27 L249.18,678.96 L249.63,678.66 L250.08,678.35 L250.53,678.04 L250.98,677.73 L251.43,677.42 L251.88,677.11 L252.33,676.79 L252.78,676.48 L253.23,676.16 L253.68,675.85 L254.14,675.53 L254.59,675.21 L255.04,674.89 L255.49,674.57 L255.94,674.25 L256.39,673.92 L256.84,673.60 L257.29,673.27 L257.74,672.94 L258.19,672.62 L258.64,672.29 L259.10,671.96 L259.55,671.62 L260.00,671.29 L260.45,670.96 L260.90,670.62 L261.35,670.29 L261.80,669.95 L262.25,669.61 L262.70,669.27 L263.15,668.93 L263.60,668.58 L264.06,668.24 L264.51,667.89 L264.96,667.55 L265.41,667.20 L265.86,666.85 L266.31,666.50 L266.76,666.15 L267.21,665.79 L267.66,665.44 L268.11,665.08 L268.56,664.72 L269.02,664.36 L269.47,664.00 L269.92,663.64 L270.37,663.28 L270.82,662.91 L271.27,662.55 L271.72,662.18 L272.17,661.81 L272.62,661.44 L273.07,661.07 L273.53,660.69 L273.98,660.32 L274.43,659.94 L274.88,659.56 L275.33,659.18 L275.78,658.80 L276.23,658.42 L276.68,658.03 L277.13,657.64 L277.58,657.26 L278.03,656.87 L278.49,656.47 L278.94,656.08 L279.39,655.69 L279.84,655.29 L280.29,654.89 L280.74,654.49 L281.19,654.09 L281.64,653.69 L282.09,653.28 L282.54,652.87 L282.99,652.46 L283.45,652.05 L283.90,651.64 L284.35,651.23 L284.80,650.81 L285.25,650.39 L285.70,649.97 L286.15,649.55 L286.60,649.12 L287.05,648.70 L287.50,648.27 L287.95,647.84 L288.41,647.41 L288.86,646.97 L289.31,646.54 L289.76,646.10 L290.21,645.66 L290.66,645.21 L291.11,644.77 L291.56,644.32 L292.01,643.87 L292.46,643.42 L292.91,642.97 L293.37,642.51 L293.82,642.05 L294.27,641.59 L294.72,641.13 L295.17,640.66 L295.62,640.20 L296.07,639.73 L296.52,639.25 L296.97,638.78 L297.42,638.30 L297.87,637.82 L298.33,637.34 L298.78,636.85 L299.23,636.37 L299.68,635.88 L300.13,635.38 L300.58,634.89 L301.03,634.39 L301.48,633.89 L301.93,633.38 L302.38,632.88 L302.83,632.37 L303.29,631.86 L303.74,631.34 L304.19,630.82 L304.64,630.30 L305.09,629.78 L305.54,629.25 L305.99,628.72 L306.44,628.19 L306.89,627.65 L307.34,627.11 L307.79,626.57 L308.25,626.03 L308.70,625.48 L309.15,624.92 L309.60,624.37 L310.05,623.81 L310.50,623.25 L310.95,622.68 L311.40,622.11 L311.85,621.54 L312.30,620.96 L312.75,620.38 L313.21,619.80 L313.66,619.21 L314.11,618.62 L314.56,618.03 L315.01,617.43 L315.46,616.82 L315.91,616.22 L316.36,615.60 L316.81,614.99 L317.26,614.37 L317.72,613.75 L318.17,613.12 L318.62,612.49 L319.07,611.85 L319.52,611.21 L319.97,610.56 L320.42,609.91 L320.87,609.26 L321.32,608.60 L321.77,607.94 L322.22,607.27 L322.68,606.59 L323.13,605.92 L323.58,605.23 L324.03,604.54 L324.48,603.85 L324.93,603.15 L325.38,602.44 L325.83,601.73 L326.28,601.02 L326.73,600.30 L327.18,599.57 L327.64,598.84 L328.09,598.10 L328.54,597.35 L328.99,596.60 L329.44,595.85 L329.89,595.08 L330.34,594.31 L330.79,593.54 L331.24,592.76 L331.69,591.97 L332.14,591.17 L332.60,590.37 L333.05,589.56 L333.50,588.74 L333.95,587.92 L334.40,587.08 L334.85,586.24 L335.30,585.40 L335.75,584.54 L336.20,583.68 L336.65,582.81 L337.10,581.93 L337.56,581.04 L338.01,580.14 L338.46,579.24 L338.91,578.32 L339.36,577.40 L339.81,576.47 L340.26,575.53 L340.71,574.57 L341.16,573.61 L341.61,572.64 L342.06,571.66 L342.52,570.66 L342.97,569.66 L343.42,568.65 L343.87,567.62 L344.32,566.58 L344.77,565.53 L345.22,564.47 L345.67,563.40 L346.12,562.31 L346.57,561.21 L347.02,560.10 L347.48,558.97 L347.93,557.84 L348.38,556.68 L348.83,555.51 L349.28,554.33 L349.73,553.13 L350.18,551.92 L350.63,550.69 L351.08,549.44 L351.53,548.18 L351.98,546.89 L352.44,545.59 L352.89,544.28 L353.34,542.94 L353.79,541.58 L354.24,540.21 L354.69,538.81 L355.14,537.39 L355.59,535.95 L356.04,534.49 L356.49,533.00 L356.94,531.49 L357.40,529.96 L357.85,528.39 L358.30,526.81 L358.75,525.19 L359.20,523.55 L359.65,521.87 L360.10,520.17 L360.55,518.43 L361.00,516.66 L361.45,514.86 L361.91,513.02 L362.36,511.14 L362.81,509.23 L363.26,507.28 L363.71,505.28 L364.16,503.24 L364.61,501.15 L365.06,499.02 L365.51,496.84 L365.96,494.60 L366.41,492.31 L366.87,489.97 L367.32,487.56 L367.77,485.09 L368.22,482.55 L368.67,479.94 L369.12,477.26 L369.57,474.49 L370.02,471.65 L370.47,468.71 L370.92,465.68 L371.37,462.55 L371.83,459.31 L372.28,455.95 L372.73,452.47 L373.18,448.86 L373.63,445.10 L374.08,441.19 L374.53,437.10 L374.98,432.84 L375.43,428.36 L375.88,423.67" stroke="#e377c2" stroke-width="4.5" fill="none" stroke-linecap="square"/>
<path d="M393.82,423.67 L394.27,428.36 L394.72,432.84 L395.17,437.10 L395.62,441.19 L396.07,445.10 L396.52,448.86 L396.97,452.47 L397.42,455.95 L397.87,459.31 L398.33,462.55 L398.78,465.68 L399.23,468.71 L399.68,471.65 L400.13,474.49 L400.58,477.26 L401.03,479.94 L401.48,482.55 L401.93,485.09 L402.38,487.56 L402.83,489.97 L403.29,492.31 L403.74,494.60 L404.19,496.84 L404.64,499.02 L405.09,501.15 L405.54,503.24 L405.99,505.28 L406.44,507.28 L406.89,509.23 L407.34,511.14 L407.79,513.02 L408.25,514.86 L408.70,516.66 L409.15,518.43 L409.60,520.17 L410.05,521.87 L410.50,523.55 L410.95,525.19 L411.40,526.81 L411.85,528.39 L412.30,529.96 L412.76,531.49 L413.21,533.00 L413.66,534.49 L414.11,535.95 L414.56,537.39 L415.01,538.81 L415.46,540.21 L415.91,541.58 L416.36,542.94 L416.81,544.28 L417.26,545.59 L417.72,546.89 L418.17,548.18 L418.62,549.44 L419.07,550.69 L419.52,551.92 L419.97,553.13 L420.42,554.33 L420.87,555.51 L421.32,556.68 L421.77,557.84 L422.22,558.97 L422.68,560.10 L423.13,561.21 L423.58,562.31 L424.03,563.40 L424.48,564.47 L424.93,565.53 L425.38,566.58 L425.83,567.62 L426.28,568.65 L426.73,569.66 L427.18,570.66 L427.64,571.66 L428.09,572.64 L428.54,573.61 L428.99,574.57 L429.44,575.53 L429.89,576.47 L430.34,577.40 L430.79,578.32 L431.24,579.24 L431.69,580.14 L432.14,581.04 L432.60,581.93 L433.05,582.81 L433.50,583.68 L433.95,584.54 L434.40,585.40 L434.85,586.24 L435.30,587.08 L435.75,587.92 L436.20,588.74 L436.65,589.56 L437.10,590.37 L437.56,591.17 L438.01,591.97 L438.46,592.76 L438.91,593.54 L439.36,594.31 L439.81,595.08 L440.26,595.85 L440.71,596.60 L441.16,597.35 L441.61,598.10 L442.06,598.84 L442.52,599.57 L442.97,600.30 L443.42,601.02 L443.87,601.73 L444.32,602.44 L444.77,603.15 L445.22,603.85 L445.67,604.54 L446.12,605.23 L446.57,605.92 L447.02,606.59 L447.48,607.27 L447.93,607.94 L448.38,608.60 L448.83,609.26 L449.28,609.91 L449.73,610.56 L450.18,611.21 L450.63,611.85 L451.08,612.49 L451.53,613.12 L451.98,613.75 L452.44,614.37 L452.89,614.99 L453.34,615.60 L453.79,616.22 L454.24,616.82 L454.69,617.43 L455.14,618.03 L455.59,618.62 L456.04,619.21 L456.49,619.80 L456.95,620.38 L457.40,620.96 L457.85,621.54 L458.30,622.11 L458.75,622.68 L459.20,623.25 L459.65,623.81 L460.10,624.37 L460.55,624.92 L461.00,625.48 L461.45,626.03 L461.91,626.57 L462.36,627.11 L462.81,627.65 L463.26,628.19 L463.71,628.72 L464.16,629.25 L464.61,629.78 L465.06,630.30 L465.51,630.82 L465.96,631.34 L466.41,631.86 L466.87,632.37 L467.32,632.88 L467.77,633.38 L468.22,633.89 L468.67,634.39 L469.12,634.89 L469.57,635.38 L470.02,635.88 L470.47,636.37 L470.92,636.85 L471.37,637.34 L471.83,637.82 L472.28,638.30 L472.73,638.78 L473.18,639.25 L473.63,639.73 L474.08,640.20 L474.53,640.66 L474.98,641.13 L475.43,641.59 L475.88,642.05 L476.33,642.51 L476.79,642.97 L477.24,643.42 L477.69,643.87 L478.14,644.32 L478.59,644.77 L479.04,645.21 L479.49,645.66 L479.94,646.10 L480.39,646.54 L480.84,646.97 L481.29,647.41 L481.75,647.84 L482.20,648.27 L482.65,648.70 L483.10,649.12 L483.55,649.55 L484.00,649.97 L484.45,650.39 L484.90,650.81 L485.35,651.23 L485.80,651.64 L486.25,652.05 L486.71,652.46 L487.16,652.87 L487.61,653.28 L488.06,653.69 L488.51,654.09 L488.96,654.49 L489.41,654.89 L489.86,655.29 L490.31,655.69 L490.76,656.08 L491.21,656.47 L491.67,656.87 L492.12,657.26 L492.57,657.64 L493.02,658.03 L493.47,658.42 L493.92,658.80 L494.37,659.18 L494.82,659.56 L495.27,659.94 L495.72,660.32 L496.17,660.69 L496.63,661.07 L497.08,661.44 L497.53,661.81 L497.98,662.18 L498.43,662.55 L498.88,662.91 L499.33,663.28 L499.78,663.64 L500.23,664.00 L500.68,664.36 L501.14,664.72 L501.59,665.08 L502.04,665.44 L502.49,665.79 L502.94,666.15 L503.39,666.50 L503.84,666.85 L504.29,667.20 L504.74,667.55 L505.19,667.89 L505.64,668.24 L506.10,668.58 L506.55,668.93 L507.00,669.27 L507.45,669.61 L507.90,669.95 L508.35,670.29 L508.80,670.62 L509.25,670.96 L509.70,671.29 L510.15,671.62 L510.60,671.96 L511.06,672.29 L511.51,672.62 L511.96,672.94 L512.41,673.27 L512.86,673.60 L513.31,673.92 L513.76,674.25 L514.21,674.57 L514.66,674.89 L515.11,675.21 L515.56,675.53 L516.02,675.85 L516.47,676.16 L516.92,676.48 L517.37,676.79 L517.82,677.11 L518.27,677.42 L518.72,677.73 L519.17,678.04 L519.62,678.35 L520.07,678.66 L520.52,678.96 L520.98,679.27 L521.43,679.58 L521.88,679.88 L522.33,680.18 L522.78,680.49 L523.23,680.79 L523.68,681.09 L524.13,681.39 L524.58,681.68 L525.03,681.98 L525.48,682.28 L525.94,682.57 L526.39,682.87 L526.84,683.16 L527.29,683.45 L527.74,683.74 L528.19,684.03 L528.64,684.32 L529.09,684.61 L529.54,684.90 L529.99,685.19 L530.44,685.47 L530.90,685.76 L531.35,686.04 L531.80,686.32 L532.25,686.61 L532.70,686.89 L533.15,687.17 L533.60,687.45 L534.05,687.73 L534.50,688.01 L534.95,688.28 L535.40,688.56 L535.86,688.83 L536.31,689.11 L536.76,689.38 L537.21,689.66 L537.66,689.93 L538.11,690.20 L538.56,690.47 L539.01,690.74 L539.46,691.01 L539.91,691.28 L540.36,691.54 L540.82,691.81 L541.27,692.08 L541.72,692.34 L542.17,692.61 L542.62,692.87 L543.07,693.13 L543.52,693.39 L543.97,693.66 L544.42,693.92 L544.87,694.18 L545.33,694.43 L545.78,694.69 L546.23,694.95 L546.68,695.21 L547.13,695.46 L547.58,695.72 L548.03,695.97 L548.48,696.23 L548.93,696.48 L549.38,696.73 L549.83,696.98 L550.29,697.24 L550.74,697.49 L551.19,697.74 L551.64,697.99 L552.09,698.23 L552.54,698.48 L552.99,698.73 L553.44,698.97 L553.89,699.22 L554.34,699.47 L554.79,699.71 L555.25,699.95 L555.70,700.20 L556.15,700.44 L556.60,700.68 L557.05,700.92 L557.50,701.16 L557.95,701.40 L558.40,701.64 L558.85,701.88 L559.30,702.12 L559.75,702.35 L560.21,702.59 L560.66,702.83 L561.11,703.06 L561.56,703.30 L562.01,703.53 L562.46,703.77 L562.91,704.00 L563.36,704.23 L563.81,704.46 L564.26,704.69 L564.71,704.93 L565.17,705.16 L565.62,705.38 L566.07,705.61 L566.52,705.84 L566.97,706.07 L567.42,706.30 L567.87,706.52 L568.32,706.75 L568.77,706.98 L569.22,707.20 L569.67,707.42 L570.13,707.65 L570.58,707.87 L571.03,708.09 L571.48,708.32 L571.93,708.54 L572.38,708.76 L572.83,708.98 L573.28,709.20 L573.73,709.42 L574.18,709.64 L574.63,709.86 L575.09,710.07 L575.54,710.29 L575.99,710.51 L576.44,710.73 L576.89,710.94 L577.34,711.16 L577.79,711.37 L578.24,711.59 L578.69,711.80 L579.14,712.01 L579.59,712.23 L580.05,712.44 L580.50,712.65 L580.95,712.86 L581.40,713.07 L581.85,713.28 L582.30,713.49 L582.75,713.70 L583.20,713.91 L583.65,714.12 L584.10,714.33 L584.55,714.53 L585.01,714.74 L585.46,714.95 L585.91,715.15 L586.36,715.36 L586.81,715.56 L587.26,715.77 L587.71,715.97 L588.16,716.18 L588.61,716.38 L589.06,716.58 L589.52,716.78 L589.97,716.99 L590.42,717.19 L590.87,717.39 L591.32,717.59 L591.77,717.79 L592.22,717.99 L592.67,718.19 L593.12,718.39 L593.57,718.59 L594.02,718.78 L594.48,718.98 L594.93,719.18 L595.38,719.37 L595.83,719.57 L596.28,719.77 L596.73,719.96 L597.18,720.16 L597.63,720.35 L598.08,720.55 L598.53,720.74 L598.98,720.93 L599.44,721.13 L599.89,721.32 L600.34,721.51 L600.79,721.70 L601.24,721.89 L601.69,722.08 L602.14,722.27 L602.59,722.46 L603.04,722.65 L603.49,722.84 L603.94,723.03 L604.40,723.22 L604.85,723.41 L605.30,723.60 L605.75,723.78 L606.20,723.97 L606.65,724.16 L607.10,724.34 L607.55,724.53 L608.00,724.71 L608.45,724.90 L608.90,725.08 L609.36,725.27 L609.81,725.45 L610.26,725.63 L610.71,725.82 L611.16,726.00 L611.61,726.18 L612.06,726.36 L612.51,726.55 L612.96,726.73 L613.41,726.91 L613.86,727.09 L614.32,727.27 L614.77,727.45 L615.22,727.63 L615.67,727.81 L616.12,727.99 L616.57,728.16 L617.02,728.34 L617.47,728.52 L617.92,728.70 L618.37,728.87 L618.82,729.05 L619.28,729.23 L619.73,729.40 L620.18,729.58 L620.63,729.75 L621.08,729.93 L621.53,730.10 L621.98,730.28 L622.43,730.45 L622.88,730.63 L623.33,730.80 L623.78,730.97 L624.24,731.14 L624.69,731.32 L625.14,731.49 L625.59,731.66 L626.04,731.83 L626.49,732.00 L626.94,732.17 L627.39,732.34 L627.84,732.51 L628.29,732.68 L628.74,732.85 L629.20,733.02 L629.65,733.19 L630.10,733.36 L630.55,733.53 L631.00,733.69 L631.45,733.86 L631.90,734.03 L632.35,734.20 L632.80,734.36 L633.25,734.53 L633.71,734.69 L634.16,734.86 L634.61,735.03 L635.06,735.19 L635.51,735.36 L635.96,735.52 L636.41,735.68 L636.86,735.85 L637.31,736.01 L637.76,736.17 L638.21,736.34 L638.67,736.50 L639.12,736.66 L639.57,736.82 L640.02,736.99 L640.47,737.15 L640.92,737.31 L641.37,737.47 L641.82,737.63 L642.27,737.79 L642.72,737.95 L643.17,738.11 L643.63,738.27 L644.08,738.43 L644.53,738.59 L644.98,738.75 L645.43,738.90 L645.88,739.06 L646.33,739.22 L646.78,739.38 L647.23,739.54 L647.68,739.69 L648.13,739.85 L648.59,740.01 L649.04,740.16 L649.49,740.32 L649.94,740.47 L650.39,740.63 L650.84,740.78 L651.29,740.94 L651.74,741.09 L652.19,741.25 L652.64,741.40 L653.09,741.55 L653.55,741.71 L654.00,741.86 L654.45,742.01 L654.90,742.17 L655.35,742.32 L655.80,742.47" stroke="#e377c2" stroke-width="4.5" fill="none" stroke-linecap="square"/>
<g fill="#ff7f0e"><rect x="152.80" y="688.70" width="4.4" height="5.90"/><rect x="160.90" y="681.60" width="4.4" height="6.00"/><rect x="168.90" y="677.80" width="4.4" height="6.20"/><rect x="176.30" y="673.60" width="4.4" height="6.30"/><rect x="184.00" y="665.60" width="4.4" height="7.20"/><rect x="192.00" y="665.60" width="4.4" height="7.20"/><rect x="199.40" y="659.80" width="4.4" height="7.20"/><rect x="206.50" y="658.50" width="4.4" height="7.90"/><rect x="214.50" y="647.90" width="4.4" height="7.20"/><rect x="221.90" y="644.70" width="4.4" height="7.90"/><rect x="229.90" y="641.50" width="4.4" height="7.90"/><rect x="237.30" y="632.80" width="4.4" height="7.90"/><rect x="245.00" y="627.00" width="4.4" height="7.30"/><rect x="252.40" y="626.40" width="4.4" height="7.90"/><rect x="260.40" y="619.00" width="4.4" height="8.80"/><rect x="267.80" y="603.90" width="4.4" height="8.50"/><rect x="275.80" y="593.30" width="4.4" height="8.80"/><rect x="283.50" y="592.40" width="4.4" height="9.10"/><rect x="291.20" y="586.90" width="4.4" height="8.20"/><rect x="299.00" y="575.70" width="4.4" height="8.80"/><rect x="306.50" y="565.00" width="4.4" height="7.70"/><rect x="313.90" y="560.00" width="4.4" height="7.80"/><rect x="321.90" y="539.30" width="4.4" height="9.00"/><rect x="329.60" y="530.90" width="4.4" height="8.70"/><rect x="337.00" y="519.50" width="4.4" height="8.20"/><rect x="345.00" y="497.90" width="4.4" height="9.00"/><rect x="352.40" y="486.20" width="4.4" height="8.80"/><rect x="367.30" y="440.10" width="4.4" height="7.70"/><rect x="405.80" y="456.90" width="4.4" height="8.80"/><rect x="413.20" y="470.60" width="4.4" height="9.00"/><rect x="421.20" y="483.50" width="4.4" height="9.00"/><rect x="428.80" y="489.70" width="4.4" height="9.00"/><rect x="436.80" y="519.50" width="4.4" height="8.20"/><rect x="444.20" y="536.40" width="4.4" height="8.20"/><rect x="451.70" y="548.30" width="4.4" height="7.10"/><rect x="459.10" y="560.00" width="4.4" height="8.30"/><rect x="467.00" y="582.10" width="4.4" height="8.80"/><rect x="474.70" y="579.80" width="4.4" height="8.90"/><rect x="482.10" y="591.70" width="4.4" height="8.80"/><rect x="490.10" y="601.30" width="4.4" height="8.90"/><rect x="497.50" y="608.40" width="4.4" height="8.20"/><rect x="505.20" y="622.20" width="4.4" height="8.20"/><rect x="513.20" y="618.40" width="4.4" height="8.50"/><rect x="520.60" y="629.60" width="4.4" height="8.50"/><rect x="528.00" y="643.70" width="4.4" height="8.90"/><rect x="536.00" y="644.70" width="4.4" height="8.80"/><rect x="543.70" y="651.10" width="4.4" height="8.80"/><rect x="551.10" y="653.40" width="4.4" height="8.80"/><rect x="558.50" y="657.50" width="4.4" height="8.90"/><rect x="566.50" y="666.20" width="4.4" height="8.20"/><rect x="574.20" y="672.00" width="4.4" height="7.90"/><rect x="581.60" y="674.60" width="4.4" height="7.80"/><rect x="589.60" y="679.40" width="4.4" height="8.50"/><rect x="597.00" y="689.00" width="4.4" height="7.90"/><rect x="604.70" y="691.30" width="4.4" height="7.20"/><rect x="612.10" y="696.70" width="4.4" height="6.60"/></g>
<g fill="#2ca02c"><rect x="111.70" y="750.20" width="4.4" height="11.10"/><rect x="125.20" y="740.60" width="4.4" height="10.40"/><rect x="139.00" y="740.60" width="4.4" height="11.10"/><rect x="152.20" y="731.60" width="4.4" height="10.80"/><rect x="166.00" y="729.40" width="4.4" height="11.40"/><rect x="179.20" y="712.40" width="4.4" height="11.40"/><rect x="193.00" y="713.30" width="4.4" height="11.40"/><rect x="206.50" y="700.50" width="4.4" height="11.40"/><rect x="220.30" y="691.40" width="4.4" height="11.40"/><rect x="233.80" y="678.40" width="4.4" height="12.10"/><rect x="247.60" y="678.40" width="4.4" height="12.10"/><rect x="261.10" y="676.80" width="4.4" height="12.70"/><rect x="274.20" y="641.50" width="4.4" height="14.60"/><rect x="287.70" y="638.30" width="4.4" height="14.40"/><rect x="301.50" y="606.40" width="4.4" height="17.80"/><rect x="315.20" y="586.30" width="4.4" height="19.90"/><rect x="328.80" y="576.90" width="4.4" height="21.20"/><rect x="342.50" y="555.80" width="4.4" height="27.60"/><rect x="355.60" y="545.00" width="4.4" height="30.20"/><rect x="369.30" y="533.90" width="4.4" height="33.90"/><rect x="396.60" y="529.40" width="4.4" height="35.40"/><rect x="410.00" y="561.50" width="4.4" height="25.60"/><rect x="423.90" y="550.00" width="4.4" height="30.20"/><rect x="437.30" y="591.80" width="4.4" height="20.70"/><rect x="450.90" y="603.70" width="4.4" height="18.20"/><rect x="464.50" y="630.60" width="4.4" height="15.80"/><rect x="477.30" y="655.90" width="4.4" height="13.70"/><rect x="491.70" y="643.10" width="4.4" height="15.30"/><rect x="504.50" y="670.40" width="4.4" height="13.60"/><rect x="518.40" y="675.80" width="4.4" height="13.70"/><rect x="531.80" y="697.00" width="4.4" height="13.70"/><rect x="545.70" y="700.40" width="4.4" height="13.50"/><rect x="559.10" y="718.80" width="4.4" height="13.00"/><rect x="572.60" y="723.60" width="4.4" height="13.00"/><rect x="586.40" y="723.60" width="4.4" height="13.00"/><rect x="600.20" y="725.20" width="4.4" height="13.00"/><rect x="613.70" y="740.00" width="4.4" height="12.70"/><rect x="627.20" y="750.20" width="4.4" height="12.10"/><rect x="640.40" y="756.70" width="4.4" height="11.00"/><rect x="654.50" y="763.70" width="4.4" height="11.40"/></g>
</g>
<rect x="96.8" y="167.0" width="223.7" height="188.4" rx="6" fill="#fff" fill-opacity="0.8" stroke="#cccccc" stroke-opacity="0.8" stroke-width="2.9"/>
<line x1="103.1" x2="148" y1="182.9" y2="182.9" stroke="#d62728" stroke-width="4.5"/>
<text x="162.5" y="189.5" font-family="Liberation Sans, sans-serif" font-size="20.3" fill="#000">D12_1 Dielectric</text>
<line x1="103.1" x2="148" y1="214.4" y2="214.4" stroke="#8c564b" stroke-width="4.5"/>
<text x="162.5" y="220.2" font-family="Liberation Sans, sans-serif" font-size="20.3" fill="#000">D12_1 Flux <tspan dx="1.8">1</tspan><tspan dx="0.8">/</tspan><tspan font-style="italic" font-size="21" dx="0.5">f</tspan><tspan font-style="italic" font-size="16.5" dx="1.4" dy="-7.5">α</tspan></text>
<line x1="103.1" x2="148" y1="245.1" y2="245.1" stroke="#9467bd" stroke-width="4.5"/>
<text x="162.5" y="251.7" font-family="Liberation Sans, sans-serif" font-size="20.3" fill="#000">D11_1 Dielectric</text>
<line x1="103.1" x2="148" y1="276.9" y2="276.9" stroke="#e377c2" stroke-width="4.5"/>
<text x="162.5" y="282.9" font-family="Liberation Sans, sans-serif" font-size="20.3" fill="#000">D11_1 Flux <tspan dx="1.8">1</tspan><tspan dx="0.8">/</tspan><tspan font-style="italic" font-size="21" dx="0.5">f</tspan><tspan font-style="italic" font-size="16.5" dx="1.4" dy="-7.5">α</tspan></text>
<rect x="123.20" y="297.3" width="4.4" height="20.3" fill="#ff7f0e"/>
<text x="162.5" y="314.1" font-family="Liberation Sans, sans-serif" font-size="20.3" fill="#000">D12_1 Exp</text>
<rect x="123.20" y="326.2" width="4.4" height="19.9" fill="#2ca02c"/>
<text x="162.5" y="342.8" font-family="Liberation Sans, sans-serif" font-size="20.3" fill="#000">D11_1 Exp</text>
<rect x="273.8" y="662.8" width="221.8" height="129.8" rx="6" fill="#fff" fill-opacity="0.8" stroke="#cccccc" stroke-opacity="0.8" stroke-width="2.9"/>
<line x1="279.7" x2="325.3" y1="680.8" y2="680.8" stroke="#8c564b" stroke-width="4.5"/>
<line x1="279.7" x2="325.3" y1="714.1" y2="714.1" stroke="#e377c2" stroke-width="4.5"/>
<text x="339.2" y="686.3" font-family="Liberation Sans, sans-serif" font-size="20.3" fill="#000">D12_1 Flux <tspan dx="1.8">1</tspan><tspan dx="0.8">/</tspan><tspan font-style="italic" font-size="21" dx="0.5">f</tspan><tspan font-style="italic" font-size="16.5" dx="1.4" dy="-7.5">α</tspan></text>
<text x="339.2" y="720.1" font-family="Liberation Sans, sans-serif" font-size="20.3" fill="#000">D11_1 Flux <tspan dx="1.8">1</tspan><tspan dx="0.8">/</tspan><tspan font-style="italic" font-size="21" dx="0.5">f</tspan><tspan font-style="italic" font-size="16.5" dx="1.4" dy="-7.5">α</tspan></text>
<rect x="299.60" y="735.8" width="4.4" height="19.3" fill="#ff7f0e"/>
<text x="339.2" y="752.0" font-family="Liberation Sans, sans-serif" font-size="20.3" fill="#000">D12_1 Exp</text>
<rect x="299.60" y="763.6" width="4.4" height="20.3" fill="#2ca02c"/>
<text x="339.2" y="781.2" font-family="Liberation Sans, sans-serif" font-size="20.3" fill="#000">D11_1 Exp</text>
<rect x="86.8" y="1.1" width="596.8" height="364.9" fill="none" stroke="#000" stroke-width="2.5"/>
<line x1="159.40" x2="159.40" y1="366.0" y2="356.0" stroke="#000" stroke-width="2.2"/>
<text x="159.40" y="388.7" text-anchor="middle" font-family="Liberation Sans, sans-serif" font-size="17.5">0.35</text>
<line x1="234.63" x2="234.63" y1="366.0" y2="356.0" stroke="#000" stroke-width="2.2"/>
<text x="234.63" y="388.7" text-anchor="middle" font-family="Liberation Sans, sans-serif" font-size="17.5">0.40</text>
<line x1="309.87" x2="309.87" y1="366.0" y2="356.0" stroke="#000" stroke-width="2.2"/>
<text x="309.87" y="388.7" text-anchor="middle" font-family="Liberation Sans, sans-serif" font-size="17.5">0.45</text>
<line x1="385.10" x2="385.10" y1="366.0" y2="356.0" stroke="#000" stroke-width="2.2"/>
<text x="385.10" y="388.7" text-anchor="middle" font-family="Liberation Sans, sans-serif" font-size="17.5">0.50</text>
<line x1="460.33" x2="460.33" y1="366.0" y2="356.0" stroke="#000" stroke-width="2.2"/>
<text x="460.33" y="388.7" text-anchor="middle" font-family="Liberation Sans, sans-serif" font-size="17.5">0.55</text>
<line x1="535.57" x2="535.57" y1="366.0" y2="356.0" stroke="#000" stroke-width="2.2"/>
<text x="535.57" y="388.7" text-anchor="middle" font-family="Liberation Sans, sans-serif" font-size="17.5">0.60</text>
<line x1="610.80" x2="610.80" y1="366.0" y2="356.0" stroke="#000" stroke-width="2.2"/>
<text x="610.80" y="388.7" text-anchor="middle" font-family="Liberation Sans, sans-serif" font-size="17.5">0.65</text>
<line x1="86.8" x2="96.8" y1="302.90" y2="302.90" stroke="#000" stroke-width="2.2"/>
<line x1="86.8" x2="96.8" y1="144.20" y2="144.20" stroke="#000" stroke-width="2.2"/>
<line x1="86.8" x2="92.8" y1="350.67" y2="350.67" stroke="#000" stroke-width="1.7"/>
<line x1="86.8" x2="92.8" y1="338.11" y2="338.11" stroke="#000" stroke-width="1.7"/>
<line x1="86.8" x2="92.8" y1="327.48" y2="327.48" stroke="#000" stroke-width="1.7"/>
<line x1="86.8" x2="92.8" y1="318.28" y2="318.28" stroke="#000" stroke-width="1.7"/>
<line x1="86.8" x2="92.8" y1="310.16" y2="310.16" stroke="#000" stroke-width="1.7"/>
<line x1="86.8" x2="92.8" y1="255.13" y2="255.13" stroke="#000" stroke-width="1.7"/>
<line x1="86.8" x2="92.8" y1="227.18" y2="227.18" stroke="#000" stroke-width="1.7"/>
<line x1="86.8" x2="92.8" y1="207.35" y2="207.35" stroke="#000" stroke-width="1.7"/>
<line x1="86.8" x2="92.8" y1="191.97" y2="191.97" stroke="#000" stroke-width="1.7"/>
<line x1="86.8" x2="92.8" y1="179.41" y2="179.41" stroke="#000" stroke-width="1.7"/>
<line x1="86.8" x2="92.8" y1="168.78" y2="168.78" stroke="#000" stroke-width="1.7"/>
<line x1="86.8" x2="92.8" y1="159.58" y2="159.58" stroke="#000" stroke-width="1.7"/>
<line x1="86.8" x2="92.8" y1="151.46" y2="151.46" stroke="#000" stroke-width="1.7"/>
<line x1="86.8" x2="92.8" y1="96.43" y2="96.43" stroke="#000" stroke-width="1.7"/>
<line x1="86.8" x2="92.8" y1="68.48" y2="68.48" stroke="#000" stroke-width="1.7"/>
<line x1="86.8" x2="92.8" y1="48.65" y2="48.65" stroke="#000" stroke-width="1.7"/>
<line x1="86.8" x2="92.8" y1="33.27" y2="33.27" stroke="#000" stroke-width="1.7"/>
<line x1="86.8" x2="92.8" y1="20.71" y2="20.71" stroke="#000" stroke-width="1.7"/>
<line x1="86.8" x2="92.8" y1="10.08" y2="10.08" stroke="#000" stroke-width="1.7"/>
<text x="65.9" y="153.2" text-anchor="end" font-family="Liberation Sans, sans-serif" font-size="17.5">10</text><text x="67.0" y="141.3" font-family="Liberation Sans, sans-serif" font-size="12.4">2</text>
<text x="65.9" y="311.9" text-anchor="end" font-family="Liberation Sans, sans-serif" font-size="17.5">10</text><text x="67.0" y="300.0" font-family="Liberation Sans, sans-serif" font-size="12.4">1</text>
<text transform="rotate(-90)" font-family="Liberation Sans, sans-serif" font-size="24"><tspan x="-221.6" y="29.0" font-style="italic">T</tspan><tspan x="-206.2" y="33.4" font-size="16.8">1</tspan><tspan x="-188.6" y="29.0">(</tspan><tspan font-style="italic">μ</tspan><tspan>s)</tspan></text>
<text x="12.4" y="17.3" font-family="Liberation Sans, sans-serif" font-size="32" font-weight="bold">a</text>
<rect x="86.8" y="438.8" width="596.8" height="364.6" fill="none" stroke="#000" stroke-width="2.5"/>
<line x1="130.20" x2="130.20" y1="803.4" y2="793.4" stroke="#000" stroke-width="2.2"/>
<text x="130.20" y="826.3" text-anchor="middle" font-family="Liberation Sans, sans-serif" font-size="17.5">0.4985</text>
<line x1="215.08" x2="215.08" y1="803.4" y2="793.4" stroke="#000" stroke-width="2.2"/>
<text x="215.08" y="826.3" text-anchor="middle" font-family="Liberation Sans, sans-serif" font-size="17.5">0.4990</text>
<line x1="299.97" x2="299.97" y1="803.4" y2="793.4" stroke="#000" stroke-width="2.2"/>
<text x="299.97" y="826.3" text-anchor="middle" font-family="Liberation Sans, sans-serif" font-size="17.5">0.4995</text>
<line x1="384.85" x2="384.85" y1="803.4" y2="793.4" stroke="#000" stroke-width="2.2"/>
<text x="384.85" y="826.3" text-anchor="middle" font-family="Liberation Sans, sans-serif" font-size="17.5">0.5000</text>
<line x1="469.73" x2="469.73" y1="803.4" y2="793.4" stroke="#000" stroke-width="2.2"/>
<text x="469.73" y="826.3" text-anchor="middle" font-family="Liberation Sans, sans-serif" font-size="17.5">0.5005</text>
<line x1="554.62" x2="554.62" y1="803.4" y2="793.4" stroke="#000" stroke-width="2.2"/>
<text x="554.62" y="826.3" text-anchor="middle" font-family="Liberation Sans, sans-serif" font-size="17.5">0.5010</text>
<line x1="639.50" x2="639.50" y1="803.4" y2="793.4" stroke="#000" stroke-width="2.2"/>
<text x="639.50" y="826.3" text-anchor="middle" font-family="Liberation Sans, sans-serif" font-size="17.5">0.5015</text>
<line x1="86.8" x2="96.8" y1="803.20" y2="803.20" stroke="#000" stroke-width="2.2"/>
<line x1="86.8" x2="96.8" y1="588.70" y2="588.70" stroke="#000" stroke-width="2.2"/>
<line x1="86.8" x2="92.8" y1="738.63" y2="738.63" stroke="#000" stroke-width="1.7"/>
<line x1="86.8" x2="92.8" y1="700.86" y2="700.86" stroke="#000" stroke-width="1.7"/>
<line x1="86.8" x2="92.8" y1="674.06" y2="674.06" stroke="#000" stroke-width="1.7"/>
<line x1="86.8" x2="92.8" y1="653.27" y2="653.27" stroke="#000" stroke-width="1.7"/>
<line x1="86.8" x2="92.8" y1="636.29" y2="636.29" stroke="#000" stroke-width="1.7"/>
<line x1="86.8" x2="92.8" y1="621.93" y2="621.93" stroke="#000" stroke-width="1.7"/>
<line x1="86.8" x2="92.8" y1="609.49" y2="609.49" stroke="#000" stroke-width="1.7"/>
<line x1="86.8" x2="92.8" y1="598.51" y2="598.51" stroke="#000" stroke-width="1.7"/>
<line x1="86.8" x2="92.8" y1="524.13" y2="524.13" stroke="#000" stroke-width="1.7"/>
<line x1="86.8" x2="92.8" y1="486.36" y2="486.36" stroke="#000" stroke-width="1.7"/>
<line x1="86.8" x2="92.8" y1="459.56" y2="459.56" stroke="#000" stroke-width="1.7"/>
<text x="65.9" y="597.7" text-anchor="end" font-family="Liberation Sans, sans-serif" font-size="17.5">10</text><text x="67.0" y="585.8" font-family="Liberation Sans, sans-serif" font-size="12.4">1</text>
<text x="65.9" y="812.2" text-anchor="end" font-family="Liberation Sans, sans-serif" font-size="17.5">10</text><text x="67.0" y="800.3" font-family="Liberation Sans, sans-serif" font-size="12.4">0</text>
<text transform="rotate(-90)" font-family="Liberation Sans, sans-serif" font-size="24"><tspan x="-673.3" y="22.2" font-style="italic">T</tspan><tspan x="-660.0" y="28.0" font-size="16.8" font-style="italic">ϕ</tspan><tspan x="-656.0" y="13.9" font-size="16.8">echo</tspan><tspan x="-610.2" y="22.2">(</tspan><tspan font-style="italic">μ</tspan><tspan>s)</tspan></text>
<text font-family="Liberation Sans, sans-serif" font-size="23.6"><tspan x="343.4" y="858.8">Φ</tspan><tspan x="361.6" y="862.0" font-size="16.8" textLength="25.2">ext</tspan><tspan x="387.4" y="858.8">/Φ</tspan><tspan x="413.9" y="862.0" font-size="16.8">0</tspan></text>
<text x="10.4" y="459.3" font-family="Liberation Sans, sans-serif" font-size="32" font-weight="bold">b</text>
</svg>
</body></html>
